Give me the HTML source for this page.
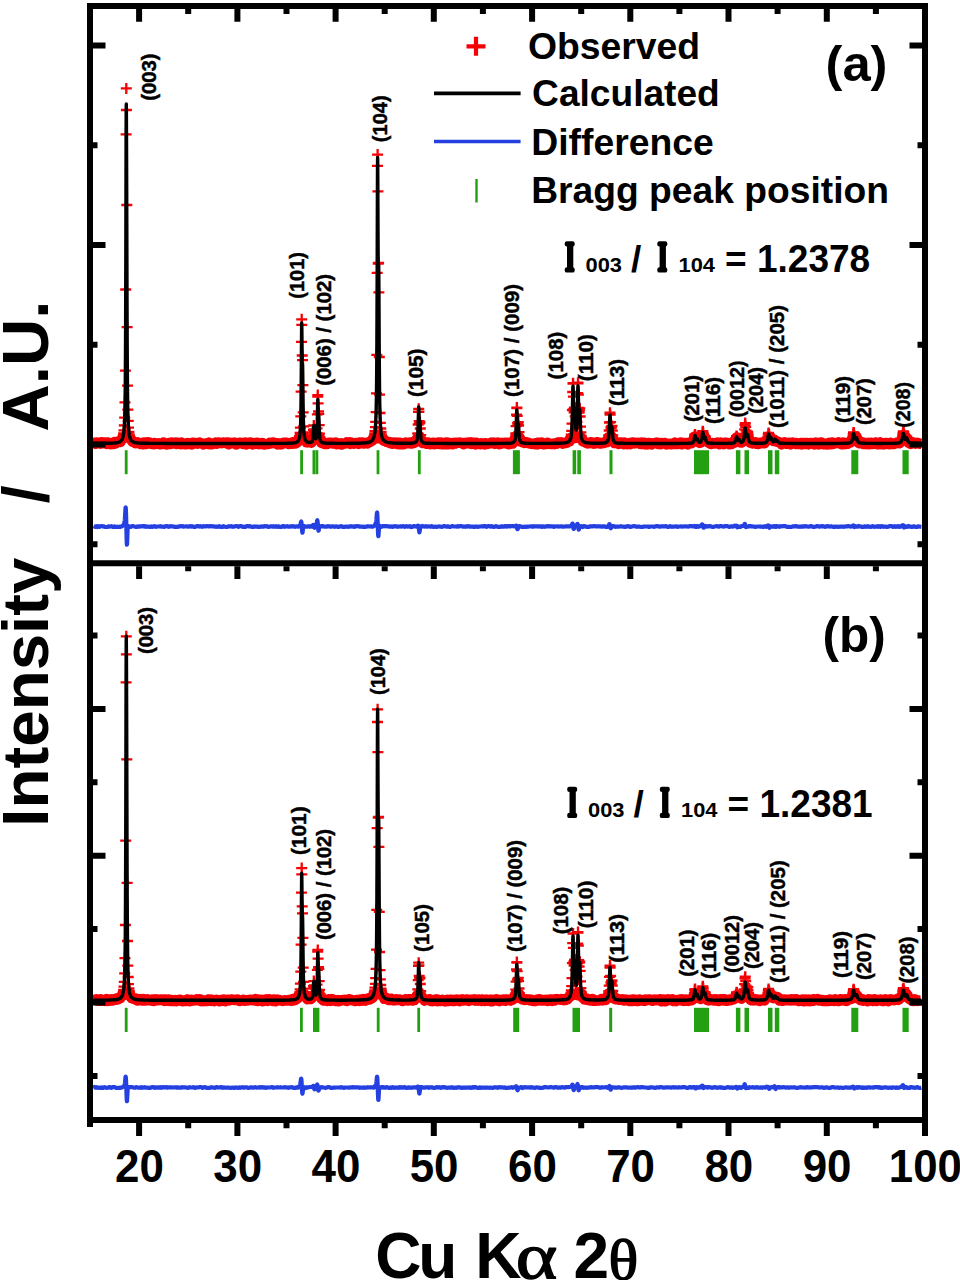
<!DOCTYPE html>
<html><head><meta charset="utf-8"><title>XRD Rietveld refinement</title>
<style>html,body{margin:0;padding:0;background:#fff;width:960px;height:1280px;overflow:hidden;font-family:"Liberation Sans",sans-serif;}svg{display:block;}</style>
</head><body>
<svg width="960" height="1280" viewBox="0 0 960 1280">
<polyline fill="none" stroke="#f40206" stroke-width="10.5" stroke-linejoin="round" points="93.5,443.1 94.5,442.7 95.5,443.7 96.5,442.6 97.5,443.5 98.5,443.1 99.5,442.5 100.5,443.4 101.5,442.5 102.5,443.2 103.5,442.5 104.5,442.5 105.5,443.2 106.5,444 107.5,442.5 108.5,442.7 109.5,443.5 110.5,444.1 111.5,443.3 112.5,442.9 113.5,444 114.5,442 115.5,443.6 116.5,442.3 117.5,441.8 118.5,441.5 119.5,441.5 120.5,441.9 121.5,439.6 122.5,438.5 123.5,437.8 124.5,437.2 125.5,437.6 126.5,436.6 127.5,436.6 128.5,436.9 129.5,437.9 130.5,438.9 131.5,440.2 132.5,441.6 133.5,441.9 134.5,441.9 135.5,443.2 136.5,443.1 137.5,442.4 138.5,443.1 139.5,443.1 140.5,443.9 141.5,443.6 142.5,442.8 143.5,444.2 144.5,442.5 145.5,443.1 146.5,443.8 147.5,442.6 148.5,443.3 149.5,442.4 150.5,443.7 151.5,443.9 152.5,443.5 153.5,444.1 154.5,443 155.5,443.8 156.5,443.6 157.5,443.6 158.5,443.3 159.5,444.1 160.5,444.3 161.5,443.4 162.5,443.8 163.5,442.6 164.5,443.8 165.5,443.7 166.5,444.4 167.5,444.1 168.5,443 169.5,443.2 170.5,443.8 171.5,442.5 172.5,443.4 173.5,442.8 174.5,442.7 175.5,442.6 176.5,444 177.5,442.7 178.5,443 179.5,443.3 180.5,444.2 181.5,442.6 182.5,443.4 183.5,443.6 184.5,444.2 185.5,444.1 186.5,444.2 187.5,443 188.5,443.3 189.5,443.2 190.5,444.2 191.5,444.4 192.5,442.8 193.5,442.8 194.5,442.9 195.5,443 196.5,443.5 197.5,443.7 198.5,443 199.5,442.5 200.5,443.3 201.5,443.2 202.5,443.6 203.5,444.4 204.5,443.9 205.5,443.5 206.5,443.7 207.5,443.9 208.5,442.6 209.5,444.3 210.5,444.1 211.5,444.2 212.5,444.1 213.5,443.3 214.5,443.3 215.5,442.7 216.5,443.8 217.5,442.6 218.5,442.6 219.5,442.9 220.5,442.8 221.5,443.2 222.5,442.6 223.5,442.5 224.5,442.8 225.5,442.7 226.5,443.2 227.5,442.5 228.5,444.2 229.5,443.7 230.5,442.8 231.5,443 232.5,443.2 233.5,443.2 234.5,442.7 235.5,444.2 236.5,444.5 237.5,443.4 238.5,443.5 239.5,442.7 240.5,442.7 241.5,443.2 242.5,443 243.5,444.1 244.5,442.8 245.5,442.5 246.5,444.4 247.5,443.5 248.5,442.8 249.5,443.6 250.5,442.5 251.5,443.5 252.5,444.4 253.5,444.2 254.5,443.9 255.5,443 256.5,443.2 257.5,442.8 258.5,444 259.5,443.5 260.5,444 261.5,443.1 262.5,442.9 263.5,444.1 264.5,444.4 265.5,444.2 266.5,444.1 267.5,444.1 268.5,443.9 269.5,442.9 270.5,443.5 271.5,443.2 272.5,442.5 273.5,442.5 274.5,443 275.5,443 276.5,443.8 277.5,444.3 278.5,443.3 279.5,444.3 280.5,444.4 281.5,444.3 282.5,443.1 283.5,442.8 284.5,442.8 285.5,442.7 286.5,442.7 287.5,443.5 288.5,444.1 289.5,443.9 290.5,443.1 291.5,443.4 292.5,443.7 293.5,442.1 294.5,443.1 295.5,443.4 296.5,442.8 297.5,442.1 298.5,440.3 299.5,436.9 300.5,438.1 301.5,437.2 302.5,438.1 303.5,438.4 304.5,437.3 305.5,440 306.5,442.3 307.5,442.4 308.5,441.6 309.5,441.6 310.5,441.6 311.5,442.7 312.5,441.2 313.5,436.8 314.5,438.2 315.5,438.6 316.5,437.8 317.5,437.2 318.5,437.6 319.5,436.8 320.5,439.4 321.5,442.9 322.5,442.8 323.5,442.9 324.5,443.8 325.5,442.9 326.5,443.9 327.5,443.9 328.5,442.7 329.5,442.8 330.5,442.9 331.5,442.8 332.5,443.5 333.5,442.9 334.5,443.2 335.5,442.6 336.5,444.2 337.5,443.1 338.5,443.3 339.5,443.5 340.5,444.2 341.5,443.2 342.5,444.2 343.5,443.4 344.5,443.4 345.5,443.4 346.5,442.4 347.5,443.2 348.5,442.7 349.5,442.3 350.5,443.9 351.5,442.7 352.5,443.3 353.5,443.7 354.5,443.4 355.5,442.9 356.5,443.3 357.5,443.3 358.5,443.8 359.5,442.4 360.5,443.3 361.5,442.6 362.5,442.6 363.5,443.5 364.5,442.9 365.5,442.9 366.5,443.2 367.5,443.4 368.5,442.2 369.5,442.3 370.5,441.6 371.5,441 372.5,440.4 373.5,438.2 374.5,437.6 375.5,437.5 376.5,438.4 377.5,437.9 378.5,438.3 379.5,438.4 380.5,437 381.5,437.6 382.5,439.2 383.5,440.7 384.5,440.3 385.5,440.9 386.5,441.9 387.5,441.5 388.5,442 389.5,441.9 390.5,443.2 391.5,443.5 392.5,443.8 393.5,442.4 394.5,443.5 395.5,443.5 396.5,442.5 397.5,444 398.5,444.2 399.5,442.7 400.5,444.2 401.5,443.1 402.5,443.3 403.5,444.3 404.5,444 405.5,442.6 406.5,443.2 407.5,443.3 408.5,442.9 409.5,442.6 410.5,442.9 411.5,443.6 412.5,442.1 413.5,443.1 414.5,442.7 415.5,441.4 416.5,441 417.5,437.7 418.5,437.5 419.5,436.6 420.5,438.5 421.5,441.2 422.5,443.1 423.5,441.9 424.5,442.5 425.5,442.2 426.5,443.8 427.5,442.8 428.5,442.6 429.5,443.2 430.5,444.2 431.5,444 432.5,442.9 433.5,442.7 434.5,444.2 435.5,443.6 436.5,443.8 437.5,442.6 438.5,442.5 439.5,443.8 440.5,443.3 441.5,442.6 442.5,444.3 443.5,443.7 444.5,444.1 445.5,442.6 446.5,444.2 447.5,442.6 448.5,444.2 449.5,443.4 450.5,443.1 451.5,443.6 452.5,444.3 453.5,443 454.5,442.7 455.5,443.5 456.5,442.9 457.5,442.7 458.5,442.8 459.5,442.6 460.5,442.9 461.5,443.1 462.5,443.1 463.5,444 464.5,443.1 465.5,443.5 466.5,442.8 467.5,443.2 468.5,442.5 469.5,443 470.5,442.5 471.5,444 472.5,443.6 473.5,442.9 474.5,443.4 475.5,444.4 476.5,442.7 477.5,444.1 478.5,443.3 479.5,443.5 480.5,444.2 481.5,443.3 482.5,443.5 483.5,443.9 484.5,444.4 485.5,443.2 486.5,444.1 487.5,443.9 488.5,443.7 489.5,443.3 490.5,443.2 491.5,442.6 492.5,442.7 493.5,442.6 494.5,443.9 495.5,443 496.5,442.8 497.5,442.6 498.5,444.1 499.5,444.2 500.5,443.8 501.5,443 502.5,442.9 503.5,443 504.5,443.3 505.5,442.7 506.5,443.2 507.5,442.8 508.5,444.2 509.5,444.1 510.5,443.2 511.5,442.4 512.5,443.6 513.5,441.8 514.5,440.7 515.5,436.5 516.5,437.3 517.5,437.4 518.5,437.5 519.5,437.5 520.5,441.4 521.5,441.4 522.5,442.3 523.5,442.2 524.5,442.9 525.5,442.3 526.5,442.3 527.5,442.9 528.5,442.8 529.5,443.5 530.5,443.4 531.5,443.9 532.5,443.7 533.5,443.8 534.5,444.2 535.5,443.2 536.5,443.1 537.5,444.4 538.5,442.7 539.5,443.9 540.5,443.7 541.5,442.5 542.5,444.1 543.5,444.2 544.5,443.7 545.5,443.9 546.5,444 547.5,442.7 548.5,443.4 549.5,443.4 550.5,444 551.5,444 552.5,444 553.5,443.5 554.5,444.1 555.5,443.7 556.5,443.7 557.5,442.7 558.5,442.3 559.5,442.5 560.5,442.9 561.5,442.3 562.5,443.7 563.5,443.1 564.5,443.1 565.5,443 566.5,442.9 567.5,442.2 568.5,440.7 569.5,441.4 570.5,439.3 571.5,437.5 572.5,437.6 573.5,437.8 574.5,436.6 575.5,438 576.5,437 577.5,436.6 578.5,437 579.5,438 580.5,436.9 581.5,438.1 582.5,441.3 583.5,441.5 584.5,441.9 585.5,442.4 586.5,443 587.5,443.4 588.5,443.2 589.5,443.3 590.5,442.2 591.5,442.4 592.5,442.7 593.5,443.7 594.5,442.8 595.5,443.3 596.5,442.2 597.5,442.3 598.5,442.8 599.5,443.5 600.5,443.6 601.5,443.5 602.5,442.7 603.5,443 604.5,442.8 605.5,442.5 606.5,441.4 607.5,441.9 608.5,437.2 609.5,438.5 610.5,438.4 611.5,436.5 612.5,437.4 613.5,440.8 614.5,442.8 615.5,442.4 616.5,442.4 617.5,442.4 618.5,444 619.5,442.6 620.5,443.4 621.5,442.6 622.5,443.4 623.5,444.2 624.5,442.6 625.5,444 626.5,443.4 627.5,444.2 628.5,443.8 629.5,442.9 630.5,444.2 631.5,443.4 632.5,442.5 633.5,442.4 634.5,443.4 635.5,443.3 636.5,443 637.5,442.7 638.5,443.1 639.5,443.1 640.5,444.1 641.5,442.5 642.5,444 643.5,444.1 644.5,442.7 645.5,444.3 646.5,443.9 647.5,444.3 648.5,443 649.5,443.2 650.5,443.3 651.5,444.5 652.5,443.6 653.5,443.2 654.5,443.3 655.5,443 656.5,442.6 657.5,442.7 658.5,444.1 659.5,443.1 660.5,444.3 661.5,443 662.5,443 663.5,443.5 664.5,442.9 665.5,443.2 666.5,444.4 667.5,444.2 668.5,444.1 669.5,443.7 670.5,444.3 671.5,444.3 672.5,443.6 673.5,443.9 674.5,442.6 675.5,443.9 676.5,443.4 677.5,444 678.5,443.7 679.5,443 680.5,442.5 681.5,444.3 682.5,442.7 683.5,443.4 684.5,443.1 685.5,443 686.5,443.8 687.5,444.3 688.5,442.8 689.5,443.5 690.5,442.7 691.5,443.1 692.5,442.4 693.5,440.7 694.5,436.8 695.5,436.9 696.5,439.9 697.5,438.7 698.5,440.9 699.5,442.9 700.5,442.7 701.5,439.7 702.5,436.8 703.5,436.9 704.5,436.7 705.5,437.8 706.5,440.8 707.5,442.1 708.5,442.5 709.5,443.2 710.5,444 711.5,443.8 712.5,443.1 713.5,443.2 714.5,443.4 715.5,443.1 716.5,443.1 717.5,442.5 718.5,442.9 719.5,444.3 720.5,442.6 721.5,443.4 722.5,443.6 723.5,444.1 724.5,442.8 725.5,442.9 726.5,442.8 727.5,443.1 728.5,443.2 729.5,444.2 730.5,443.9 731.5,443.9 732.5,442.1 733.5,441.9 734.5,442.7 735.5,441.3 736.5,437.4 737.5,439.3 738.5,438.4 739.5,439.7 740.5,442.5 741.5,442.5 742.5,442 743.5,440 744.5,437 745.5,436.7 746.5,436.8 747.5,437.5 748.5,437.9 749.5,442 750.5,442.7 751.5,443 752.5,443.4 753.5,442.9 754.5,443.2 755.5,442.3 756.5,443.8 757.5,442.7 758.5,444.1 759.5,443.5 760.5,442.8 761.5,442.4 762.5,442.6 763.5,443.3 764.5,443.3 765.5,441.8 766.5,440.9 767.5,439.2 768.5,437.7 769.5,437.3 770.5,437.6 771.5,438.4 772.5,440.1 773.5,441.1 774.5,439.8 775.5,440.8 776.5,441.7 777.5,441.7 778.5,442.1 779.5,442.4 780.5,442.6 781.5,444.2 782.5,443.7 783.5,443 784.5,442.4 785.5,443.4 786.5,443.8 787.5,443.3 788.5,442.9 789.5,443.8 790.5,444.3 791.5,442.9 792.5,442.5 793.5,443.1 794.5,443.3 795.5,443.8 796.5,442.9 797.5,444.1 798.5,443.9 799.5,443.5 800.5,442.9 801.5,444.4 802.5,443.1 803.5,444.1 804.5,442.9 805.5,442.9 806.5,444 807.5,443.1 808.5,444.4 809.5,443.5 810.5,442.9 811.5,442.9 812.5,443.3 813.5,443.8 814.5,444.4 815.5,442.8 816.5,443.3 817.5,442.9 818.5,444.4 819.5,442.8 820.5,442.6 821.5,442.6 822.5,443.3 823.5,444.3 824.5,444.2 825.5,443.9 826.5,444.5 827.5,444.3 828.5,443.1 829.5,442.8 830.5,444.3 831.5,444 832.5,442.5 833.5,443.8 834.5,443.2 835.5,443.2 836.5,443.1 837.5,442.8 838.5,442.4 839.5,443 840.5,443.1 841.5,444.3 842.5,442.6 843.5,444.3 844.5,442.8 845.5,443 846.5,443.9 847.5,443.8 848.5,442.9 849.5,441.9 850.5,442.4 851.5,441.1 852.5,439.1 853.5,436.9 854.5,437.2 855.5,439.4 856.5,436.6 857.5,439.9 858.5,442.7 859.5,443.2 860.5,442.1 861.5,442.2 862.5,442.4 863.5,444.1 864.5,442.8 865.5,443.8 866.5,444.2 867.5,443.1 868.5,442.9 869.5,444.3 870.5,443.7 871.5,443 872.5,443.9 873.5,443.1 874.5,443 875.5,442.4 876.5,444 877.5,444.3 878.5,443.7 879.5,444.3 880.5,442.5 881.5,442.9 882.5,443.4 883.5,444.4 884.5,444.3 885.5,443.2 886.5,442.9 887.5,443.3 888.5,443.4 889.5,444.3 890.5,442.8 891.5,444 892.5,443.8 893.5,444 894.5,443.8 895.5,443.5 896.5,442.8 897.5,442.7 898.5,442.6 899.5,443.2 900.5,441.1 901.5,439.9 902.5,438 903.5,437 904.5,436.6 905.5,437.3 906.5,437.6 907.5,439 908.5,442.6 909.5,443.3 910.5,443.8 911.5,442.6 912.5,442.3 913.5,442.4 914.5,443.3 915.5,443.7 916.5,443.3 917.5,442.8 918.5,443.2 919.5,443.6 920.5,443.8 921.5,443.9"/>
<path fill="none" stroke="#f40206" stroke-width="2.3" d="M117 438.2h11m-5.5-5.5v11M117.4 437.1h11m-5.5-5.5v11M117.7 435.7h11m-5.5-5.5v11M118.1 433.3h11m-5.5-5.5v11M118.5 430.4h11m-5.5-5.5v11M118.8 425.4h11m-5.5-5.5v11M119.2 417.6h11m-5.5-5.5v11M119.5 402.4h11m-5.5-5.5v11M119.9 370.7h11m-5.5-5.5v11M120.2 289.5h11m-5.5-5.5v11M120.6 134.3h11m-5.5-5.5v11M120.9 110h11m-5.5-5.5v11M121.3 205h11m-5.5-5.5v11M121.6 327.2h11m-5.5-5.5v11M122 385.7h11m-5.5-5.5v11M122.3 409.6h11m-5.5-5.5v11M122.7 420.8h11m-5.5-5.5v11M123 427.7h11m-5.5-5.5v11M123.4 431.8h11m-5.5-5.5v11M123.8 434.3h11m-5.5-5.5v11M124.1 436.2h11m-5.5-5.5v11M124.5 437.5h11m-5.5-5.5v11M293.9 438h11m-5.5-5.5v11M294.2 436.1h11m-5.5-5.5v11M294.6 433h11m-5.5-5.5v11M294.9 427.6h11m-5.5-5.5v11M295.3 416.3h11m-5.5-5.5v11M295.6 391.6h11m-5.5-5.5v11M296 341.9h11m-5.5-5.5v11M296.3 324.9h11m-5.5-5.5v11M296.7 355.5h11m-5.5-5.5v11M297 360.1h11m-5.5-5.5v11M297.4 385.1h11m-5.5-5.5v11M297.7 412.4h11m-5.5-5.5v11M298.1 426.4h11m-5.5-5.5v11M298.5 432.5h11m-5.5-5.5v11M298.8 435.9h11m-5.5-5.5v11M299.2 437.8h11m-5.5-5.5v11M307.7 436.2h11m-5.5-5.5v11M308 429.9h11m-5.5-5.5v11M308.4 425.7h11m-5.5-5.5v11M308.7 429.4h11m-5.5-5.5v11M309.1 430.8h11m-5.5-5.5v11M309.4 432.5h11m-5.5-5.5v11M309.8 436.3h11m-5.5-5.5v11M310.1 438.1h11m-5.5-5.5v11M310.5 438.3h11m-5.5-5.5v11M310.8 437.3h11m-5.5-5.5v11M311.2 434.6h11m-5.5-5.5v11M311.5 428.3h11m-5.5-5.5v11M311.9 414.3h11m-5.5-5.5v11M312.2 396.7h11m-5.5-5.5v11M312.6 403.3h11m-5.5-5.5v11M313 411.3h11m-5.5-5.5v11M313.3 413.8h11m-5.5-5.5v11M313.7 425.1h11m-5.5-5.5v11M314 433.7h11m-5.5-5.5v11M314.4 437.5h11m-5.5-5.5v11M368.1 438h11m-5.5-5.5v11M368.5 437h11m-5.5-5.5v11M368.8 435.6h11m-5.5-5.5v11M369.2 433.7h11m-5.5-5.5v11M369.5 431.1h11m-5.5-5.5v11M369.9 427.2h11m-5.5-5.5v11M370.2 421.8h11m-5.5-5.5v11M370.6 412.1h11m-5.5-5.5v11M371 393.3h11m-5.5-5.5v11M371.3 354.9h11m-5.5-5.5v11M371.7 272.9h11m-5.5-5.5v11M372 165.8h11m-5.5-5.5v11M372.4 191.4h11m-5.5-5.5v11M372.7 263.5h11m-5.5-5.5v11M373.1 263h11m-5.5-5.5v11M373.4 292.4h11m-5.5-5.5v11M373.8 357h11m-5.5-5.5v11M374.1 394.6h11m-5.5-5.5v11M374.5 413h11m-5.5-5.5v11M374.8 422.9h11m-5.5-5.5v11M375.2 428.5h11m-5.5-5.5v11M375.6 431.8h11m-5.5-5.5v11M375.9 434.3h11m-5.5-5.5v11M376.3 436.1h11m-5.5-5.5v11M376.6 437.2h11m-5.5-5.5v11M377 438.3h11m-5.5-5.5v11M412 437.6h11m-5.5-5.5v11M412.3 433.5h11m-5.5-5.5v11M412.7 424.5h11m-5.5-5.5v11M413 411.8h11m-5.5-5.5v11M413.4 411.6h11m-5.5-5.5v11M413.7 421.2h11m-5.5-5.5v11M414.1 423.3h11m-5.5-5.5v11M414.5 422.3h11m-5.5-5.5v11M414.8 428.5h11m-5.5-5.5v11M415.2 435.2h11m-5.5-5.5v11M509.9 437.3h11m-5.5-5.5v11M510.3 433.5h11m-5.5-5.5v11M510.6 426.1h11m-5.5-5.5v11M511 414.7h11m-5.5-5.5v11M511.4 408h11m-5.5-5.5v11M511.7 415.8h11m-5.5-5.5v11M512.1 423.2h11m-5.5-5.5v11M512.4 424.6h11m-5.5-5.5v11M512.8 422.2h11m-5.5-5.5v11M513.1 425.5h11m-5.5-5.5v11M513.5 432.2h11m-5.5-5.5v11M513.8 436.9h11m-5.5-5.5v11M565.1 438.5h11m-5.5-5.5v11M565.5 436.9h11m-5.5-5.5v11M565.8 434.6h11m-5.5-5.5v11M566.2 430.8h11m-5.5-5.5v11M566.5 423.7h11m-5.5-5.5v11M566.9 410h11m-5.5-5.5v11M567.2 392h11m-5.5-5.5v11M567.6 383.2h11m-5.5-5.5v11M567.9 396.6h11m-5.5-5.5v11M568.3 408.8h11m-5.5-5.5v11M568.6 412.4h11m-5.5-5.5v11M569 407.6h11m-5.5-5.5v11M569.3 407.8h11m-5.5-5.5v11M569.7 416.3h11m-5.5-5.5v11M570.1 424.1h11m-5.5-5.5v11M570.4 428.2h11m-5.5-5.5v11M570.8 429.4h11m-5.5-5.5v11M571.1 427.5h11m-5.5-5.5v11M571.5 421.9h11m-5.5-5.5v11M571.8 410.5h11m-5.5-5.5v11M572.2 393.1h11m-5.5-5.5v11M572.5 383.4h11m-5.5-5.5v11M572.9 394.6h11m-5.5-5.5v11M573.2 407.8h11m-5.5-5.5v11M573.6 412.5h11m-5.5-5.5v11M573.9 410.5h11m-5.5-5.5v11M574.3 408.4h11m-5.5-5.5v11M574.7 416.5h11m-5.5-5.5v11M575 426.6h11m-5.5-5.5v11M575.4 432.4h11m-5.5-5.5v11M575.7 436h11m-5.5-5.5v11M576.1 437.9h11m-5.5-5.5v11M602.9 438.1h11m-5.5-5.5v11M603.3 435.4h11m-5.5-5.5v11M603.7 430.5h11m-5.5-5.5v11M604 422.5h11m-5.5-5.5v11M604.4 413.8h11m-5.5-5.5v11M604.7 414.6h11m-5.5-5.5v11M605.1 422.1h11m-5.5-5.5v11M605.4 427.4h11m-5.5-5.5v11M605.8 428.2h11m-5.5-5.5v11M606.1 426.3h11m-5.5-5.5v11M606.5 426h11m-5.5-5.5v11M606.8 430.7h11m-5.5-5.5v11M607.2 435.3h11m-5.5-5.5v11M607.5 438.1h11m-5.5-5.5v11M688.9 437.7h11m-5.5-5.5v11M689.2 435.4h11m-5.5-5.5v11M689.6 434.7h11m-5.5-5.5v11M689.9 436.2h11m-5.5-5.5v11M690.3 438.1h11m-5.5-5.5v11M691.4 438.5h11m-5.5-5.5v11M691.7 438.1h11m-5.5-5.5v11M696.3 438.4h11m-5.5-5.5v11M696.7 435.7h11m-5.5-5.5v11M697 432.5h11m-5.5-5.5v11M697.4 431.4h11m-5.5-5.5v11M697.7 433.2h11m-5.5-5.5v11M698.1 436h11m-5.5-5.5v11M698.4 437.4h11m-5.5-5.5v11M698.8 437.6h11m-5.5-5.5v11M699.1 436.9h11m-5.5-5.5v11M699.5 436.5h11m-5.5-5.5v11M699.8 437.4h11m-5.5-5.5v11M730.6 437.8h11m-5.5-5.5v11M731 436.2h11m-5.5-5.5v11M731.3 436.5h11m-5.5-5.5v11M731.7 437.8h11m-5.5-5.5v11M738.4 437h11m-5.5-5.5v11M738.7 433.9h11m-5.5-5.5v11M739.1 429.4h11m-5.5-5.5v11M739.5 424.9h11m-5.5-5.5v11M739.8 423.1h11m-5.5-5.5v11M740.2 426.8h11m-5.5-5.5v11M740.5 430.7h11m-5.5-5.5v11M740.9 433.3h11m-5.5-5.5v11M741.2 434.2h11m-5.5-5.5v11M741.6 433.1h11m-5.5-5.5v11M741.9 431.7h11m-5.5-5.5v11M742.3 432.5h11m-5.5-5.5v11M742.6 434.9h11m-5.5-5.5v11M743 437.4h11m-5.5-5.5v11M762.4 436.6h11m-5.5-5.5v11M762.8 433.9h11m-5.5-5.5v11M763.1 433h11m-5.5-5.5v11M763.5 434.2h11m-5.5-5.5v11M763.9 436.5h11m-5.5-5.5v11M764.2 437.9h11m-5.5-5.5v11M764.9 438.2h11m-5.5-5.5v11M765.3 437.6h11m-5.5-5.5v11M765.6 437.3h11m-5.5-5.5v11M766 438.1h11m-5.5-5.5v11M847 438.5h11m-5.5-5.5v11M847.3 436.6h11m-5.5-5.5v11M847.7 434.2h11m-5.5-5.5v11M848 432.7h11m-5.5-5.5v11M848.4 432.9h11m-5.5-5.5v11M848.7 434.9h11m-5.5-5.5v11M849.1 436.8h11m-5.5-5.5v11M849.4 438.2h11m-5.5-5.5v11M850.1 438.4h11m-5.5-5.5v11M850.5 437.9h11m-5.5-5.5v11M850.9 437.2h11m-5.5-5.5v11M851.2 437.4h11m-5.5-5.5v11M896.8 437.3h11m-5.5-5.5v11M897.2 434.9h11m-5.5-5.5v11M897.5 432.7h11m-5.5-5.5v11M897.9 431.5h11m-5.5-5.5v11M898.2 432.2h11m-5.5-5.5v11M898.6 434.4h11m-5.5-5.5v11M898.9 436.2h11m-5.5-5.5v11M899.3 437.6h11m-5.5-5.5v11M899.7 438.3h11m-5.5-5.5v11M900 438.2h11m-5.5-5.5v11M900.4 437.7h11m-5.5-5.5v11M900.7 436.9h11m-5.5-5.5v11M901.1 436.6h11m-5.5-5.5v11M901.4 437.3h11m-5.5-5.5v11M120.8 88.4h11m-5.5-5.5v11M296.2 319.3h11m-5.5-5.5v11M308.3 425.4h11m-5.5-5.5v11M312.3 395.1h11m-5.5-5.5v11M372.1 154.6h11m-5.5-5.5v11M413.2 408.8h11m-5.5-5.5v11M511.3 407.6h11m-5.5-5.5v11M567.5 383.5h11m-5.5-5.5v11M572.5 382.7h11m-5.5-5.5v11M604.5 412.7h11m-5.5-5.5v11M689.5 434.5h11m-5.5-5.5v11M697.3 431.2h11m-5.5-5.5v11M731.1 436.1h11m-5.5-5.5v11M739.7 423.2h11m-5.5-5.5v11M763.1 432.9h11m-5.5-5.5v11M848.1 432.5h11m-5.5-5.5v11M897.9 431.5h11m-5.5-5.5v11"/>
<polyline fill="none" stroke="#000" stroke-width="3.4" stroke-linejoin="round" points="93.5,443.4 94.5,443.4 95.5,443.4 96.5,443.4 97.5,443.4 98.5,443.4 99.5,443.4 100.5,443.4 101.5,443.4 102.5,443.4 103.5,443.4 104.5,443.3 105.5,443.3 106.5,443.3 107.5,443.3 108.5,443.3 109.5,443.2 110.5,443.2 111.5,443.2 112.5,443.1 113.5,443.1 114.5,443 115.5,442.9 116.5,442.7 117.5,442.6 118.5,442.3 119.5,441.9 120.5,441.4 121.5,440.4 122.5,438.6 123.5,434.5 123.6,433.9 123.7,433.1 123.8,432.3 123.9,431.4 124,430.4 124.1,429.2 124.2,427.9 124.3,426.3 124.4,424.6 124.5,422.5 124.6,420.2 124.7,417.4 124.8,414 124.9,410 125,405.1 125.1,398.9 125.2,391.2 125.3,381.2 125.4,368.3 125.5,351.5 125.6,329.5 125.7,301.1 125.8,265.5 125.9,222.8 126,176.6 126.1,135.1 126.2,109.3 126.3,104 126.3,104.8 126.4,116.7 126.5,136.5 126.6,160.7 126.7,190.5 126.8,225.7 126.9,262.5 127,296.2 127.1,324.5 127.2,347.2 127.3,364.9 127.4,378.6 127.5,389.2 127.6,397.5 127.7,404 127.8,409.2 127.9,413.4 128,416.9 128.1,419.8 128.2,422.2 128.3,424.3 128.4,426.1 128.5,427.7 128.6,429.1 128.7,430.2 128.8,431.3 128.9,432.2 129,433.1 129.1,433.8 129.2,434.5 129.3,435.1 129.4,435.6 129.5,436.1 129.6,436.5 129.7,436.9 129.8,437.3 129.9,437.7 130,438 130.1,438.3 130.2,438.5 130.3,438.8 130.4,439 130.5,439.2 130.6,439.4 130.7,439.6 130.8,439.8 130.9,439.9 131,440.1 131.1,440.2 131.2,440.4 131.3,440.5 131.4,440.6 131.5,440.7 131.6,440.8 131.7,440.9 131.8,441 131.9,441.1 132,441.2 132.1,441.3 132.2,441.3 132.3,441.4 133.3,442 134.3,442.3 135.3,442.6 136.3,442.8 137.3,442.9 138.3,443 139.3,443.1 140.3,443.1 141.3,443.2 142.3,443.2 143.3,443.2 144.3,443.3 145.3,443.3 146.3,443.3 147.3,443.3 148.3,443.3 149.3,443.4 150.3,443.4 151.3,443.4 152.3,443.4 153.3,443.4 154.3,443.4 155.3,443.4 156.3,443.4 157.3,443.4 158.3,443.4 159.3,443.4 160.3,443.4 161.3,443.4 162.3,443.4 163.3,443.4 164.3,443.4 165.3,443.5 166.3,443.5 167.3,443.5 168.3,443.5 169.3,443.5 170.3,443.5 171.3,443.5 172.3,443.5 173.3,443.5 174.3,443.5 175.3,443.5 176.3,443.5 177.3,443.5 178.3,443.5 179.3,443.5 180.3,443.5 181.3,443.5 182.3,443.5 183.3,443.5 184.3,443.5 185.3,443.5 186.3,443.5 187.3,443.5 188.3,443.5 189.3,443.5 190.3,443.5 191.3,443.5 192.3,443.5 193.3,443.5 194.3,443.5 195.3,443.5 196.3,443.5 197.3,443.5 198.3,443.5 199.3,443.5 200.3,443.5 201.3,443.5 202.3,443.5 203.3,443.5 204.3,443.5 205.3,443.5 206.3,443.5 207.3,443.5 208.3,443.5 209.3,443.5 210.3,443.5 211.3,443.5 212.3,443.5 213.3,443.5 214.3,443.5 215.3,443.5 216.3,443.5 217.3,443.5 218.3,443.5 219.3,443.5 220.3,443.5 221.3,443.5 222.3,443.5 223.3,443.5 224.3,443.5 225.3,443.5 226.3,443.5 227.3,443.5 228.3,443.5 229.3,443.5 230.3,443.5 231.3,443.5 232.3,443.5 233.3,443.5 234.3,443.5 235.3,443.5 236.3,443.5 237.3,443.5 238.3,443.5 239.3,443.5 240.3,443.5 241.3,443.5 242.3,443.5 243.3,443.5 244.3,443.5 245.3,443.5 246.3,443.5 247.3,443.5 248.3,443.5 249.3,443.5 250.3,443.5 251.3,443.5 252.3,443.5 253.3,443.5 254.3,443.5 255.3,443.5 256.3,443.5 257.3,443.5 258.3,443.5 259.3,443.5 260.3,443.5 261.3,443.5 262.3,443.5 263.3,443.5 264.3,443.5 265.3,443.5 266.3,443.5 267.3,443.5 268.3,443.5 269.3,443.5 270.3,443.5 271.3,443.5 272.3,443.4 273.3,443.4 274.3,443.4 275.3,443.4 276.3,443.4 277.3,443.4 278.3,443.4 279.3,443.4 280.3,443.4 281.3,443.4 282.3,443.4 283.3,443.4 284.3,443.4 285.3,443.4 286.3,443.3 287.3,443.3 288.3,443.3 289.3,443.3 290.3,443.2 291.3,443.2 292.3,443.1 293.3,443 294.3,442.9 295.3,442.7 296.3,442.3 297.3,441.8 298.3,440.8 299.3,438.4 299.4,438 299.5,437.5 299.6,437 299.7,436.4 299.8,435.7 299.9,435 300,434.1 300.1,433 300.2,431.8 300.3,430.4 300.4,428.6 300.5,426.5 300.6,423.8 300.7,420.5 300.8,416.2 300.9,410.8 301,403.9 301.1,395.1 301.2,384.3 301.3,371.2 301.4,356.4 301.5,341.4 301.6,329.2 301.7,323.2 301.7,322.9 301.8,324.9 301.9,332.6 302,342.6 302.1,351.5 302.2,357.9 302.3,361.4 302.4,362.5 302.5,363.1 302.6,365.3 302.7,370.4 302.8,378.2 302.9,387.4 303,396.3 303.1,404.3 303.2,410.9 303.3,416.3 303.4,420.6 303.5,424.1 303.6,426.8 303.7,429 303.8,430.8 303.9,432.2 304,433.4 304.1,434.4 304.2,435.3 304.3,436 304.4,436.6 304.5,437.2 304.6,437.7 304.7,438.1 304.8,438.5 304.9,438.8 305,439.2 305.1,439.4 305.2,439.7 305.3,439.9 305.4,440.1 305.5,440.3 305.6,440.5 305.7,440.6 305.8,440.8 305.9,440.9 306,441 306.1,441.1 306.2,441.2 306.3,441.3 306.4,441.4 306.5,441.5 306.6,441.6 306.7,441.6 306.8,441.7 306.9,441.7 307,441.8 307.1,441.9 307.2,441.9 307.3,442 307.4,442 307.5,442 307.6,442.1 307.7,442.1 308.7,442.3 309.7,442.4 310.7,442.3 311.7,441.8 311.8,441.8 311.9,441.7 312,441.5 312.1,441.4 312.2,441.2 312.3,441.1 312.4,440.9 312.5,440.6 312.6,440.3 312.7,439.9 312.8,439.4 312.9,438.8 313,438 313.1,437 313.2,435.7 313.3,434.2 313.4,432.3 313.5,430.2 313.6,428.1 313.7,426.4 313.8,425.5 313.8,425.5 313.9,425.7 314,426.8 314.1,428.2 314.2,429.5 314.3,430.4 314.4,430.8 314.5,431 314.6,430.9 314.7,431 314.8,431.5 314.9,432.4 315,433.5 315.1,434.7 315.2,435.7 315.3,436.6 315.4,437.3 315.5,437.8 315.6,438.2 315.7,438.4 315.8,438.5 315.9,438.6 316,438.5 316.1,438.4 316.2,438.1 316.3,437.8 316.4,437.4 316.5,436.8 316.6,436.1 316.7,435.2 316.8,434 316.9,432.5 317,430.6 317.1,428.1 317.2,425 317.3,421.1 317.4,416.4 317.5,411.1 317.6,405.8 317.7,401.6 317.8,399.5 317.8,399.4 317.9,400.2 318,403 318.1,406.7 318.2,410.1 318.3,412.6 318.4,414 318.5,414.5 318.6,414.5 318.7,414.8 318.8,416 318.9,418.4 319,421.4 319.1,424.7 319.2,427.7 319.3,430.3 319.4,432.5 319.5,434.2 319.6,435.6 319.7,436.7 319.8,437.6 319.9,438.3 320,438.9 320.1,439.4 320.2,439.8 320.3,440.1 320.4,440.4 320.5,440.7 320.6,440.9 320.7,441.1 320.8,441.3 320.9,441.4 321,441.5 321.1,441.7 321.2,441.8 321.3,441.9 321.4,442 321.5,442.1 321.6,442.1 321.7,442.2 321.8,442.3 321.9,442.3 322,442.4 322.1,442.4 322.2,442.5 322.3,442.5 322.4,442.6 322.5,442.6 322.6,442.6 322.7,442.7 322.8,442.7 322.9,442.7 323,442.7 323.1,442.8 323.2,442.8 323.3,442.8 323.4,442.8 323.5,442.9 323.6,442.9 323.7,442.9 323.8,442.9 324.8,443 325.8,443.1 326.8,443.2 327.8,443.2 328.8,443.3 329.8,443.3 330.8,443.3 331.8,443.3 332.8,443.3 333.8,443.3 334.8,443.4 335.8,443.4 336.8,443.4 337.8,443.4 338.8,443.4 339.8,443.4 340.8,443.4 341.8,443.4 342.8,443.4 343.8,443.4 344.8,443.4 345.8,443.4 346.8,443.4 347.8,443.3 348.8,443.3 349.8,443.3 350.8,443.3 351.8,443.3 352.8,443.3 353.8,443.3 354.8,443.3 355.8,443.3 356.8,443.2 357.8,443.2 358.8,443.2 359.8,443.2 360.8,443.1 361.8,443.1 362.8,443 363.8,443 364.8,442.9 365.8,442.8 366.8,442.7 367.8,442.5 368.8,442.3 369.8,442 370.8,441.5 371.8,440.8 372.8,439.6 373.8,437.5 374.8,433 374.9,432.3 375,431.5 375.1,430.7 375.2,429.7 375.3,428.6 375.4,427.4 375.5,426 375.6,424.4 375.7,422.6 375.8,420.6 375.9,418.2 376,415.4 376.1,412.1 376.2,408.2 376.3,403.5 376.4,397.7 376.5,390.6 376.6,381.7 376.7,370.6 376.8,356.6 376.9,339.2 377,317.6 377.1,291.5 377.2,261 377.3,227.6 377.4,195.1 377.5,169.6 377.6,157.8 377.6,157.5 377.7,162.7 377.8,180.9 377.9,205.4 378,229.5 378.1,249 378.2,262.3 378.3,269 378.4,270 378.5,267.4 378.6,264.6 378.7,265.7 378.8,273.6 378.9,288.2 379,306.8 379.1,326.3 379.2,344.5 379.3,360.2 379.4,373.4 379.5,384.2 379.6,392.9 379.7,400 379.8,405.7 379.9,410.3 380,414.1 380.1,417.3 380.2,420 380.3,422.2 380.4,424.1 380.5,425.8 380.6,427.2 380.7,428.5 380.8,429.7 380.9,430.7 381,431.6 381.1,432.4 381.2,433.1 381.3,433.7 381.4,434.3 381.5,434.9 381.6,435.4 381.7,435.8 381.8,436.2 381.9,436.6 382,437 382.1,437.3 382.2,437.6 382.3,437.9 382.4,438.1 382.5,438.4 382.6,438.6 382.7,438.8 382.8,439 382.9,439.2 383,439.4 383.1,439.5 383.2,439.7 383.3,439.8 383.4,440 383.5,440.1 383.6,440.2 384.6,441.1 385.6,441.7 386.6,442.1 387.6,442.4 388.6,442.6 389.6,442.7 390.6,442.8 391.6,442.9 392.6,443 393.6,443.1 394.6,443.1 395.6,443.1 396.6,443.2 397.6,443.2 398.6,443.2 399.6,443.2 400.6,443.3 401.6,443.3 402.6,443.3 403.6,443.3 404.6,443.3 405.6,443.3 406.6,443.3 407.6,443.3 408.6,443.3 409.6,443.2 410.6,443.2 411.6,443.2 412.6,443.1 413.6,442.9 414.6,442.7 415.6,442.2 416.6,441 416.7,440.8 416.8,440.5 416.9,440.3 417,439.9 417.1,439.5 417.2,439.1 417.3,438.6 417.4,437.9 417.5,437.1 417.6,436.1 417.7,434.9 417.8,433.4 417.9,431.6 418,429.3 418.1,426.5 418.2,423.2 418.3,419.3 418.4,415.2 418.5,411.3 418.6,408.3 418.7,407 418.7,406.9 418.8,407.6 418.9,409.8 419,412.9 419.1,416 419.2,418.7 419.3,420.7 419.4,421.9 419.5,422.4 419.6,422.3 419.7,421.8 419.8,421.2 419.9,421.1 420,421.8 420.1,423.3 420.2,425.4 420.3,427.7 420.4,430 420.5,432 420.6,433.8 420.7,435.2 420.8,436.4 420.9,437.4 421,438.2 421.1,438.8 421.2,439.4 421.3,439.8 421.4,440.2 421.5,440.5 421.6,440.8 421.7,441 421.8,441.2 421.9,441.4 422,441.5 422.1,441.7 422.2,441.8 422.3,441.9 422.4,442 422.5,442.1 422.6,442.2 422.7,442.3 422.8,442.3 422.9,442.4 423,442.4 423.1,442.5 423.2,442.5 423.3,442.6 423.4,442.6 423.5,442.7 423.6,442.7 423.7,442.7 423.8,442.8 423.9,442.8 424,442.8 424.1,442.9 424.2,442.9 424.3,442.9 424.4,442.9 424.5,442.9 424.6,443 424.7,443 425.7,443.1 426.7,443.2 427.7,443.3 428.7,443.3 429.7,443.3 430.7,443.4 431.7,443.4 432.7,443.4 433.7,443.4 434.7,443.4 435.7,443.4 436.7,443.4 437.7,443.4 438.7,443.4 439.7,443.4 440.7,443.4 441.7,443.4 442.7,443.4 443.7,443.4 444.7,443.5 445.7,443.5 446.7,443.5 447.7,443.5 448.7,443.5 449.7,443.5 450.7,443.5 451.7,443.5 452.7,443.5 453.7,443.5 454.7,443.5 455.7,443.5 456.7,443.5 457.7,443.5 458.7,443.5 459.7,443.5 460.7,443.5 461.7,443.5 462.7,443.5 463.7,443.5 464.7,443.5 465.7,443.5 466.7,443.5 467.7,443.5 468.7,443.5 469.7,443.5 470.7,443.5 471.7,443.5 472.7,443.5 473.7,443.5 474.7,443.5 475.7,443.5 476.7,443.5 477.7,443.5 478.7,443.5 479.7,443.5 480.7,443.5 481.7,443.5 482.7,443.5 483.7,443.5 484.7,443.5 485.7,443.5 486.7,443.5 487.7,443.5 488.7,443.5 489.7,443.5 490.7,443.5 491.7,443.5 492.7,443.5 493.7,443.5 494.7,443.5 495.7,443.5 496.7,443.5 497.7,443.4 498.7,443.4 499.7,443.4 500.7,443.4 501.7,443.4 502.7,443.4 503.7,443.4 504.7,443.4 505.7,443.4 506.7,443.3 507.7,443.3 508.7,443.3 509.7,443.2 510.7,443.1 511.7,442.9 512.7,442.6 513.7,442.1 514.7,440.7 514.8,440.5 514.9,440.2 515,439.9 515.1,439.5 515.2,439.1 515.3,438.6 515.4,438 515.5,437.2 515.6,436.4 515.7,435.3 515.8,434 515.9,432.5 516,430.6 516.1,428.4 516.2,425.8 516.3,422.8 516.4,419.5 516.5,416.2 516.6,413.2 516.7,411 516.8,410 516.8,410 516.9,410.5 517,412.2 517.1,414.7 517.2,417.5 517.3,420.1 517.4,422.3 517.5,424 517.6,425.2 517.7,425.8 517.8,426 517.9,425.7 518,425.1 518.1,424.4 518.2,423.8 518.3,423.5 518.4,423.9 518.5,425 518.6,426.5 518.7,428.3 518.8,430.2 518.9,432 519,433.5 519.1,434.9 519.2,436 519.3,437 519.4,437.8 519.5,438.5 519.6,439.1 519.7,439.5 519.8,439.9 519.9,440.3 520,440.6 520.1,440.8 520.2,441 520.3,441.2 520.4,441.4 520.5,441.5 520.6,441.7 520.7,441.8 520.8,441.9 520.9,442 521,442.1 521.1,442.2 521.2,442.2 521.3,442.3 521.4,442.4 521.5,442.4 521.6,442.5 521.7,442.5 521.8,442.6 521.9,442.6 522,442.6 522.1,442.7 522.2,442.7 522.3,442.8 522.4,442.8 522.5,442.8 522.6,442.8 522.7,442.9 522.8,442.9 523.8,443.1 524.8,443.2 525.8,443.2 526.8,443.3 527.8,443.3 528.8,443.3 529.8,443.4 530.8,443.4 531.8,443.4 532.8,443.4 533.8,443.4 534.8,443.4 535.8,443.4 536.8,443.4 537.8,443.4 538.8,443.4 539.8,443.4 540.8,443.4 541.8,443.4 542.8,443.4 543.8,443.4 544.8,443.4 545.8,443.4 546.8,443.4 547.8,443.4 548.8,443.4 549.8,443.4 550.8,443.4 551.8,443.4 552.8,443.4 553.8,443.3 554.8,443.3 555.8,443.3 556.8,443.3 557.8,443.3 558.8,443.2 559.8,443.2 560.8,443.2 561.8,443.1 562.8,443.1 563.8,443 564.8,442.9 565.8,442.7 566.8,442.5 567.8,442.2 568.8,441.6 569.8,440.5 570.8,438 570.9,437.6 571,437.1 571.1,436.6 571.2,436 571.3,435.2 571.4,434.4 571.5,433.4 571.6,432.2 571.7,430.9 571.8,429.2 571.9,427.3 572,424.9 572.1,422.2 572.2,418.9 572.3,415.1 572.4,410.7 572.5,405.9 572.6,400.7 572.7,395.6 572.8,391.1 572.9,387.8 573,386.4 573,386.3 573.1,387 573.2,389.6 573.3,393.3 573.4,397.5 573.5,401.7 573.6,405.5 573.7,408.6 573.8,411 573.9,412.6 574,413.5 574.1,413.7 574.2,413.2 574.3,412.2 574.4,410.9 574.5,409.6 574.6,408.5 574.7,408.1 574.8,408.6 574.9,410.1 575,412.2 575.1,414.8 575.2,417.5 575.3,420 575.4,422.3 575.5,424.3 575.6,425.9 575.7,427.2 575.8,428.3 575.9,429 576,429.6 576.1,429.9 576.2,430 576.3,429.9 576.4,429.6 576.5,429.1 576.6,428.3 576.7,427.3 576.8,426 576.9,424.3 577,422.2 577.1,419.7 577.2,416.6 577.3,413 577.4,408.9 577.5,404.2 577.6,399.2 577.7,394.3 577.8,390 577.9,386.9 578,385.6 578,385.6 578.1,386.4 578.2,389 578.3,392.8 578.4,397.2 578.5,401.5 578.6,405.4 578.7,408.6 578.8,411.2 578.9,413 579,414 579.1,414.4 579.2,414.1 579.3,413.3 579.4,412.2 579.5,411 579.6,410 579.7,409.6 579.8,410.1 579.9,411.6 580,413.8 580.1,416.5 580.2,419.4 580.3,422.2 580.4,424.7 580.5,427 580.6,429 580.7,430.7 580.8,432.2 580.9,433.5 581,434.5 581.1,435.4 581.2,436.2 581.3,436.8 581.4,437.4 581.5,437.9 581.6,438.3 581.7,438.7 581.8,439 581.9,439.3 582,439.6 582.1,439.8 582.2,440 582.3,440.2 582.4,440.4 582.5,440.5 582.6,440.7 582.7,440.8 582.8,440.9 582.9,441.1 583,441.2 583.1,441.3 583.2,441.4 583.3,441.4 583.4,441.5 583.5,441.6 583.6,441.7 583.7,441.7 583.8,441.8 583.9,441.9 584,441.9 585,442.3 586,442.6 587,442.8 588,442.9 589,443 590,443.1 591,443.1 592,443.2 593,443.2 594,443.2 595,443.2 596,443.2 597,443.2 598,443.2 599,443.2 600,443.2 601,443.2 602,443.1 603,443.1 604,443 605,442.8 606,442.5 607,441.8 607.1,441.7 607.2,441.6 607.3,441.5 607.4,441.4 607.5,441.2 607.6,441.1 607.7,440.9 607.8,440.7 607.9,440.5 608,440.2 608.1,439.9 608.2,439.6 608.3,439.2 608.4,438.8 608.5,438.2 608.6,437.6 608.7,436.9 608.8,436 608.9,434.9 609,433.7 609.1,432.3 609.2,430.6 609.3,428.7 609.4,426.5 609.5,424.1 609.6,421.6 609.7,419.2 609.8,417.1 609.9,415.6 610,415 610,414.9 610.1,415.3 610.2,416.5 610.3,418.3 610.4,420.3 610.5,422.4 610.6,424.4 610.7,426.1 610.8,427.4 610.9,428.4 611,429.1 611.1,429.4 611.2,429.5 611.3,429.2 611.4,428.8 611.5,428.2 611.6,427.5 611.7,427 611.8,426.8 611.9,426.9 612,427.5 612.1,428.5 612.2,429.8 612.3,431.2 612.4,432.5 612.5,433.8 612.6,435 612.7,436 612.8,436.9 612.9,437.7 613,438.3 613.1,438.9 613.2,439.4 613.3,439.8 613.4,440.1 613.5,440.4 613.6,440.7 613.7,440.9 613.8,441.1 613.9,441.3 614,441.4 614.1,441.6 614.2,441.7 614.3,441.8 614.4,441.9 614.5,442 614.6,442.1 614.7,442.2 614.8,442.2 614.9,442.3 615,442.3 615.1,442.4 615.2,442.5 615.3,442.5 615.4,442.5 615.5,442.6 615.6,442.6 615.7,442.7 615.8,442.7 615.9,442.7 616,442.8 617,443 618,443.1 619,443.2 620,443.2 621,443.3 622,443.3 623,443.3 624,443.4 625,443.4 626,443.4 627,443.4 628,443.4 629,443.4 630,443.4 631,443.4 632,443.4 633,443.4 634,443.4 635,443.4 636,443.4 637,443.5 638,443.5 639,443.5 640,443.5 641,443.5 642,443.5 643,443.5 644,443.5 645,443.5 646,443.5 647,443.5 648,443.5 649,443.5 650,443.5 651,443.5 652,443.5 653,443.5 654,443.5 655,443.5 656,443.5 657,443.5 658,443.5 659,443.5 660,443.5 661,443.5 662,443.5 663,443.5 664,443.5 665,443.5 666,443.5 667,443.5 668,443.5 669,443.5 670,443.5 671,443.5 672,443.5 673,443.5 674,443.5 675,443.5 676,443.5 677,443.5 678,443.5 679,443.4 680,443.4 681,443.4 682,443.4 683,443.4 684,443.4 685,443.4 686,443.4 687,443.4 688,443.3 689,443.3 690,443.2 691,443.1 692,442.9 692.1,442.8 692.2,442.8 692.3,442.7 692.4,442.7 692.5,442.6 692.6,442.6 692.7,442.5 692.8,442.5 692.9,442.4 693,442.3 693.1,442.2 693.2,442.1 693.3,441.9 693.4,441.8 693.5,441.6 693.6,441.4 693.7,441.1 693.8,440.9 693.9,440.5 694,440.2 694.1,439.7 694.2,439.3 694.3,438.7 694.4,438.1 694.5,437.5 694.6,436.9 694.7,436.3 694.8,435.8 694.9,435.5 695,435.4 695,435.4 695.1,435.4 695.2,435.7 695.3,436.1 695.4,436.6 695.5,437.1 695.6,437.6 695.7,438.1 695.8,438.5 695.9,438.9 696,439.1 696.1,439.3 696.2,439.5 696.3,439.5 696.4,439.5 696.5,439.5 696.6,439.3 696.7,439.2 696.8,439 696.9,438.8 697,438.7 697.1,438.6 697.2,438.6 697.3,438.7 697.4,438.9 697.5,439.2 697.6,439.5 697.7,439.8 697.8,440.1 697.9,440.5 698,440.7 698.1,441 698.2,441.2 698.3,441.4 698.4,441.5 698.5,441.7 698.6,441.8 698.7,441.9 698.8,442 698.9,442 699,442.1 699.1,442.1 699.2,442.2 699.3,442.2 699.4,442.2 699.5,442.2 699.6,442.2 699.7,442.2 699.8,442.2 699.9,442.2 700,442.2 700.1,442.1 700.2,442.1 700.3,442 700.4,442 700.5,441.9 700.6,441.8 700.7,441.7 700.8,441.6 700.9,441.5 701,441.3 701.1,441.2 701.2,441 701.3,440.7 701.4,440.4 701.5,440.1 701.6,439.7 701.7,439.3 701.8,438.8 701.9,438.2 702,437.6 702.1,436.9 702.2,436.1 702.3,435.2 702.4,434.4 702.5,433.6 702.6,433 702.7,432.5 702.8,432.3 702.8,432.3 702.9,432.4 703,432.8 703.1,433.4 703.2,434.1 703.3,434.8 703.4,435.5 703.5,436.2 703.6,436.7 703.7,437.2 703.8,437.6 703.9,437.9 704,438.1 704.1,438.2 704.2,438.2 704.3,438.2 704.4,438 704.5,437.8 704.6,437.6 704.7,437.4 704.8,437.2 704.9,437 705,437 705.1,437.1 705.2,437.4 705.3,437.7 705.4,438.2 705.5,438.6 705.6,439.1 705.7,439.5 705.8,439.9 705.9,440.3 706,440.6 706.1,440.9 706.2,441.2 706.3,441.4 706.4,441.6 706.5,441.8 706.6,441.9 706.7,442.1 706.8,442.2 706.9,442.3 707,442.4 707.1,442.4 707.2,442.5 707.3,442.6 707.4,442.6 707.5,442.7 707.6,442.7 707.7,442.8 707.8,442.8 707.9,442.8 708,442.9 708.1,442.9 708.2,442.9 708.3,442.9 708.4,443 708.5,443 708.6,443 708.7,443 708.8,443 709.8,443.2 710.8,443.3 711.8,443.3 712.8,443.3 713.8,443.4 714.8,443.4 715.8,443.4 716.8,443.4 717.8,443.4 718.8,443.4 719.8,443.4 720.8,443.4 721.8,443.4 722.8,443.4 723.8,443.4 724.8,443.4 725.8,443.4 726.8,443.4 727.8,443.4 728.8,443.3 729.8,443.3 730.8,443.3 731.8,443.2 732.8,443.1 733.8,442.8 733.9,442.8 734,442.7 734.1,442.7 734.2,442.6 734.3,442.6 734.4,442.5 734.5,442.4 734.6,442.3 734.7,442.3 734.8,442.2 734.9,442 735,441.9 735.1,441.7 735.2,441.6 735.3,441.3 735.4,441.1 735.5,440.8 735.6,440.5 735.7,440.2 735.8,439.8 735.9,439.4 736,438.9 736.1,438.4 736.2,437.9 736.3,437.5 736.4,437.2 736.5,436.9 736.6,436.8 736.6,436.8 736.7,436.8 736.8,437 736.9,437.3 737,437.7 737.1,438.1 737.2,438.5 737.3,438.9 737.4,439.2 737.5,439.5 737.6,439.8 737.7,440 737.8,440.1 737.9,440.2 738,440.2 738.1,440.2 738.2,440.2 738.3,440.1 738.4,440 738.5,439.8 738.6,439.7 738.7,439.5 738.8,439.4 738.9,439.4 739,439.4 739.1,439.5 739.2,439.7 739.3,439.9 739.4,440.1 739.5,440.4 739.6,440.6 739.7,440.8 739.8,441 739.9,441.2 740,441.4 740.1,441.5 740.2,441.7 740.3,441.8 740.4,441.9 740.5,441.9 740.6,442 740.7,442.1 740.8,442.1 740.9,442.1 741,442.2 741.1,442.2 741.2,442.2 741.3,442.2 741.4,442.2 741.5,442.2 741.6,442.1 741.7,442.1 741.8,442.1 741.9,442.1 742,442 742.1,442 742.2,441.9 742.3,441.9 742.4,441.8 742.5,441.7 742.6,441.6 742.7,441.5 742.8,441.4 742.9,441.3 743,441.2 743.1,441 743.2,440.8 743.3,440.6 743.4,440.4 743.5,440.1 743.6,439.8 743.7,439.4 743.8,439 743.9,438.5 744,437.9 744.1,437.3 744.2,436.5 744.3,435.7 744.4,434.8 744.5,433.8 744.6,432.7 744.7,431.6 744.8,430.5 744.9,429.5 745,428.7 745.1,428.1 745.2,427.9 745.2,427.9 745.3,428 745.4,428.4 745.5,429.2 745.6,430 745.7,431 745.8,432 745.9,432.9 746,433.7 746.1,434.4 746.2,435 746.3,435.5 746.4,435.9 746.5,436.1 746.6,436.2 746.7,436.3 746.8,436.2 746.9,436 747,435.8 747.1,435.5 747.2,435.2 747.3,434.8 747.4,434.6 747.5,434.5 747.6,434.5 747.7,434.6 747.8,435 747.9,435.5 748,436 748.1,436.6 748.2,437.2 748.3,437.8 748.4,438.4 748.5,438.9 748.6,439.3 748.7,439.7 748.8,440.1 748.9,440.4 749,440.7 749.1,440.9 749.2,441.2 749.3,441.4 749.4,441.5 749.5,441.7 749.6,441.8 749.7,441.9 749.8,442 749.9,442.1 750,442.2 750.1,442.3 750.2,442.3 750.3,442.4 750.4,442.4 750.5,442.5 750.6,442.5 750.7,442.6 750.8,442.6 750.9,442.7 751,442.7 751.1,442.7 751.2,442.8 752.2,443 753.2,443.1 754.2,443.2 755.2,443.2 756.2,443.3 757.2,443.3 758.2,443.3 759.2,443.3 760.2,443.3 761.2,443.2 762.2,443.2 763.2,443.1 764.2,443 765.2,442.8 766.2,442.2 766.3,442.1 766.4,442 766.5,441.9 766.6,441.8 766.7,441.7 766.8,441.5 766.9,441.3 767,441.1 767.1,440.9 767.2,440.6 767.3,440.3 767.4,439.9 767.5,439.5 767.6,439.1 767.7,438.5 767.8,438 767.9,437.4 768,436.7 768.1,436.1 768.2,435.4 768.3,434.8 768.4,434.3 768.5,434 768.6,433.9 768.6,433.9 768.7,433.9 768.8,434.2 768.9,434.6 769,435.1 769.1,435.7 769.2,436.2 769.3,436.8 769.4,437.3 769.5,437.7 769.6,438.1 769.7,438.4 769.8,438.7 769.9,438.8 770,438.9 770.1,439 770.2,439 770.3,438.9 770.4,438.8 770.5,438.6 770.6,438.4 770.7,438.2 770.8,438 770.9,437.9 771,437.8 771.1,437.8 771.2,437.9 771.3,438.1 771.4,438.3 771.5,438.6 771.6,439 771.7,439.3 771.8,439.6 771.9,440 772,440.2 772.1,440.5 772.2,440.7 772.3,440.9 772.4,441.1 772.5,441.3 772.6,441.4 772.7,441.5 772.8,441.6 772.9,441.6 773,441.7 773.1,441.7 773.2,441.7 773.3,441.7 773.4,441.6 773.5,441.6 773.6,441.5 773.7,441.4 773.8,441.3 773.9,441.2 774,441 774.1,440.8 774.2,440.6 774.3,440.4 774.4,440.2 774.5,439.9 774.6,439.7 774.7,439.4 774.8,439.3 774.9,439.1 775,439.1 775,439.1 775.1,439.1 775.2,439.3 775.3,439.4 775.4,439.7 775.5,439.9 775.6,440.2 775.7,440.4 775.8,440.6 775.9,440.8 776,441 776.1,441.1 776.2,441.3 776.3,441.3 776.4,441.4 776.5,441.4 776.6,441.4 776.7,441.4 776.8,441.4 776.9,441.3 777,441.3 777.1,441.2 777.2,441.1 777.3,441 777.4,441 777.5,441 777.6,441 777.7,441.1 777.8,441.2 777.9,441.4 778,441.5 778.1,441.7 778.2,441.8 778.3,442 778.4,442.1 778.5,442.2 778.6,442.3 778.7,442.4 778.8,442.5 778.9,442.6 779,442.7 779.1,442.7 779.2,442.8 779.3,442.8 779.4,442.9 779.5,442.9 779.6,443 779.7,443 779.8,443 779.9,443 780,443.1 780.1,443.1 780.2,443.1 780.3,443.1 780.4,443.1 780.5,443.1 780.6,443.2 780.7,443.2 780.8,443.2 780.9,443.2 781,443.2 782,443.3 783,443.3 784,443.4 785,443.4 786,443.4 787,443.4 788,443.4 789,443.4 790,443.4 791,443.4 792,443.5 793,443.5 794,443.5 795,443.5 796,443.5 797,443.5 798,443.5 799,443.5 800,443.5 801,443.5 802,443.5 803,443.5 804,443.5 805,443.5 806,443.5 807,443.5 808,443.5 809,443.5 810,443.5 811,443.5 812,443.5 813,443.5 814,443.5 815,443.5 816,443.5 817,443.5 818,443.5 819,443.5 820,443.5 821,443.5 822,443.5 823,443.5 824,443.5 825,443.5 826,443.5 827,443.5 828,443.5 829,443.5 830,443.5 831,443.5 832,443.5 833,443.5 834,443.5 835,443.5 836,443.5 837,443.4 838,443.4 839,443.4 840,443.4 841,443.4 842,443.4 843,443.4 844,443.4 845,443.3 846,443.3 847,443.2 848,443.1 849,443 850,442.7 851,442.2 851.1,442.1 851.2,442 851.3,441.9 851.4,441.7 851.5,441.6 851.6,441.4 851.7,441.3 851.8,441.1 851.9,440.8 852,440.6 852.1,440.3 852.2,440 852.3,439.6 852.4,439.2 852.5,438.8 852.6,438.3 852.7,437.8 852.8,437.2 852.9,436.6 853,436 853.1,435.4 853.2,434.8 853.3,434.3 853.4,433.9 853.5,433.6 853.6,433.5 853.6,433.5 853.7,433.5 853.8,433.8 853.9,434.1 854,434.6 854.1,435.1 854.2,435.6 854.3,436.1 854.4,436.7 854.5,437.1 854.6,437.6 854.7,437.9 854.8,438.3 854.9,438.5 855,438.7 855.1,438.9 855.2,439 855.3,439.1 855.4,439.1 855.5,439 855.6,439 855.7,438.8 855.8,438.7 855.9,438.5 856,438.3 856.1,438.1 856.2,438 856.3,437.8 856.4,437.8 856.5,437.8 856.6,437.8 856.7,438 856.8,438.2 856.9,438.5 857,438.8 857.1,439.1 857.2,439.5 857.3,439.8 857.4,440.1 857.5,440.4 857.6,440.7 857.7,440.9 857.8,441.1 857.9,441.3 858,441.5 858.1,441.7 858.2,441.8 858.3,441.9 858.4,442.1 858.5,442.2 858.6,442.3 858.7,442.3 858.8,442.4 858.9,442.5 859,442.5 859.1,442.6 859.2,442.6 859.3,442.7 859.4,442.7 859.5,442.8 859.6,442.8 860.6,443 861.6,443.2 862.6,443.3 863.6,443.3 864.6,443.3 865.6,443.4 866.6,443.4 867.6,443.4 868.6,443.4 869.6,443.4 870.6,443.4 871.6,443.4 872.6,443.4 873.6,443.4 874.6,443.4 875.6,443.4 876.6,443.5 877.6,443.5 878.6,443.5 879.6,443.5 880.6,443.5 881.6,443.5 882.6,443.4 883.6,443.4 884.6,443.4 885.6,443.4 886.6,443.4 887.6,443.4 888.6,443.4 889.6,443.4 890.6,443.4 891.6,443.4 892.6,443.4 893.6,443.4 894.6,443.3 895.6,443.3 896.6,443.2 897.6,443.1 898.6,443 899.6,442.7 900.6,442.2 900.7,442.1 900.8,442 900.9,441.9 901,441.8 901.1,441.6 901.2,441.5 901.3,441.3 901.4,441.2 901.5,441 901.6,440.8 901.7,440.5 901.8,440.2 901.9,439.9 902,439.6 902.1,439.2 902.2,438.8 902.3,438.4 902.4,437.9 902.5,437.4 902.6,436.9 902.7,436.3 902.8,435.7 902.9,435.2 903,434.6 903.1,434.2 903.2,433.8 903.3,433.6 903.4,433.5 903.4,433.5 903.5,433.5 903.6,433.7 903.7,434 903.8,434.4 903.9,434.9 904,435.4 904.1,435.9 904.2,436.4 904.3,436.9 904.4,437.3 904.5,437.7 904.6,438 904.7,438.3 904.8,438.6 904.9,438.8 905,438.9 905.1,439.1 905.2,439.1 905.3,439.2 905.4,439.2 905.5,439.1 905.6,439 905.7,438.9 905.8,438.8 905.9,438.6 906,438.4 906.1,438.2 906.2,438.1 906.3,437.9 906.4,437.8 906.5,437.8 906.6,437.8 906.7,437.9 906.8,438 906.9,438.3 907,438.5 907.1,438.8 907.2,439.1 907.3,439.4 907.4,439.7 907.5,440 907.6,440.3 907.7,440.5 907.8,440.8 907.9,441 908,441.2 908.1,441.4 908.2,441.5 908.3,441.7 908.4,441.8 908.5,441.9 908.6,442.1 908.7,442.1 908.8,442.2 908.9,442.3 909,442.4 909.1,442.5 909.2,442.5 909.3,442.6 909.4,442.6 910.4,442.9 911.4,443.1 912.4,443.2 913.4,443.3 914.4,443.3 915.4,443.4 916.4,443.4 917.4,443.4 918.4,443.4 919.4,443.4 920.4,443.4 921.4,443.4"/>
<polyline fill="none" stroke="#2440e0" stroke-width="4.2" stroke-linejoin="round" points="93.5,526.2 94.5,526.6 95.5,526.9 96.5,526.2 97.5,527 98.5,526.1 99.5,526.8 100.5,526.3 101.5,526 102.5,526.4 103.5,526.3 104.5,526.7 105.5,527 106.5,527 107.5,526.9 108.5,526.4 109.5,526.6 110.5,526.5 111.5,526.1 112.5,526.9 113.5,526.8 114.5,526.3 115.5,527 116.5,527 117.5,526.7 118.5,526.9 119.5,526.7 120.5,526.8 121.5,526.4 122.5,526.1 123.5,525.1 123.6,524.8 123.7,524.5 123.8,524.2 123.9,523.8 124,523.5 124.1,523.1 124.2,522.8 124.3,522.4 124.4,521.9 124.5,521.4 124.6,520.9 124.7,520.3 124.8,519.5 124.9,518.4 125,517.1 125.1,515.5 125.2,513.7 125.3,511.7 125.4,509.9 125.5,508.5 125.6,507.6 125.7,507.5 125.8,508.3 125.9,510.1 126,512.7 126.1,516.1 126.2,520.1 126.3,523.2 126.3,524.5 126.4,529.2 126.5,533.8 126.6,537.9 126.7,541.3 126.8,543.6 126.9,544.7 127,544.4 127.1,543 127.2,540.6 127.3,537.8 127.4,534.8 127.5,532 127.6,529.9 127.7,528.2 127.8,527.1 127.9,526.4 128,526 128.1,525.9 128.2,525.9 128.3,526 128.4,526.1 128.5,526.3 128.6,526.4 128.7,526.5 128.8,526.5 128.9,526.6 129,526.6 129.1,526.7 129.2,526.7 129.3,526.8 129.4,526.8 129.5,526.8 129.6,526.8 129.7,526.9 129.8,526.9 129.9,526.9 130,526.9 130.1,526.9 130.2,526.9 130.3,526.9 130.4,526.9 130.5,526.9 130.6,526.9 130.7,526.8 130.8,526.8 130.9,526.7 131,526.6 131.1,526.6 131.2,526.5 131.3,526.5 131.4,526.4 131.5,526.3 131.6,526.3 131.7,526.3 131.8,526.3 131.9,526.2 132,526.2 132.1,526.2 132.2,526.2 132.3,526.1 133.3,526.2 134.3,526.5 135.3,526.7 136.3,527 137.3,526.5 138.3,526.4 139.3,526.6 140.3,526.4 141.3,526.5 142.3,526.1 143.3,526.2 144.3,526.7 145.3,526.2 146.3,526.8 147.3,526.6 148.3,526.6 149.3,526.8 150.3,526.9 151.3,526.4 152.3,526.9 153.3,526.6 154.3,526.1 155.3,526.7 156.3,526.8 157.3,526.5 158.3,526.5 159.3,526.4 160.3,526.2 161.3,526.7 162.3,526.7 163.3,526.7 164.3,526.9 165.3,526.3 166.3,526.2 167.3,526.2 168.3,526.9 169.3,526.3 170.3,526.2 171.3,526.5 172.3,526.3 173.3,526.5 174.3,526.8 175.3,526.9 176.3,526.8 177.3,527 178.3,526.7 179.3,526.3 180.3,526.3 181.3,526.2 182.3,526.2 183.3,526.7 184.3,526.5 185.3,526.5 186.3,526.3 187.3,526.4 188.3,526.7 189.3,526.4 190.3,526.1 191.3,526.6 192.3,526.2 193.3,526.8 194.3,526.8 195.3,526.8 196.3,526.3 197.3,526.1 198.3,526.2 199.3,526.6 200.3,526.2 201.3,526.6 202.3,526.8 203.3,526.2 204.3,526.3 205.3,526.3 206.3,526.3 207.3,526 208.3,526.4 209.3,526.2 210.3,526.3 211.3,526.1 212.3,526.5 213.3,526.3 214.3,526.4 215.3,526.7 216.3,526.8 217.3,526.5 218.3,526.8 219.3,526.2 220.3,526.7 221.3,527 222.3,527 223.3,526.2 224.3,526.5 225.3,526.8 226.3,527 227.3,527 228.3,526.4 229.3,526.3 230.3,526.3 231.3,526.2 232.3,526.8 233.3,526.5 234.3,526.6 235.3,526.3 236.3,526.1 237.3,526.1 238.3,526.8 239.3,526.3 240.3,526.1 241.3,526 242.3,526.7 243.3,526.8 244.3,526.9 245.3,527 246.3,526.3 247.3,526.1 248.3,526.3 249.3,526.2 250.3,526.3 251.3,526.7 252.3,526.9 253.3,526.9 254.3,526.4 255.3,526.7 256.3,526.7 257.3,526.6 258.3,526.9 259.3,526.8 260.3,526.7 261.3,526.4 262.3,526.6 263.3,526.7 264.3,526.1 265.3,526.4 266.3,526.2 267.3,526.3 268.3,526.9 269.3,526.7 270.3,526.6 271.3,526.3 272.3,526.6 273.3,526.4 274.3,526.4 275.3,526.7 276.3,526.2 277.3,526.8 278.3,526.3 279.3,526.7 280.3,527 281.3,526.9 282.3,526.3 283.3,526 284.3,526.8 285.3,526.6 286.3,526.5 287.3,526.2 288.3,526.7 289.3,526.6 290.3,526.6 291.3,526.2 292.3,526.6 293.3,526.2 294.3,526.6 295.3,526.8 296.3,526.4 297.3,526.4 298.3,526.7 299.3,525.8 299.4,525.7 299.5,525.6 299.6,525.5 299.7,525.5 299.8,525.5 299.9,525.4 300,525.4 300.1,525.3 300.2,525.2 300.3,525.1 300.4,524.8 300.5,524.6 300.6,524.1 300.7,523.5 300.8,522.9 300.9,522.4 301,522 301.1,521.7 301.2,521.6 301.3,521.7 301.4,522.1 301.5,522.8 301.6,523.8 301.7,524.9 301.7,525.3 301.8,526.3 301.9,527.7 302,529.1 302.1,530.5 302.2,531.6 302.3,532.3 302.4,532.7 302.5,532.6 302.6,532.1 302.7,531.3 302.8,530.3 302.9,529.3 303,528.4 303.1,527.6 303.2,527 303.3,526.6 303.4,526.3 303.5,526.1 303.6,526.1 303.7,526.1 303.8,526.1 303.9,526.1 304,526.1 304.1,526.2 304.2,526.2 304.3,526.3 304.4,526.3 304.5,526.3 304.6,526.3 304.7,526.4 304.8,526.4 304.9,526.5 305,526.5 305.1,526.5 305.2,526.6 305.3,526.6 305.4,526.6 305.5,526.7 305.6,526.7 305.7,526.6 305.8,526.6 305.9,526.6 306,526.6 306.1,526.6 306.2,526.6 306.3,526.6 306.4,526.6 306.5,526.6 306.6,526.6 306.7,526.6 306.8,526.6 306.9,526.6 307,526.6 307.1,526.6 307.2,526.6 307.3,526.6 307.4,526.6 307.5,526.6 307.6,526.6 307.7,526.5 308.7,526.2 309.7,526.8 310.7,526.2 311.7,526.6 311.8,526.6 311.9,526.5 312,526.5 312.1,526.4 312.2,526.3 312.3,526.2 312.4,526.1 312.5,526 312.6,525.9 312.7,525.7 312.8,525.5 312.9,525.3 313,525.1 313.1,524.9 313.2,524.8 313.3,524.8 313.4,524.9 313.5,525 313.6,525.2 313.7,525.5 313.8,525.8 313.8,525.9 313.9,526.2 314,526.6 314.1,527 314.2,527.4 314.3,527.6 314.4,527.8 314.5,527.8 314.6,527.8 314.7,527.6 314.8,527.4 314.9,527.1 315,526.7 315.1,526.4 315.2,526.2 315.3,525.9 315.4,525.8 315.5,525.6 315.6,525.5 315.7,525.4 315.8,525.3 315.9,525.2 316,525.1 316.1,525 316.2,524.9 316.3,524.7 316.4,524.5 316.5,524.1 316.6,523.7 316.7,523.1 316.8,522.5 316.9,521.9 317,521.2 317.1,520.7 317.2,520.4 317.3,520.3 317.4,520.4 317.5,520.9 317.6,521.7 317.7,522.7 317.8,523.8 317.8,524 317.9,525 318,526.3 318.1,527.5 318.2,528.7 318.3,529.6 318.4,530.3 318.5,530.7 318.6,530.6 318.7,530.3 318.8,529.8 318.9,529.2 319,528.5 319.1,527.9 319.2,527.3 319.3,526.9 319.4,526.6 319.5,526.5 319.6,526.4 319.7,526.3 319.8,526.3 319.9,526.3 320,526.3 320.1,526.3 320.2,526.4 320.3,526.4 320.4,526.4 320.5,526.4 320.6,526.4 320.7,526.4 320.8,526.4 320.9,526.3 321,526.3 321.1,526.3 321.2,526.3 321.3,526.3 321.4,526.2 321.5,526.2 321.6,526.2 321.7,526.2 321.8,526.2 321.9,526.2 322,526.2 322.1,526.2 322.2,526.2 322.3,526.2 322.4,526.2 322.5,526.2 322.6,526.2 322.7,526.2 322.8,526.3 322.9,526.3 323,526.3 323.1,526.3 323.2,526.3 323.3,526.3 323.4,526.3 323.5,526.3 323.6,526.4 323.7,526.4 323.8,526.4 324.8,526.7 325.8,526.7 326.8,526.7 327.8,526.2 328.8,526.3 329.8,526.4 330.8,526.8 331.8,526.5 332.8,526.3 333.8,526.6 334.8,526.8 335.8,526.4 336.8,526.3 337.8,526.8 338.8,526.8 339.8,526.6 340.8,526.2 341.8,526.3 342.8,526.9 343.8,526.8 344.8,526.8 345.8,526.6 346.8,526.6 347.8,526.8 348.8,526.7 349.8,526.6 350.8,526.1 351.8,526.5 352.8,526.7 353.8,526.3 354.8,526.8 355.8,526.4 356.8,526 357.8,526.2 358.8,526.3 359.8,526.7 360.8,526.7 361.8,526.5 362.8,526.9 363.8,526.8 364.8,526.7 365.8,526.9 366.8,526.5 367.8,526.2 368.8,526.4 369.8,526.5 370.8,526.4 371.8,526.6 372.8,526.7 373.8,526.2 374.8,525.4 374.9,525.2 375,525 375.1,524.8 375.2,524.5 375.3,524.3 375.4,524 375.5,523.8 375.6,523.5 375.7,523.3 375.8,523 375.9,522.6 376,522.2 376.1,521.7 376.2,521.1 376.3,520.3 376.4,519.4 376.5,518.2 376.6,516.9 376.7,515.6 376.8,514.3 376.9,513.3 377,512.7 377.1,512.6 377.2,513.2 377.3,514.4 377.4,516.1 377.5,518.4 377.6,520.9 377.6,521.5 377.7,523.7 377.8,526.6 377.9,529.4 378,531.9 378.1,534 378.2,535.5 378.3,536.2 378.4,536.1 378.5,535.4 378.6,534.1 378.7,532.6 378.8,530.9 378.9,529.4 379,528.2 379.1,527.2 379.2,526.5 379.3,526.1 379.4,525.9 379.5,525.7 379.6,525.8 379.7,525.8 379.8,525.9 379.9,526 380,526.1 380.1,526.2 380.2,526.3 380.3,526.3 380.4,526.4 380.5,526.5 380.6,526.5 380.7,526.6 380.8,526.6 380.9,526.6 381,526.7 381.1,526.7 381.2,526.7 381.3,526.7 381.4,526.8 381.5,526.8 381.6,526.7 381.7,526.7 381.8,526.6 381.9,526.6 382,526.5 382.1,526.5 382.2,526.4 382.3,526.4 382.4,526.3 382.5,526.3 382.6,526.2 382.7,526.2 382.8,526.2 382.9,526.2 383,526.2 383.1,526.2 383.2,526.1 383.3,526.1 383.4,526.1 383.5,526.1 383.6,526.1 384.6,526.2 385.6,526.3 386.6,526.1 387.6,526.3 388.6,526.4 389.6,526.6 390.6,526.7 391.6,526.4 392.6,526.9 393.6,526.5 394.6,526.2 395.6,526.3 396.6,526.4 397.6,526.8 398.6,526.6 399.6,526.5 400.6,526.4 401.6,526.6 402.6,526.3 403.6,526.1 404.6,526.8 405.6,526.3 406.6,526.2 407.6,526.6 408.6,526.5 409.6,526.1 410.6,527 411.6,526.5 412.6,526.8 413.6,526.2 414.6,526.1 415.6,526.5 416.6,526.7 416.7,526.6 416.8,526.6 416.9,526.5 417,526.4 417.1,526.3 417.2,526.3 417.3,526.2 417.4,526.1 417.5,525.9 417.6,525.9 417.7,525.8 417.8,525.7 417.9,525.6 418,525.5 418.1,525.5 418.2,525.6 418.3,525.7 418.4,525.9 418.5,526.3 418.6,526.7 418.7,527.4 418.7,527.5 418.8,528.1 418.9,529 419,530 419.1,530.8 419.2,531.6 419.3,532.1 419.4,532.3 419.5,532.1 419.6,531.7 419.7,531 419.8,530.2 419.9,529.3 420,528.5 420.1,527.9 420.2,527.4 420.3,527 420.4,526.8 420.5,526.6 420.6,526.5 420.7,526.5 420.8,526.4 420.9,526.4 421,526.4 421.1,526.4 421.2,526.4 421.3,526.4 421.4,526.3 421.5,526.3 421.6,526.3 421.7,526.3 421.8,526.3 421.9,526.3 422,526.2 422.1,526.2 422.2,526.2 422.3,526.2 422.4,526.2 422.5,526.1 422.6,526.2 422.7,526.2 422.8,526.2 422.9,526.3 423,526.3 423.1,526.3 423.2,526.4 423.3,526.4 423.4,526.4 423.5,526.5 423.6,526.5 423.7,526.5 423.8,526.5 423.9,526.5 424,526.5 424.1,526.5 424.2,526.6 424.3,526.6 424.4,526.6 424.5,526.6 424.6,526.5 424.7,526.5 425.7,526.2 426.7,526.7 427.7,526.4 428.7,526.5 429.7,526.4 430.7,526.7 431.7,526.1 432.7,526.7 433.7,526.9 434.7,526.7 435.7,526.7 436.7,526.9 437.7,526.6 438.7,526.5 439.7,526.4 440.7,526.7 441.7,526.8 442.7,526.7 443.7,526.2 444.7,526.1 445.7,526.5 446.7,526.7 447.7,526.3 448.7,526.7 449.7,526.8 450.7,526.8 451.7,526.2 452.7,526.2 453.7,526.4 454.7,526.5 455.7,526.5 456.7,526.6 457.7,526.1 458.7,526.6 459.7,526.3 460.7,526.1 461.7,526.2 462.7,526.6 463.7,526.7 464.7,526.5 465.7,526.8 466.7,526.2 467.7,526.6 468.7,526.2 469.7,526.7 470.7,526.7 471.7,526.7 472.7,526.6 473.7,526.9 474.7,526.9 475.7,526.4 476.7,526.7 477.7,526.8 478.7,526.7 479.7,526.5 480.7,526.5 481.7,526.3 482.7,526.4 483.7,526.5 484.7,526 485.7,526.3 486.7,526.8 487.7,526.1 488.7,526.1 489.7,526.3 490.7,526.7 491.7,526.2 492.7,526.5 493.7,527 494.7,526.8 495.7,526.1 496.7,526.4 497.7,526.8 498.7,526.9 499.7,526.9 500.7,526.7 501.7,526.3 502.7,526.7 503.7,526.7 504.7,526.1 505.7,526.3 506.7,526.7 507.7,526.1 508.7,526.3 509.7,526.2 510.7,526.3 511.7,526.1 512.7,526.2 513.7,526.2 514.7,526.5 514.8,526.5 514.9,526.4 515,526.3 515.1,526.3 515.2,526.2 515.3,526.1 515.4,526 515.5,525.9 515.6,525.8 515.7,525.8 515.8,525.7 515.9,525.6 516,525.5 516.1,525.5 516.2,525.5 516.3,525.5 516.4,525.6 516.5,525.7 516.6,525.9 516.7,526.2 516.8,526.6 516.8,526.7 516.9,527 517,527.5 517.1,528 517.2,528.5 517.3,528.9 517.4,529.1 517.5,529.2 517.6,529.2 517.7,529 517.8,528.7 517.9,528.3 518,527.9 518.1,527.5 518.2,527.2 518.3,527 518.4,526.8 518.5,526.7 518.6,526.6 518.7,526.5 518.8,526.4 518.9,526.3 519,526.3 519.1,526.3 519.2,526.2 519.3,526.2 519.4,526.1 519.5,526.1 519.6,526.1 519.7,526.1 519.8,526.2 519.9,526.2 520,526.3 520.1,526.3 520.2,526.3 520.3,526.4 520.4,526.4 520.5,526.4 520.6,526.5 520.7,526.5 520.8,526.5 520.9,526.6 521,526.6 521.1,526.6 521.2,526.7 521.3,526.7 521.4,526.7 521.5,526.8 521.6,526.8 521.7,526.8 521.8,526.8 521.9,526.8 522,526.8 522.1,526.8 522.2,526.8 522.3,526.8 522.4,526.8 522.5,526.8 522.6,526.8 522.7,526.8 522.8,526.8 523.8,526.8 524.8,526.7 525.8,526.9 526.8,526.6 527.8,526.8 528.8,526.5 529.8,526.5 530.8,526.3 531.8,526.4 532.8,526.8 533.8,526.2 534.8,526.5 535.8,526.4 536.8,526.3 537.8,526.3 538.8,526.6 539.8,526.4 540.8,526.3 541.8,526.8 542.8,526.3 543.8,526.6 544.8,526.8 545.8,526.4 546.8,526.2 547.8,526.2 548.8,526.5 549.8,526.1 550.8,526.5 551.8,526.4 552.8,526.3 553.8,526.8 554.8,526.3 555.8,526.5 556.8,526.5 557.8,526.3 558.8,526.6 559.8,526.5 560.8,526.4 561.8,526.4 562.8,526.7 563.8,526.6 564.8,526.5 565.8,526.4 566.8,526.3 567.8,526.5 568.8,526.3 569.8,526.4 570.8,526.1 570.9,526.1 571,526 571.1,526 571.2,526 571.3,525.9 571.4,525.9 571.5,525.8 571.6,525.7 571.7,525.5 571.8,525.2 571.9,525 572,524.6 572.1,524.3 572.2,524 572.3,523.8 572.4,523.6 572.5,523.6 572.6,523.6 572.7,523.8 572.8,524.2 572.9,524.7 573,525.2 573,525.4 573.1,525.9 573.2,526.6 573.3,527.2 573.4,527.8 573.5,528.3 573.6,528.8 573.7,529 573.8,529 573.9,528.8 574,528.4 574.1,528 574.2,527.6 574.3,527.2 574.4,526.8 574.5,526.6 574.6,526.4 574.7,526.2 574.8,526.1 574.9,526 575,526 575.1,525.9 575.2,525.9 575.3,525.9 575.4,525.8 575.5,525.8 575.6,525.8 575.7,525.8 575.8,525.8 575.9,525.8 576,525.8 576.1,525.8 576.2,525.8 576.3,525.8 576.4,525.8 576.5,525.7 576.6,525.6 576.7,525.5 576.8,525.2 576.9,525 577,524.7 577.1,524.4 577.2,524.1 577.3,523.9 577.4,523.8 577.5,523.8 577.6,523.9 577.7,524.2 577.8,524.6 577.9,525.1 578,525.7 578,525.9 578.1,526.4 578.2,527.2 578.3,527.9 578.4,528.5 578.5,529.1 578.6,529.4 578.7,529.6 578.8,529.5 578.9,529.3 579,528.9 579.1,528.4 579.2,527.9 579.3,527.4 579.4,527.1 579.5,526.7 579.6,526.5 579.7,526.4 579.8,526.3 579.9,526.3 580,526.3 580.1,526.3 580.2,526.3 580.3,526.3 580.4,526.3 580.5,526.3 580.6,526.3 580.7,526.3 580.8,526.3 580.9,526.3 581,526.3 581.1,526.2 581.2,526.2 581.3,526.2 581.4,526.2 581.5,526.2 581.6,526.3 581.7,526.3 581.8,526.4 581.9,526.5 582,526.6 582.1,526.7 582.2,526.8 582.3,526.8 582.4,526.9 582.5,527 582.6,526.9 582.7,526.9 582.8,526.8 582.9,526.7 583,526.6 583.1,526.6 583.2,526.5 583.3,526.4 583.4,526.3 583.5,526.3 583.6,526.2 583.7,526.2 583.8,526.2 583.9,526.2 584,526.2 585,526.3 586,526.7 587,526.9 588,526.9 589,526.9 590,526.4 591,526.2 592,526.4 593,526.3 594,526.1 595,526.2 596,526.4 597,526.4 598,526.3 599,526.3 600,526.3 601,526.6 602,526.6 603,526.4 604,526.4 605,526.6 606,526.9 607,526.8 607.1,526.8 607.2,526.8 607.3,526.8 607.4,526.8 607.5,526.8 607.6,526.7 607.7,526.6 607.8,526.4 607.9,526.3 608,526.2 608.1,526.1 608.2,526 608.3,525.9 608.4,525.7 608.5,525.6 608.6,525.5 608.7,525.3 608.8,525.2 608.9,525 609,524.8 609.1,524.6 609.2,524.4 609.3,524.2 609.4,524.1 609.5,524.1 609.6,524.2 609.7,524.4 609.8,524.7 609.9,525.1 610,525.5 610,525.6 610.1,526 610.2,526.5 610.3,527 610.4,527.5 610.5,527.9 610.6,528.2 610.7,528.4 610.8,528.4 610.9,528.2 611,528 611.1,527.8 611.2,527.5 611.3,527.2 611.4,527 611.5,526.9 611.6,526.7 611.7,526.6 611.8,526.5 611.9,526.4 612,526.3 612.1,526.3 612.2,526.2 612.3,526.2 612.4,526.2 612.5,526.1 612.6,526.1 612.7,526.1 612.8,526.1 612.9,526.1 613,526.2 613.1,526.2 613.2,526.2 613.3,526.2 613.4,526.2 613.5,526.2 613.6,526.2 613.7,526.2 613.8,526.3 613.9,526.3 614,526.3 614.1,526.3 614.2,526.4 614.3,526.4 614.4,526.4 614.5,526.4 614.6,526.5 614.7,526.5 614.8,526.5 614.9,526.6 615,526.6 615.1,526.6 615.2,526.7 615.3,526.7 615.4,526.7 615.5,526.8 615.6,526.8 615.7,526.8 615.8,526.8 615.9,526.7 616,526.7 617,526.7 618,526.6 619,526.6 620,526.5 621,526.2 622,526.5 623,526.7 624,526.7 625,527 626,526.5 627,526.3 628,526.2 629,526.3 630,526.8 631,526.8 632,526.5 633,526.2 634,526 635,526.2 636,526.6 637,526.8 638,526.6 639,526.6 640,526.8 641,527 642,527 643,526.7 644,526.6 645,526.5 646,526.5 647,526.5 648,526.5 649,527 650,526.6 651,526.5 652,526.5 653,526.5 654,526.9 655,526.6 656,526.2 657,526.2 658,526.2 659,526.6 660,526.7 661,526.3 662,526.4 663,526.3 664,526.4 665,526.4 666,526.1 667,526.6 668,527 669,526.7 670,526.2 671,526.6 672,526.8 673,526.5 674,526.6 675,526.5 676,526.3 677,526.7 678,526.8 679,526.5 680,526.5 681,526.4 682,526.6 683,526.5 684,526.4 685,526.5 686,526.3 687,526.5 688,526.6 689,526.4 690,526.1 691,526.1 692,526.2 692.1,526.3 692.2,526.3 692.3,526.3 692.4,526.3 692.5,526.3 692.6,526.3 692.7,526.3 692.8,526.4 692.9,526.4 693,526.4 693.1,526.4 693.2,526.4 693.3,526.4 693.4,526.4 693.5,526.4 693.6,526.4 693.7,526.4 693.8,526.3 693.9,526.3 694,526.2 694.1,526.1 694.2,526.1 694.3,526 694.4,526 694.5,526 694.6,525.9 694.7,525.9 694.8,526 694.9,526 695,526.2 695,526.2 695.1,526.3 695.2,526.4 695.3,526.6 695.4,526.7 695.5,526.8 695.6,526.9 695.7,527 695.8,527 695.9,527 696,526.9 696.1,526.8 696.2,526.7 696.3,526.5 696.4,526.5 696.5,526.4 696.6,526.3 696.7,526.3 696.8,526.2 696.9,526.2 697,526.2 697.1,526.2 697.2,526.2 697.3,526.1 697.4,526.1 697.5,526.1 697.6,526.2 697.7,526.2 697.8,526.3 697.9,526.3 698,526.4 698.1,526.5 698.2,526.5 698.3,526.6 698.4,526.6 698.5,526.7 698.6,526.6 698.7,526.6 698.8,526.6 698.9,526.5 699,526.5 699.1,526.5 699.2,526.4 699.3,526.4 699.4,526.4 699.5,526.3 699.6,526.3 699.7,526.2 699.8,526.1 699.9,526.1 700,526 700.1,526 700.2,525.9 700.3,525.8 700.4,525.8 700.5,525.7 700.6,525.7 700.7,525.7 700.8,525.6 700.9,525.6 701,525.6 701.1,525.6 701.2,525.5 701.3,525.5 701.4,525.4 701.5,525.3 701.6,525.2 701.7,525.1 701.8,524.9 701.9,524.7 702,524.6 702.1,524.4 702.2,524.4 702.3,524.4 702.4,524.5 702.5,524.6 702.6,524.9 702.7,525.2 702.8,525.6 702.8,525.6 702.9,526 703,526.3 703.1,526.7 703.2,527.1 703.3,527.3 703.4,527.5 703.5,527.7 703.6,527.7 703.7,527.6 703.8,527.4 703.9,527.3 704,527.1 704.1,526.9 704.2,526.8 704.3,526.7 704.4,526.6 704.5,526.5 704.6,526.5 704.7,526.4 704.8,526.4 704.9,526.3 705,526.3 705.1,526.2 705.2,526.2 705.3,526.1 705.4,526.1 705.5,526 705.6,526.1 705.7,526.2 705.8,526.2 705.9,526.3 706,526.3 706.1,526.4 706.2,526.5 706.3,526.5 706.4,526.6 706.5,526.6 706.6,526.6 706.7,526.6 706.8,526.5 706.9,526.5 707,526.5 707.1,526.4 707.2,526.4 707.3,526.4 707.4,526.3 707.5,526.3 707.6,526.3 707.7,526.3 707.8,526.3 707.9,526.3 708,526.3 708.1,526.4 708.2,526.4 708.3,526.4 708.4,526.4 708.5,526.4 708.6,526.4 708.7,526.3 708.8,526.3 709.8,526.1 710.8,526.3 711.8,526.8 712.8,527 713.8,526.7 714.8,526.5 715.8,526.3 716.8,526.1 717.8,526.4 718.8,526.7 719.8,526.1 720.8,526.1 721.8,526.2 722.8,526.5 723.8,526.6 724.8,526.1 725.8,526.2 726.8,526.2 727.8,526.2 728.8,526.8 729.8,526.8 730.8,526.4 731.8,526.4 732.8,526.6 733.8,526.1 733.9,526.1 734,526 734.1,526 734.2,526 734.3,525.9 734.4,525.9 734.5,525.8 734.6,525.9 734.7,526 734.8,526 734.9,526.1 735,526.1 735.1,526.2 735.2,526.2 735.3,526.2 735.4,526.2 735.5,526.2 735.6,526.1 735.7,526 735.8,525.8 735.9,525.7 736,525.6 736.1,525.6 736.2,525.6 736.3,525.6 736.4,525.7 736.5,525.8 736.6,526 736.6,526.1 736.7,526.3 736.8,526.5 736.9,526.7 737,527 737.1,527.1 737.2,527.2 737.3,527.3 737.4,527.3 737.5,527.2 737.6,527.1 737.7,527 737.8,526.8 737.9,526.7 738,526.6 738.1,526.6 738.2,526.5 738.3,526.5 738.4,526.5 738.5,526.5 738.6,526.5 738.7,526.6 738.8,526.6 738.9,526.6 739,526.7 739.1,526.7 739.2,526.7 739.3,526.8 739.4,526.8 739.5,526.8 739.6,526.8 739.7,526.8 739.8,526.8 739.9,526.8 740,526.8 740.1,526.8 740.2,526.8 740.3,526.8 740.4,526.8 740.5,526.8 740.6,526.7 740.7,526.7 740.8,526.6 740.9,526.5 741,526.5 741.1,526.4 741.2,526.4 741.3,526.3 741.4,526.2 741.5,526.2 741.6,526.2 741.7,526.1 741.8,526.1 741.9,526.1 742,526.1 742.1,526 742.2,526 742.3,526 742.4,525.9 742.5,525.9 742.6,525.9 742.7,525.9 742.8,525.9 742.9,525.9 743,525.9 743.1,525.9 743.2,525.9 743.3,525.8 743.4,525.8 743.5,525.8 743.6,525.7 743.7,525.7 743.8,525.6 743.9,525.5 744,525.3 744.1,525.1 744.2,524.9 744.3,524.6 744.4,524.4 744.5,524.2 744.6,523.9 744.7,523.8 744.8,523.8 744.9,524 745,524.2 745.1,524.5 745.2,524.9 745.2,525 745.3,525.3 745.4,525.7 745.5,526 745.6,526.4 745.7,526.8 745.8,527 745.9,527.1 746,527.1 746.1,527.1 746.2,527 746.3,526.8 746.4,526.6 746.5,526.4 746.6,526.4 746.7,526.3 746.8,526.3 746.9,526.3 747,526.4 747.1,526.4 747.2,526.5 747.3,526.6 747.4,526.6 747.5,526.7 747.6,526.7 747.7,526.7 747.8,526.6 747.9,526.6 748,526.6 748.1,526.5 748.2,526.5 748.3,526.5 748.4,526.4 748.5,526.4 748.6,526.4 748.7,526.3 748.8,526.3 748.9,526.3 749,526.2 749.1,526.2 749.2,526.2 749.3,526.1 749.4,526.1 749.5,526.1 749.6,526.1 749.7,526.1 749.8,526.1 749.9,526.1 750,526.1 750.1,526.1 750.2,526.1 750.3,526.1 750.4,526.1 750.5,526.1 750.6,526.1 750.7,526.2 750.8,526.2 750.9,526.2 751,526.3 751.1,526.3 751.2,526.4 752.2,526.5 753.2,526.4 754.2,526.7 755.2,526.8 756.2,526.8 757.2,526.5 758.2,526.5 759.2,526.5 760.2,526.6 761.2,526.5 762.2,526.8 763.2,527 764.2,526.3 765.2,526.4 766.2,526.7 766.3,526.7 766.4,526.7 766.5,526.8 766.6,526.7 766.7,526.6 766.8,526.5 766.9,526.4 767,526.4 767.1,526.3 767.2,526.2 767.3,526.1 767.4,525.9 767.5,525.8 767.6,525.7 767.7,525.6 767.8,525.5 767.9,525.4 768,525.3 768.1,525.3 768.2,525.3 768.3,525.4 768.4,525.5 768.5,525.6 768.6,525.9 768.6,526 768.7,526.2 768.8,526.5 768.9,526.8 769,527.1 769.1,527.4 769.2,527.6 769.3,527.7 769.4,527.8 769.5,527.8 769.6,527.6 769.7,527.4 769.8,527.2 769.9,527 770,526.8 770.1,526.7 770.2,526.6 770.3,526.5 770.4,526.4 770.5,526.4 770.6,526.4 770.7,526.4 770.8,526.4 770.9,526.5 771,526.5 771.1,526.5 771.2,526.6 771.3,526.6 771.4,526.6 771.5,526.6 771.6,526.6 771.7,526.6 771.8,526.6 771.9,526.5 772,526.5 772.1,526.5 772.2,526.5 772.3,526.4 772.4,526.4 772.5,526.4 772.6,526.4 772.7,526.4 772.8,526.5 772.9,526.5 773,526.6 773.1,526.6 773.2,526.6 773.3,526.7 773.4,526.7 773.5,526.7 773.6,526.7 773.7,526.6 773.8,526.5 773.9,526.5 774,526.4 774.1,526.3 774.2,526.2 774.3,526.1 774.4,526 774.5,526 774.6,526 774.7,526 774.8,526 774.9,526.1 775,526.2 775,526.2 775.1,526.3 775.2,526.4 775.3,526.6 775.4,526.7 775.5,526.8 775.6,526.9 775.7,527 775.8,527 775.9,526.9 776,526.8 776.1,526.7 776.2,526.5 776.3,526.4 776.4,526.3 776.5,526.2 776.6,526.2 776.7,526.2 776.8,526.2 776.9,526.2 777,526.3 777.1,526.3 777.2,526.4 777.3,526.4 777.4,526.5 777.5,526.5 777.6,526.5 777.7,526.5 777.8,526.5 777.9,526.5 778,526.5 778.1,526.5 778.2,526.4 778.3,526.4 778.4,526.4 778.5,526.4 778.6,526.5 778.7,526.5 778.8,526.5 778.9,526.6 779,526.6 779.1,526.6 779.2,526.7 779.3,526.7 779.4,526.7 779.5,526.8 779.6,526.7 779.7,526.6 779.8,526.6 779.9,526.5 780,526.5 780.1,526.4 780.2,526.4 780.3,526.3 780.4,526.2 780.5,526.2 780.6,526.2 780.7,526.3 780.8,526.3 780.9,526.3 781,526.4 782,526.3 783,526.1 784,526.2 785,526.1 786,526.4 787,526.9 788,526.9 789,526.8 790,526.9 791,527 792,526.7 793,526.3 794,526.3 795,526.3 796,526 797,526.5 798,526.7 799,526.5 800,526.8 801,526.5 802,526.4 803,526.6 804,526.4 805,526.2 806,526.2 807,526.5 808,526.6 809,526.7 810,526.4 811,526 812,526.4 813,526.9 814,526.9 815,526.7 816,526.4 817,526.1 818,526.1 819,526.6 820,526.6 821,526.2 822,526.3 823,526.2 824,526.5 825,526.9 826,526.6 827,526.1 828,526.2 829,526.5 830,526.6 831,526.3 832,526.6 833,526.8 834,526.7 835,526.8 836,526.7 837,526.7 838,526.8 839,526.8 840,526.6 841,526.7 842,526.6 843,526.5 844,526.9 845,526.5 846,526.4 847,526.4 848,526.1 849,526.1 850,526.5 851,526.6 851.1,526.6 851.2,526.5 851.3,526.5 851.4,526.4 851.5,526.4 851.6,526.4 851.7,526.4 851.8,526.4 851.9,526.5 852,526.5 852.1,526.5 852.2,526.5 852.3,526.5 852.4,526.4 852.5,526.4 852.6,526.2 852.7,526 852.8,525.8 852.9,525.7 853,525.5 853.1,525.4 853.2,525.4 853.3,525.4 853.4,525.4 853.5,525.5 853.6,525.7 853.6,525.8 853.7,525.9 853.8,526.2 853.9,526.5 854,526.7 854.1,526.9 854.2,527 854.3,527.1 854.4,527.1 854.5,527 854.6,526.9 854.7,526.8 854.8,526.7 854.9,526.5 855,526.4 855.1,526.4 855.2,526.3 855.3,526.3 855.4,526.3 855.5,526.3 855.6,526.3 855.7,526.4 855.8,526.4 855.9,526.4 856,526.4 856.1,526.5 856.2,526.5 856.3,526.5 856.4,526.5 856.5,526.5 856.6,526.6 856.7,526.6 856.8,526.6 856.9,526.6 857,526.6 857.1,526.6 857.2,526.6 857.3,526.7 857.4,526.7 857.5,526.7 857.6,526.6 857.7,526.6 857.8,526.5 857.9,526.5 858,526.4 858.1,526.4 858.2,526.3 858.3,526.3 858.4,526.2 858.5,526.1 858.6,526.2 858.7,526.2 858.8,526.3 858.9,526.3 859,526.3 859.1,526.4 859.2,526.4 859.3,526.4 859.4,526.5 859.5,526.5 859.6,526.5 860.6,526.4 861.6,526.9 862.6,526.8 863.6,526.9 864.6,526.3 865.6,526.5 866.6,526.8 867.6,526.2 868.6,526.7 869.6,526.6 870.6,526.9 871.6,526.7 872.6,526.2 873.6,526.7 874.6,526.8 875.6,526.5 876.6,526.6 877.6,526.1 878.6,526.8 879.6,526.1 880.6,526.9 881.6,526.1 882.6,526.4 883.6,526.8 884.6,526.5 885.6,526.7 886.6,526.8 887.6,526.8 888.6,526.6 889.6,526 890.6,526 891.6,526.1 892.6,526.9 893.6,526.7 894.6,526.2 895.6,526.9 896.6,526.3 897.6,526.7 898.6,526.1 899.6,526.9 900.6,526.1 900.7,526.1 900.8,526.1 900.9,526.1 901,526.2 901.1,526.2 901.2,526.2 901.3,526.2 901.4,526.2 901.5,526.3 901.6,526.2 901.7,526.2 901.8,526.2 901.9,526.1 902,526.1 902.1,526 902.2,525.9 902.3,525.7 902.4,525.6 902.5,525.4 902.6,525.2 902.7,525.1 902.8,525 902.9,525 903,525.1 903.1,525.2 903.2,525.5 903.3,525.8 903.4,526.1 903.4,526.2 903.5,526.5 903.6,526.7 903.7,527 903.8,527.2 903.9,527.4 904,527.5 904.1,527.5 904.2,527.4 904.3,527.2 904.4,527 904.5,526.7 904.6,526.6 904.7,526.5 904.8,526.4 904.9,526.3 905,526.3 905.1,526.3 905.2,526.3 905.3,526.3 905.4,526.4 905.5,526.4 905.6,526.4 905.7,526.5 905.8,526.5 905.9,526.6 906,526.6 906.1,526.7 906.2,526.7 906.3,526.8 906.4,526.8 906.5,526.8 906.6,526.8 906.7,526.8 906.8,526.8 906.9,526.7 907,526.7 907.1,526.7 907.2,526.7 907.3,526.6 907.4,526.6 907.5,526.6 907.6,526.5 907.7,526.5 907.8,526.4 907.9,526.4 908,526.3 908.1,526.3 908.2,526.2 908.3,526.2 908.4,526.1 908.5,526 908.6,526.1 908.7,526.2 908.8,526.3 908.9,526.4 909,526.4 909.1,526.5 909.2,526.6 909.3,526.7 909.4,526.7 910.4,526.5 911.4,526.9 912.4,526.9 913.4,526.3 914.4,526.3 915.4,526.8 916.4,526.9 917.4,527 918.4,526.4 919.4,526.5 920.4,526.7 921.4,526.8"/>
<rect x="124.8" y="450.2" width="2.8" height="24" fill="#23a012"/>
<rect x="300.2" y="450.2" width="2.8" height="24" fill="#23a012"/>
<rect x="312.5" y="450.2" width="2.8" height="24" fill="#23a012"/>
<rect x="315.5" y="450.2" width="2.8" height="24" fill="#23a012"/>
<rect x="376.6" y="450.2" width="2.8" height="24" fill="#23a012"/>
<rect x="417.9" y="450.2" width="2.8" height="24" fill="#23a012"/>
<rect x="512.9" y="450.2" width="7" height="24" fill="#23a012"/>
<rect x="572.6" y="450.2" width="3.6" height="24" fill="#23a012"/>
<rect x="577.3" y="450.2" width="3.6" height="24" fill="#23a012"/>
<rect x="609.5" y="450.2" width="3" height="24" fill="#23a012"/>
<rect x="694" y="450.2" width="15" height="24" fill="#23a012"/>
<rect x="735.9" y="450.2" width="4.5" height="24" fill="#23a012"/>
<rect x="744.5" y="450.2" width="4.5" height="24" fill="#23a012"/>
<rect x="768" y="450.2" width="4.5" height="24" fill="#23a012"/>
<rect x="774.8" y="450.2" width="4.5" height="24" fill="#23a012"/>
<rect x="851.3" y="450.2" width="7" height="24" fill="#23a012"/>
<rect x="902.5" y="450.2" width="6.2" height="24" fill="#23a012"/>
<polyline fill="none" stroke="#f40206" stroke-width="10.5" stroke-linejoin="round" points="93.5,1000.8 94.5,1000.4 95.5,999.6 96.5,999.3 97.5,1000.7 98.5,1000 99.5,1000.6 100.5,999.3 101.5,1000.8 102.5,999.8 103.5,1000.8 104.5,1000.9 105.5,1000.1 106.5,999.1 107.5,1000.9 108.5,1000 109.5,1000.8 110.5,999.5 111.5,999.3 112.5,1000.6 113.5,999.6 114.5,999.1 115.5,999.4 116.5,999.7 117.5,998.3 118.5,999.1 119.5,998.5 120.5,998 121.5,996.2 122.5,995.4 123.5,994.9 124.5,995 125.5,993.9 126.5,994.7 127.5,994.1 128.5,994.8 129.5,993.4 130.5,996.5 131.5,998.2 132.5,998.2 133.5,998.8 134.5,999.2 135.5,999.4 136.5,998.6 137.5,1000.6 138.5,999.2 139.5,999.2 140.5,999.1 141.5,999.5 142.5,1000.6 143.5,999.1 144.5,999.3 145.5,1000.5 146.5,999.5 147.5,999.2 148.5,1000.3 149.5,1000.3 150.5,1000.2 151.5,1000.6 152.5,999.4 153.5,1000.9 154.5,1000.6 155.5,999.3 156.5,999.5 157.5,1000.2 158.5,1000.2 159.5,999.8 160.5,999.5 161.5,1000 162.5,999.5 163.5,1000.4 164.5,1001 165.5,999.5 166.5,1000.4 167.5,1000.7 168.5,999.6 169.5,1000.9 170.5,1001.1 171.5,1000 172.5,1000.1 173.5,1000.9 174.5,1000.3 175.5,1000.1 176.5,1001.2 177.5,1000.8 178.5,999.9 179.5,999.8 180.5,999.9 181.5,1000.1 182.5,1001.2 183.5,1000.9 184.5,1001.1 185.5,1000.9 186.5,1001 187.5,999.4 188.5,1000.3 189.5,1001.2 190.5,1001.1 191.5,999.8 192.5,1000.1 193.5,1000.5 194.5,1000 195.5,1000.3 196.5,999.4 197.5,1000.2 198.5,1000.3 199.5,999.3 200.5,999.6 201.5,1001.2 202.5,1000.8 203.5,1001.2 204.5,1000.6 205.5,1000.9 206.5,1001.1 207.5,1001.1 208.5,999.4 209.5,1000.6 210.5,999.8 211.5,1000.7 212.5,999.8 213.5,1000.4 214.5,1001.1 215.5,1000.5 216.5,999.8 217.5,1000.3 218.5,1000.2 219.5,1001.2 220.5,999.9 221.5,999.9 222.5,1000.6 223.5,999.5 224.5,1000.5 225.5,1001.2 226.5,1000.3 227.5,999.8 228.5,1000.2 229.5,1000.4 230.5,999.6 231.5,999.5 232.5,999.6 233.5,999.9 234.5,1000.1 235.5,999.9 236.5,999.8 237.5,999.5 238.5,1000.4 239.5,1001 240.5,1000.5 241.5,1000.4 242.5,1000.6 243.5,999.7 244.5,1000.7 245.5,1000.2 246.5,1000.4 247.5,1000.5 248.5,1000.2 249.5,999.9 250.5,999.8 251.5,999.7 252.5,1000.3 253.5,1000 254.5,1000.4 255.5,999.3 256.5,1000 257.5,1001 258.5,999.8 259.5,1000.4 260.5,1000.3 261.5,999.8 262.5,1001.2 263.5,999.9 264.5,1000.8 265.5,999.6 266.5,999.4 267.5,1001 268.5,1000.1 269.5,999.4 270.5,1000 271.5,1000.1 272.5,1000.7 273.5,999.5 274.5,999.7 275.5,1001.2 276.5,1000.7 277.5,999.5 278.5,999.9 279.5,999.9 280.5,1000.5 281.5,1000.4 282.5,1000.9 283.5,1000.8 284.5,1000.2 285.5,1000.6 286.5,1000.6 287.5,1000.6 288.5,1000 289.5,1000.6 290.5,1000.4 291.5,1000.7 292.5,999.1 293.5,1000.5 294.5,998.6 295.5,999.8 296.5,999.1 297.5,998.3 298.5,997.9 299.5,994.4 300.5,994.1 301.5,994.9 302.5,995 303.5,994.5 304.5,994.1 305.5,996.7 306.5,998 307.5,999.1 308.5,998.6 309.5,998.9 310.5,999.1 311.5,998.4 312.5,996.8 313.5,994.9 314.5,995 315.5,994.3 316.5,994.2 317.5,993.7 318.5,993.9 319.5,993.6 320.5,997.2 321.5,998.8 322.5,998.4 323.5,1000.4 324.5,999.4 325.5,1000.6 326.5,1000.6 327.5,1000.9 328.5,999.4 329.5,999.9 330.5,1000.9 331.5,999.1 332.5,999.2 333.5,1000.3 334.5,1000.1 335.5,1001 336.5,1000.7 337.5,1000.2 338.5,1001.2 339.5,1000.2 340.5,1000.2 341.5,1000.5 342.5,999.9 343.5,999.9 344.5,1000.3 345.5,999.9 346.5,1001 347.5,1000.5 348.5,1000.2 349.5,999.3 350.5,999.9 351.5,999.9 352.5,1000.2 353.5,1000.2 354.5,1000.8 355.5,1001 356.5,1000 357.5,999.9 358.5,1000.2 359.5,1001 360.5,999.6 361.5,1000 362.5,1000.5 363.5,999.1 364.5,999.3 365.5,1000.6 366.5,1000.1 367.5,999.4 368.5,998.3 369.5,999.6 370.5,998.8 371.5,998.4 372.5,997.8 373.5,995.8 374.5,994.1 375.5,993.6 376.5,993.9 377.5,994.3 378.5,994.3 379.5,993.7 380.5,993.7 381.5,994.6 382.5,995.3 383.5,996.5 384.5,998.8 385.5,998.7 386.5,997.9 387.5,999 388.5,999.9 389.5,999.1 390.5,1000 391.5,998.7 392.5,999.4 393.5,1000.5 394.5,1000.1 395.5,1000.3 396.5,999.4 397.5,1000 398.5,1000.1 399.5,999.6 400.5,1000.3 401.5,1000.1 402.5,1001.1 403.5,1000.2 404.5,999.9 405.5,999.3 406.5,999.4 407.5,1000.6 408.5,999.3 409.5,999.2 410.5,999.3 411.5,1000 412.5,1000.5 413.5,1000 414.5,1000.1 415.5,998.2 416.5,997 417.5,994.8 418.5,993.9 419.5,994.7 420.5,994 421.5,996.6 422.5,998.4 423.5,998.7 424.5,1000.5 425.5,1000.1 426.5,999.7 427.5,999.9 428.5,999.9 429.5,999.2 430.5,1000.9 431.5,1000.3 432.5,1001.1 433.5,1000.1 434.5,1000.4 435.5,999.7 436.5,999.3 437.5,1001.1 438.5,1000.9 439.5,999.9 440.5,1001 441.5,1000.9 442.5,999.9 443.5,1000.5 444.5,1001.2 445.5,1000.2 446.5,1001.2 447.5,999.7 448.5,1000 449.5,1000.7 450.5,999.7 451.5,999.9 452.5,1001 453.5,1000.2 454.5,1000.9 455.5,999.8 456.5,999.6 457.5,1000 458.5,999.7 459.5,1001.2 460.5,999.9 461.5,1000.4 462.5,999.5 463.5,1000.4 464.5,1000.1 465.5,1000.1 466.5,999.4 467.5,999.5 468.5,1000.9 469.5,1000 470.5,999.8 471.5,999.7 472.5,999.9 473.5,999.8 474.5,999.4 475.5,1000.6 476.5,1000 477.5,999.6 478.5,1000.7 479.5,999.5 480.5,999.8 481.5,1001 482.5,999.5 483.5,1000.2 484.5,1001 485.5,1000.9 486.5,999.6 487.5,1000 488.5,1000.7 489.5,1000 490.5,1001.2 491.5,999.7 492.5,1001.2 493.5,1000.3 494.5,999.7 495.5,1000.2 496.5,999.5 497.5,1000.7 498.5,999.8 499.5,1001 500.5,1000.4 501.5,999.9 502.5,999.7 503.5,1000.4 504.5,999.6 505.5,1000.9 506.5,999.4 507.5,1000.1 508.5,1000.1 509.5,999.5 510.5,1000.4 511.5,999.5 512.5,999.7 513.5,999 514.5,997.2 515.5,994.1 516.5,993.5 517.5,993.7 518.5,995 519.5,994.2 520.5,998.4 521.5,998.3 522.5,999.6 523.5,999.5 524.5,999.9 525.5,999.6 526.5,999.2 527.5,999.7 528.5,999.6 529.5,999.4 530.5,1000.6 531.5,999.7 532.5,1000 533.5,1001 534.5,1000.7 535.5,1001 536.5,1000.9 537.5,999.5 538.5,999.7 539.5,999.3 540.5,1000.6 541.5,1000.5 542.5,999.9 543.5,1000 544.5,1000.5 545.5,1000.6 546.5,999.7 547.5,1000.9 548.5,999.9 549.5,1000.4 550.5,999.5 551.5,999.4 552.5,1001 553.5,1000.6 554.5,1000.5 555.5,999.2 556.5,999.1 557.5,999.4 558.5,999.4 559.5,999.6 560.5,999.7 561.5,999 562.5,999.4 563.5,1000 564.5,999 565.5,1000.1 566.5,999.3 567.5,999.3 568.5,997.8 569.5,997.2 570.5,995.5 571.5,994 572.5,993.3 573.5,995 574.5,994.9 575.5,993.9 576.5,993.4 577.5,995 578.5,994.5 579.5,993.4 580.5,993.8 581.5,993.5 582.5,997.4 583.5,997.5 584.5,999.6 585.5,999.6 586.5,998.5 587.5,999.9 588.5,999.4 589.5,1000.2 590.5,1000.5 591.5,999.4 592.5,999.1 593.5,1000.8 594.5,999.8 595.5,1000.8 596.5,1000.4 597.5,1000.5 598.5,1000.6 599.5,1000.2 600.5,999.8 601.5,999 602.5,1000.2 603.5,999.6 604.5,999.6 605.5,1000.1 606.5,998 607.5,998.1 608.5,993.4 609.5,994.7 610.5,994.9 611.5,993.8 612.5,994.4 613.5,997.5 614.5,998.7 615.5,999.3 616.5,999 617.5,998.9 618.5,999.6 619.5,999.8 620.5,999.4 621.5,999.7 622.5,999.4 623.5,1000.5 624.5,1000.5 625.5,999.6 626.5,999.7 627.5,1000.2 628.5,1000.1 629.5,1001.1 630.5,999.9 631.5,999.8 632.5,1001 633.5,999.5 634.5,1000.4 635.5,999.9 636.5,1000.9 637.5,1000.3 638.5,1000.8 639.5,999.6 640.5,1000.6 641.5,1000.4 642.5,1000.2 643.5,1000.8 644.5,1000.9 645.5,999.5 646.5,999.8 647.5,1000 648.5,999.7 649.5,999.4 650.5,999.8 651.5,999.7 652.5,1000.7 653.5,1000.2 654.5,999.5 655.5,999.9 656.5,1000.2 657.5,1000 658.5,999.6 659.5,999.4 660.5,999.3 661.5,1001.3 662.5,1000.8 663.5,999.4 664.5,1000.7 665.5,1001.2 666.5,1000.4 667.5,999.5 668.5,1000.2 669.5,1000.1 670.5,999.6 671.5,1000.3 672.5,999.3 673.5,1001.1 674.5,1000.5 675.5,1000.5 676.5,1001.1 677.5,1000.5 678.5,999.7 679.5,999.7 680.5,999.5 681.5,999.3 682.5,1000.8 683.5,1000.9 684.5,999.8 685.5,999.5 686.5,1000.4 687.5,1000.8 688.5,1000.9 689.5,999.3 690.5,1000.4 691.5,1000.3 692.5,999.6 693.5,997.3 694.5,993.7 695.5,995 696.5,994.4 697.5,994.1 698.5,998 699.5,998.4 700.5,998.9 701.5,995.5 702.5,993.4 703.5,994.4 704.5,994.6 705.5,994.9 706.5,998.5 707.5,1000.1 708.5,1000.5 709.5,999.8 710.5,1000 711.5,999.3 712.5,999.7 713.5,1000.3 714.5,999.3 715.5,1000.5 716.5,999.5 717.5,1000.1 718.5,1001.1 719.5,999.4 720.5,999.3 721.5,1000.1 722.5,999.6 723.5,1000.6 724.5,999.2 725.5,1000.8 726.5,1000.8 727.5,1000.7 728.5,999.9 729.5,999.6 730.5,1000.3 731.5,1000 732.5,999.6 733.5,999.2 734.5,998.9 735.5,997.4 736.5,995 737.5,996.3 738.5,995.2 739.5,996 740.5,998.2 741.5,998.6 742.5,997.4 743.5,994.6 744.5,993.5 745.5,993.9 746.5,994.2 747.5,995.2 748.5,995.1 749.5,998.3 750.5,999.8 751.5,1000.3 752.5,999.8 753.5,1000.4 754.5,999 755.5,1000.3 756.5,1000.2 757.5,999.6 758.5,1000.2 759.5,1000.9 760.5,1000 761.5,1000.3 762.5,999.5 763.5,999.5 764.5,1000.4 765.5,998.4 766.5,997.9 767.5,996 768.5,994.2 769.5,993.5 770.5,995 771.5,994.4 772.5,997.9 773.5,998.1 774.5,996.7 775.5,996.8 776.5,998 777.5,997 778.5,998.3 779.5,1000.5 780.5,1000 781.5,999.3 782.5,1000.8 783.5,999.6 784.5,999.4 785.5,1000.2 786.5,999.7 787.5,1000.2 788.5,1000.3 789.5,999.7 790.5,1000.4 791.5,999.5 792.5,1000.3 793.5,1000.4 794.5,999.4 795.5,1000.1 796.5,999.4 797.5,1000.1 798.5,1001 799.5,1000.4 800.5,1000.7 801.5,1000.8 802.5,999.5 803.5,1001.3 804.5,1000.7 805.5,999.5 806.5,1000.9 807.5,1000.1 808.5,999.6 809.5,1001.2 810.5,1000.4 811.5,1000.8 812.5,999.5 813.5,1000.8 814.5,999.4 815.5,999.7 816.5,1000 817.5,999.3 818.5,1000.5 819.5,999.7 820.5,999.9 821.5,1000.7 822.5,1000.1 823.5,1001 824.5,1000.5 825.5,1001 826.5,1000.4 827.5,1001.1 828.5,1001 829.5,999.6 830.5,1000.8 831.5,999.9 832.5,1000.8 833.5,1000.6 834.5,1000.9 835.5,999.5 836.5,1000 837.5,1000.7 838.5,1001.1 839.5,1000.7 840.5,999.3 841.5,1000.4 842.5,999.4 843.5,1000.3 844.5,1000.7 845.5,999.3 846.5,1000.9 847.5,1000.3 848.5,999.4 849.5,999 850.5,999.1 851.5,998.9 852.5,995.3 853.5,993.5 854.5,993.3 855.5,994.6 856.5,994.9 857.5,996.3 858.5,998.9 859.5,999.1 860.5,1000.2 861.5,999.7 862.5,999.3 863.5,1000.8 864.5,1000.2 865.5,1000.5 866.5,1000.8 867.5,1001.1 868.5,999.2 869.5,999.9 870.5,999.5 871.5,1000.2 872.5,1001 873.5,1000.8 874.5,999.3 875.5,999.6 876.5,1000.9 877.5,1000.6 878.5,1000 879.5,1000.2 880.5,999.6 881.5,1000.9 882.5,1000 883.5,1001 884.5,1000.5 885.5,999.4 886.5,999.9 887.5,999.7 888.5,1001 889.5,1000.4 890.5,999.3 891.5,999.5 892.5,999.9 893.5,1000.1 894.5,1000.2 895.5,999.8 896.5,999.7 897.5,998.9 898.5,999.8 899.5,999.1 900.5,997.8 901.5,997.2 902.5,995.3 903.5,993.4 904.5,993.6 905.5,995.4 906.5,993.8 907.5,995.7 908.5,998.4 909.5,998.8 910.5,999.8 911.5,999.9 912.5,1000.9 913.5,1001 914.5,999.2 915.5,1000.3 916.5,1000.7 917.5,1000.9 918.5,1000.7 919.5,1000.5 920.5,1000.5 921.5,1000"/>
<path fill="none" stroke="#f40206" stroke-width="2.3" d="M117 994.9h11m-5.5-5.5v11M117.4 993.7h11m-5.5-5.5v11M117.7 992.1h11m-5.5-5.5v11M118.1 989.9h11m-5.5-5.5v11M118.5 986.7h11m-5.5-5.5v11M118.8 981.9h11m-5.5-5.5v11M119.2 973.4h11m-5.5-5.5v11M119.5 958.1h11m-5.5-5.5v11M119.9 925h11m-5.5-5.5v11M120.2 840.6h11m-5.5-5.5v11M120.6 682.4h11m-5.5-5.5v11M120.9 654.3h11m-5.5-5.5v11M121.3 759.3h11m-5.5-5.5v11M121.6 882.9h11m-5.5-5.5v11M122 941h11m-5.5-5.5v11M122.3 965.6h11m-5.5-5.5v11M122.7 977h11m-5.5-5.5v11M123 984.1h11m-5.5-5.5v11M123.4 988.3h11m-5.5-5.5v11M123.8 991h11m-5.5-5.5v11M124.1 992.9h11m-5.5-5.5v11M124.5 994.3h11m-5.5-5.5v11M124.8 995.3h11m-5.5-5.5v11M293.9 994.5h11m-5.5-5.5v11M294.2 992.3h11m-5.5-5.5v11M294.6 989.3h11m-5.5-5.5v11M294.9 983.6h11m-5.5-5.5v11M295.3 971.7h11m-5.5-5.5v11M295.6 944.7h11m-5.5-5.5v11M296 892.6h11m-5.5-5.5v11M296.3 874.3h11m-5.5-5.5v11M296.7 906.4h11m-5.5-5.5v11M297 913.3h11m-5.5-5.5v11M297.4 937.8h11m-5.5-5.5v11M297.7 967.6h11m-5.5-5.5v11M298.1 981.8h11m-5.5-5.5v11M298.5 988.7h11m-5.5-5.5v11M298.8 992.1h11m-5.5-5.5v11M299.2 994.2h11m-5.5-5.5v11M307.7 992.8h11m-5.5-5.5v11M308 986.2h11m-5.5-5.5v11M308.4 981.1h11m-5.5-5.5v11M308.7 985.3h11m-5.5-5.5v11M309.1 987h11m-5.5-5.5v11M309.4 988.5h11m-5.5-5.5v11M309.8 992.6h11m-5.5-5.5v11M310.1 994.5h11m-5.5-5.5v11M310.5 994.8h11m-5.5-5.5v11M310.8 993.7h11m-5.5-5.5v11M311.2 990.9h11m-5.5-5.5v11M311.5 984.6h11m-5.5-5.5v11M311.9 969.9h11m-5.5-5.5v11M312.2 951.5h11m-5.5-5.5v11M312.6 958.7h11m-5.5-5.5v11M313 967.2h11m-5.5-5.5v11M313.3 968.9h11m-5.5-5.5v11M313.7 981.2h11m-5.5-5.5v11M314 990h11m-5.5-5.5v11M314.4 994.2h11m-5.5-5.5v11M368.1 994.7h11m-5.5-5.5v11M368.5 993.6h11m-5.5-5.5v11M368.8 992.2h11m-5.5-5.5v11M369.2 990.5h11m-5.5-5.5v11M369.5 987.7h11m-5.5-5.5v11M369.9 983.8h11m-5.5-5.5v11M370.2 978.1h11m-5.5-5.5v11M370.6 968.8h11m-5.5-5.5v11M371 949.6h11m-5.5-5.5v11M371.3 909.8h11m-5.5-5.5v11M371.7 828.2h11m-5.5-5.5v11M372 722h11m-5.5-5.5v11M372.4 752.1h11m-5.5-5.5v11M372.7 817.7h11m-5.5-5.5v11M373.1 816.8h11m-5.5-5.5v11M373.4 846.8h11m-5.5-5.5v11M373.8 911.8h11m-5.5-5.5v11M374.1 952h11m-5.5-5.5v11M374.5 970.2h11m-5.5-5.5v11M374.8 979.4h11m-5.5-5.5v11M375.2 985h11m-5.5-5.5v11M375.6 988.6h11m-5.5-5.5v11M375.9 990.9h11m-5.5-5.5v11M376.3 992.8h11m-5.5-5.5v11M376.6 994.1h11m-5.5-5.5v11M377 995h11m-5.5-5.5v11M412 994h11m-5.5-5.5v11M412.3 989.4h11m-5.5-5.5v11M412.7 980.1h11m-5.5-5.5v11M413 965.9h11m-5.5-5.5v11M413.4 965.3h11m-5.5-5.5v11M413.7 976h11m-5.5-5.5v11M414.1 978.5h11m-5.5-5.5v11M414.5 977.8h11m-5.5-5.5v11M414.8 984h11m-5.5-5.5v11M415.2 991.2h11m-5.5-5.5v11M415.5 994.9h11m-5.5-5.5v11M509.9 993.8h11m-5.5-5.5v11M510.3 989.6h11m-5.5-5.5v11M510.6 981.7h11m-5.5-5.5v11M511 969.5h11m-5.5-5.5v11M511.4 962.7h11m-5.5-5.5v11M511.7 971.1h11m-5.5-5.5v11M512.1 979.2h11m-5.5-5.5v11M512.4 979.8h11m-5.5-5.5v11M512.8 977.9h11m-5.5-5.5v11M513.1 981.2h11m-5.5-5.5v11M513.5 988.5h11m-5.5-5.5v11M513.8 993.1h11m-5.5-5.5v11M565.1 994.7h11m-5.5-5.5v11M565.5 993.1h11m-5.5-5.5v11M565.8 990.5h11m-5.5-5.5v11M566.2 986.1h11m-5.5-5.5v11M566.5 978.1h11m-5.5-5.5v11M566.9 963.1h11m-5.5-5.5v11M567.2 943.2h11m-5.5-5.5v11M567.6 933.5h11m-5.5-5.5v11M567.9 947.8h11m-5.5-5.5v11M568.3 961.7h11m-5.5-5.5v11M568.6 965.5h11m-5.5-5.5v11M569 960.4h11m-5.5-5.5v11M569.3 959.6h11m-5.5-5.5v11M569.7 970h11m-5.5-5.5v11M570.1 979.1h11m-5.5-5.5v11M570.4 983.4h11m-5.5-5.5v11M570.8 984.2h11m-5.5-5.5v11M571.1 982.5h11m-5.5-5.5v11M571.5 976.5h11m-5.5-5.5v11M571.8 963.5h11m-5.5-5.5v11M572.2 943.7h11m-5.5-5.5v11M572.5 932.1h11m-5.5-5.5v11M572.9 945.6h11m-5.5-5.5v11M573.2 960.2h11m-5.5-5.5v11M573.6 966.5h11m-5.5-5.5v11M573.9 962.7h11m-5.5-5.5v11M574.3 961.7h11m-5.5-5.5v11M574.7 970.9h11m-5.5-5.5v11M575 981.4h11m-5.5-5.5v11M575.4 988.2h11m-5.5-5.5v11M575.7 991.8h11m-5.5-5.5v11M576.1 994h11m-5.5-5.5v11M602.9 994.3h11m-5.5-5.5v11M603.3 991.1h11m-5.5-5.5v11M603.7 985.7h11m-5.5-5.5v11M604 976.8h11m-5.5-5.5v11M604.4 967.3h11m-5.5-5.5v11M604.7 967.5h11m-5.5-5.5v11M605.1 976h11m-5.5-5.5v11M605.4 982.4h11m-5.5-5.5v11M605.8 983.3h11m-5.5-5.5v11M606.1 980.5h11m-5.5-5.5v11M606.5 980.9h11m-5.5-5.5v11M606.8 985.7h11m-5.5-5.5v11M607.2 991h11m-5.5-5.5v11M607.5 994.3h11m-5.5-5.5v11M688.9 993.1h11m-5.5-5.5v11M689.2 990.1h11m-5.5-5.5v11M689.6 989.2h11m-5.5-5.5v11M689.9 991.2h11m-5.5-5.5v11M690.3 993.4h11m-5.5-5.5v11M690.6 994.8h11m-5.5-5.5v11M691 994.7h11m-5.5-5.5v11M691.4 994.1h11m-5.5-5.5v11M691.7 993.6h11m-5.5-5.5v11M692.1 994.7h11m-5.5-5.5v11M696.3 994.3h11m-5.5-5.5v11M696.7 991.5h11m-5.5-5.5v11M697 987.8h11m-5.5-5.5v11M697.4 986.4h11m-5.5-5.5v11M697.7 988.5h11m-5.5-5.5v11M698.1 991.6h11m-5.5-5.5v11M698.4 993.4h11m-5.5-5.5v11M698.8 993.7h11m-5.5-5.5v11M699.1 992.9h11m-5.5-5.5v11M699.5 992.2h11m-5.5-5.5v11M699.8 993.3h11m-5.5-5.5v11M700.2 995.3h11m-5.5-5.5v11M730.6 994.2h11m-5.5-5.5v11M731 992.5h11m-5.5-5.5v11M731.3 992.6h11m-5.5-5.5v11M731.7 994.2h11m-5.5-5.5v11M738 995h11m-5.5-5.5v11M738.4 992.9h11m-5.5-5.5v11M738.7 989.3h11m-5.5-5.5v11M739.1 984.2h11m-5.5-5.5v11M739.5 978.3h11m-5.5-5.5v11M739.8 976.7h11m-5.5-5.5v11M740.2 981h11m-5.5-5.5v11M740.5 985.6h11m-5.5-5.5v11M740.9 988.5h11m-5.5-5.5v11M741.2 989.5h11m-5.5-5.5v11M741.6 988.4h11m-5.5-5.5v11M741.9 986.8h11m-5.5-5.5v11M742.3 987.2h11m-5.5-5.5v11M742.6 990.4h11m-5.5-5.5v11M743 993.2h11m-5.5-5.5v11M762.1 995.2h11m-5.5-5.5v11M762.4 992.9h11m-5.5-5.5v11M762.8 990.3h11m-5.5-5.5v11M763.1 989h11m-5.5-5.5v11M763.5 990.7h11m-5.5-5.5v11M763.9 992.8h11m-5.5-5.5v11M764.2 994.5h11m-5.5-5.5v11M764.6 995h11m-5.5-5.5v11M764.9 994.8h11m-5.5-5.5v11M765.3 994.1h11m-5.5-5.5v11M765.6 993.6h11m-5.5-5.5v11M766 994.5h11m-5.5-5.5v11M847 995.3h11m-5.5-5.5v11M847.3 993.4h11m-5.5-5.5v11M847.7 991h11m-5.5-5.5v11M848 989.2h11m-5.5-5.5v11M848.4 990h11m-5.5-5.5v11M848.7 991.7h11m-5.5-5.5v11M849.1 993.8h11m-5.5-5.5v11M849.4 994.9h11m-5.5-5.5v11M850.1 995.3h11m-5.5-5.5v11M850.5 994.7h11m-5.5-5.5v11M850.9 994h11m-5.5-5.5v11M851.2 994.3h11m-5.5-5.5v11M896.8 994.1h11m-5.5-5.5v11M897.2 991.7h11m-5.5-5.5v11M897.5 989.4h11m-5.5-5.5v11M897.9 988.2h11m-5.5-5.5v11M898.2 989h11m-5.5-5.5v11M898.6 991.3h11m-5.5-5.5v11M898.9 993.1h11m-5.5-5.5v11M899.3 994.3h11m-5.5-5.5v11M899.7 995h11m-5.5-5.5v11M900 995.1h11m-5.5-5.5v11M900.4 994.5h11m-5.5-5.5v11M900.7 993.8h11m-5.5-5.5v11M901.1 993.5h11m-5.5-5.5v11M901.4 994.1h11m-5.5-5.5v11M120.8 636.3h11m-5.5-5.5v11M296.2 868.1h11m-5.5-5.5v11M308.3 981.1h11m-5.5-5.5v11M312.3 949.9h11m-5.5-5.5v11M372.1 709.3h11m-5.5-5.5v11M413.2 962.7h11m-5.5-5.5v11M511.3 962.1h11m-5.5-5.5v11M567.5 933.4h11m-5.5-5.5v11M572.5 932.6h11m-5.5-5.5v11M604.5 965.6h11m-5.5-5.5v11M689.5 989.1h11m-5.5-5.5v11M697.3 986.3h11m-5.5-5.5v11M731.1 992.3h11m-5.5-5.5v11M739.7 976.7h11m-5.5-5.5v11M763.1 989.2h11m-5.5-5.5v11M848.1 989.3h11m-5.5-5.5v11M897.9 988.3h11m-5.5-5.5v11"/>
<polyline fill="none" stroke="#000" stroke-width="3.4" stroke-linejoin="round" points="93.5,1000.2 94.5,1000.2 95.5,1000.2 96.5,1000.2 97.5,1000.2 98.5,1000.2 99.5,1000.2 100.5,1000.2 101.5,1000.2 102.5,1000.2 103.5,1000.1 104.5,1000.1 105.5,1000.1 106.5,1000.1 107.5,1000.1 108.5,1000.1 109.5,1000 110.5,1000 111.5,999.9 112.5,999.9 113.5,999.8 114.5,999.7 115.5,999.6 116.5,999.5 117.5,999.3 118.5,999 119.5,998.6 120.5,998 121.5,997 122.5,995 123.5,990.7 123.6,990 123.7,989.2 123.8,988.3 123.9,987.3 124,986.2 124.1,985 124.2,983.5 124.3,981.9 124.4,980 124.5,977.8 124.6,975.3 124.7,972.3 124.8,968.7 124.9,964.4 125,959.1 125.1,952.5 125.2,944.2 125.3,933.6 125.4,919.7 125.5,901.6 125.6,878.1 125.7,847.7 125.8,809.4 125.9,763.7 126,714.1 126.1,669.6 126.2,641.9 126.3,636.3 126.3,637.1 126.4,649.9 126.5,671.2 126.6,697.1 126.7,729 126.8,766.8 126.9,806.2 127,842.4 127.1,872.7 127.2,897 127.3,916 127.4,930.7 127.5,942.1 127.6,951 127.7,957.9 127.8,963.5 127.9,968 128,971.8 128.1,974.9 128.2,977.5 128.3,979.8 128.4,981.7 128.5,983.4 128.6,984.8 128.7,986.1 128.8,987.2 128.9,988.2 129,989.1 129.1,989.9 129.2,990.6 129.3,991.3 129.4,991.8 129.5,992.4 129.6,992.8 129.7,993.3 129.8,993.7 129.9,994 130,994.4 130.1,994.7 130.2,995 130.3,995.2 130.4,995.5 130.5,995.7 130.6,995.9 130.7,996.1 130.8,996.3 130.9,996.5 131,996.6 131.1,996.8 131.2,996.9 131.3,997.1 131.4,997.2 131.5,997.3 131.6,997.4 131.7,997.5 131.8,997.6 131.9,997.7 132,997.8 132.1,997.9 132.2,998 132.3,998.1 133.3,998.7 134.3,999 135.3,999.3 136.3,999.5 137.3,999.6 138.3,999.7 139.3,999.8 140.3,999.9 141.3,999.9 142.3,1000 143.3,1000 144.3,1000.1 145.3,1000.1 146.3,1000.1 147.3,1000.1 148.3,1000.1 149.3,1000.1 150.3,1000.2 151.3,1000.2 152.3,1000.2 153.3,1000.2 154.3,1000.2 155.3,1000.2 156.3,1000.2 157.3,1000.2 158.3,1000.2 159.3,1000.2 160.3,1000.2 161.3,1000.2 162.3,1000.2 163.3,1000.2 164.3,1000.2 165.3,1000.2 166.3,1000.3 167.3,1000.3 168.3,1000.3 169.3,1000.3 170.3,1000.3 171.3,1000.3 172.3,1000.3 173.3,1000.3 174.3,1000.3 175.3,1000.3 176.3,1000.3 177.3,1000.3 178.3,1000.3 179.3,1000.3 180.3,1000.3 181.3,1000.3 182.3,1000.3 183.3,1000.3 184.3,1000.3 185.3,1000.3 186.3,1000.3 187.3,1000.3 188.3,1000.3 189.3,1000.3 190.3,1000.3 191.3,1000.3 192.3,1000.3 193.3,1000.3 194.3,1000.3 195.3,1000.3 196.3,1000.3 197.3,1000.3 198.3,1000.3 199.3,1000.3 200.3,1000.3 201.3,1000.3 202.3,1000.3 203.3,1000.3 204.3,1000.3 205.3,1000.3 206.3,1000.3 207.3,1000.3 208.3,1000.3 209.3,1000.3 210.3,1000.3 211.3,1000.3 212.3,1000.3 213.3,1000.3 214.3,1000.3 215.3,1000.3 216.3,1000.3 217.3,1000.3 218.3,1000.3 219.3,1000.3 220.3,1000.3 221.3,1000.3 222.3,1000.3 223.3,1000.3 224.3,1000.3 225.3,1000.3 226.3,1000.3 227.3,1000.3 228.3,1000.3 229.3,1000.3 230.3,1000.3 231.3,1000.3 232.3,1000.3 233.3,1000.3 234.3,1000.3 235.3,1000.3 236.3,1000.3 237.3,1000.3 238.3,1000.3 239.3,1000.3 240.3,1000.3 241.3,1000.3 242.3,1000.3 243.3,1000.3 244.3,1000.3 245.3,1000.3 246.3,1000.3 247.3,1000.3 248.3,1000.3 249.3,1000.3 250.3,1000.3 251.3,1000.3 252.3,1000.3 253.3,1000.3 254.3,1000.3 255.3,1000.3 256.3,1000.3 257.3,1000.3 258.3,1000.3 259.3,1000.3 260.3,1000.3 261.3,1000.3 262.3,1000.3 263.3,1000.3 264.3,1000.3 265.3,1000.3 266.3,1000.3 267.3,1000.3 268.3,1000.3 269.3,1000.3 270.3,1000.3 271.3,1000.3 272.3,1000.2 273.3,1000.2 274.3,1000.2 275.3,1000.2 276.3,1000.2 277.3,1000.2 278.3,1000.2 279.3,1000.2 280.3,1000.2 281.3,1000.2 282.3,1000.2 283.3,1000.2 284.3,1000.2 285.3,1000.1 286.3,1000.1 287.3,1000.1 288.3,1000.1 289.3,1000 290.3,1000 291.3,999.9 292.3,999.9 293.3,999.8 294.3,999.6 295.3,999.4 296.3,999.1 297.3,998.5 298.3,997.4 299.3,994.9 299.4,994.5 299.5,994 299.6,993.4 299.7,992.8 299.8,992.1 299.9,991.3 300,990.4 300.1,989.3 300.2,988 300.3,986.5 300.4,984.6 300.5,982.3 300.6,979.5 300.7,976 300.8,971.5 300.9,965.8 301,958.5 301.1,949.3 301.2,937.9 301.3,924.1 301.4,908.5 301.5,892.7 301.6,879.8 301.7,873.5 301.7,873.2 301.8,875.3 301.9,883.4 302,893.9 302.1,903.4 302.2,910.1 302.3,913.7 302.4,915 302.5,915.6 302.6,917.8 302.7,923.2 302.8,931.5 302.9,941.2 303,950.6 303.1,959 303.2,966 303.3,971.6 303.4,976.2 303.5,979.8 303.6,982.7 303.7,985 303.8,986.9 303.9,988.4 304,989.7 304.1,990.7 304.2,991.6 304.3,992.4 304.4,993.1 304.5,993.7 304.6,994.2 304.7,994.6 304.8,995 304.9,995.4 305,995.7 305.1,996 305.2,996.3 305.3,996.5 305.4,996.7 305.5,996.9 305.6,997.1 305.7,997.3 305.8,997.4 305.9,997.5 306,997.7 306.1,997.8 306.2,997.9 306.3,998 306.4,998.1 306.5,998.2 306.6,998.2 306.7,998.3 306.8,998.4 306.9,998.4 307,998.5 307.1,998.6 307.2,998.6 307.3,998.7 307.4,998.7 307.5,998.8 307.6,998.8 307.7,998.8 308.7,999.1 309.7,999.1 310.7,999 311.7,998.5 311.8,998.4 311.9,998.3 312,998.2 312.1,998.1 312.2,997.9 312.3,997.7 312.4,997.5 312.5,997.2 312.6,996.9 312.7,996.5 312.8,995.9 312.9,995.3 313,994.4 313.1,993.4 313.2,992 313.3,990.4 313.4,988.4 313.5,986.2 313.6,984 313.7,982.1 313.8,981.2 313.8,981.2 313.9,981.5 314,982.6 314.1,984.1 314.2,985.4 314.3,986.4 314.4,986.9 314.5,987 314.6,987 314.7,987.1 314.8,987.6 314.9,988.5 315,989.7 315.1,990.9 315.2,992.1 315.3,993 315.4,993.7 315.5,994.2 315.6,994.6 315.7,994.9 315.8,995 315.9,995 316,994.9 316.1,994.8 316.2,994.5 316.3,994.2 316.4,993.7 316.5,993.1 316.6,992.4 316.7,991.4 316.8,990.1 316.9,988.5 317,986.4 317.1,983.7 317.2,980.3 317.3,976.1 317.4,971 317.5,965.4 317.6,959.6 317.7,955 317.8,952.8 317.8,952.7 317.9,953.5 318,956.6 318.1,960.6 318.2,964.2 318.3,966.9 318.4,968.4 318.5,968.9 318.6,969 318.7,969.3 318.8,970.6 318.9,973.2 319,976.5 319.1,980 319.2,983.3 319.3,986.1 319.4,988.4 319.5,990.3 319.6,991.8 319.7,993 319.8,993.9 319.9,994.7 320,995.3 320.1,995.9 320.2,996.3 320.3,996.7 320.4,997 320.5,997.3 320.6,997.5 320.7,997.7 320.8,997.9 320.9,998.1 321,998.2 321.1,998.3 321.2,998.5 321.3,998.6 321.4,998.7 321.5,998.7 321.6,998.8 321.7,998.9 321.8,999 321.9,999 322,999.1 322.1,999.1 322.2,999.2 322.3,999.2 322.4,999.3 322.5,999.3 322.6,999.4 322.7,999.4 322.8,999.4 322.9,999.5 323,999.5 323.1,999.5 323.2,999.5 323.3,999.6 323.4,999.6 323.5,999.6 323.6,999.6 323.7,999.7 323.8,999.7 324.8,999.8 325.8,999.9 326.8,1000 327.8,1000 328.8,1000.1 329.8,1000.1 330.8,1000.1 331.8,1000.1 332.8,1000.1 333.8,1000.1 334.8,1000.1 335.8,1000.2 336.8,1000.2 337.8,1000.2 338.8,1000.2 339.8,1000.2 340.8,1000.2 341.8,1000.2 342.8,1000.2 343.8,1000.2 344.8,1000.2 345.8,1000.2 346.8,1000.1 347.8,1000.1 348.8,1000.1 349.8,1000.1 350.8,1000.1 351.8,1000.1 352.8,1000.1 353.8,1000.1 354.8,1000.1 355.8,1000.1 356.8,1000 357.8,1000 358.8,1000 359.8,1000 360.8,999.9 361.8,999.9 362.8,999.8 363.8,999.8 364.8,999.7 365.8,999.6 366.8,999.5 367.8,999.3 368.8,999 369.8,998.7 370.8,998.3 371.8,997.5 372.8,996.4 373.8,994.2 374.8,989.7 374.9,988.9 375,988.1 375.1,987.2 375.2,986.2 375.3,985.1 375.4,983.9 375.5,982.5 375.6,980.9 375.7,979 375.8,976.9 375.9,974.5 376,971.7 376.1,968.4 376.2,964.4 376.3,959.6 376.4,953.7 376.5,946.5 376.6,937.4 376.7,926.1 376.8,911.9 376.9,894.1 377,872.2 377.1,845.6 377.2,814.6 377.3,780.7 377.4,747.5 377.5,721.6 377.6,709.6 377.6,709.3 377.7,714.6 377.8,733.1 377.9,758 378,782.5 378.1,802.4 378.2,815.9 378.3,822.7 378.4,823.8 378.5,821.2 378.6,818.3 378.7,819.4 378.8,827.4 378.9,842.3 379,861.3 379.1,881.1 379.2,899.5 379.3,915.5 379.4,928.9 379.5,939.9 379.6,948.8 379.7,956 379.8,961.8 379.9,966.6 380,970.4 380.1,973.6 380.2,976.3 380.3,978.6 380.4,980.6 380.5,982.3 380.6,983.8 380.7,985.1 380.8,986.2 380.9,987.2 381,988.1 381.1,989 381.2,989.7 381.3,990.4 381.4,991 381.5,991.5 381.6,992 381.7,992.5 381.8,992.9 381.9,993.3 382,993.7 382.1,994 382.2,994.3 382.3,994.6 382.4,994.8 382.5,995.1 382.6,995.3 382.7,995.5 382.8,995.7 382.9,995.9 383,996.1 383.1,996.3 383.2,996.4 383.3,996.6 383.4,996.7 383.5,996.8 383.6,997 384.6,997.9 385.6,998.5 386.6,998.9 387.6,999.2 388.6,999.4 389.6,999.5 390.6,999.6 391.6,999.7 392.6,999.8 393.6,999.9 394.6,999.9 395.6,999.9 396.6,1000 397.6,1000 398.6,1000 399.6,1000 400.6,1000.1 401.6,1000.1 402.6,1000.1 403.6,1000.1 404.6,1000.1 405.6,1000.1 406.6,1000.1 407.6,1000.1 408.6,1000.1 409.6,1000 410.6,1000 411.6,999.9 412.6,999.9 413.6,999.7 414.6,999.5 415.6,999 416.6,997.7 416.7,997.5 416.8,997.3 416.9,997 417,996.6 417.1,996.2 417.2,995.8 417.3,995.2 417.4,994.6 417.5,993.7 417.6,992.7 417.7,991.5 417.8,990 417.9,988 418,985.7 418.1,982.8 418.2,979.4 418.3,975.5 418.4,971.3 418.5,967.2 418.6,964.2 418.7,962.8 418.7,962.7 418.8,963.4 418.9,965.7 419,968.8 419.1,972.1 419.2,974.8 419.3,976.9 419.4,978.1 419.5,978.6 419.6,978.5 419.7,978 419.8,977.4 419.9,977.3 420,978 420.1,979.5 420.2,981.7 420.3,984.1 420.4,986.4 420.5,988.5 420.6,990.3 420.7,991.8 420.8,993 420.9,994 421,994.9 421.1,995.5 421.2,996.1 421.3,996.5 421.4,996.9 421.5,997.2 421.6,997.5 421.7,997.7 421.8,997.9 421.9,998.1 422,998.3 422.1,998.4 422.2,998.6 422.3,998.7 422.4,998.8 422.5,998.9 422.6,998.9 422.7,999 422.8,999.1 422.9,999.2 423,999.2 423.1,999.3 423.2,999.3 423.3,999.4 423.4,999.4 423.5,999.5 423.6,999.5 423.7,999.5 423.8,999.6 423.9,999.6 424,999.6 424.1,999.6 424.2,999.7 424.3,999.7 424.4,999.7 424.5,999.7 424.6,999.8 424.7,999.8 425.7,999.9 426.7,1000 427.7,1000.1 428.7,1000.1 429.7,1000.1 430.7,1000.2 431.7,1000.2 432.7,1000.2 433.7,1000.2 434.7,1000.2 435.7,1000.2 436.7,1000.2 437.7,1000.2 438.7,1000.2 439.7,1000.2 440.7,1000.2 441.7,1000.2 442.7,1000.2 443.7,1000.2 444.7,1000.3 445.7,1000.3 446.7,1000.3 447.7,1000.3 448.7,1000.3 449.7,1000.3 450.7,1000.3 451.7,1000.3 452.7,1000.3 453.7,1000.3 454.7,1000.3 455.7,1000.3 456.7,1000.3 457.7,1000.3 458.7,1000.3 459.7,1000.3 460.7,1000.3 461.7,1000.3 462.7,1000.3 463.7,1000.3 464.7,1000.3 465.7,1000.3 466.7,1000.3 467.7,1000.3 468.7,1000.3 469.7,1000.3 470.7,1000.3 471.7,1000.3 472.7,1000.3 473.7,1000.3 474.7,1000.3 475.7,1000.3 476.7,1000.3 477.7,1000.3 478.7,1000.3 479.7,1000.3 480.7,1000.3 481.7,1000.3 482.7,1000.3 483.7,1000.3 484.7,1000.3 485.7,1000.3 486.7,1000.3 487.7,1000.3 488.7,1000.3 489.7,1000.3 490.7,1000.3 491.7,1000.3 492.7,1000.3 493.7,1000.3 494.7,1000.3 495.7,1000.3 496.7,1000.2 497.7,1000.2 498.7,1000.2 499.7,1000.2 500.7,1000.2 501.7,1000.2 502.7,1000.2 503.7,1000.2 504.7,1000.2 505.7,1000.1 506.7,1000.1 507.7,1000.1 508.7,1000 509.7,1000 510.7,999.9 511.7,999.7 512.7,999.4 513.7,998.8 514.7,997.3 514.8,997 514.9,996.7 515,996.4 515.1,996 515.2,995.5 515.3,995 515.4,994.3 515.5,993.6 515.6,992.6 515.7,991.5 515.8,990.1 515.9,988.4 516,986.4 516.1,984 516.2,981.2 516.3,978 516.4,974.5 516.5,971 516.6,967.7 516.7,965.3 516.8,964.3 516.8,964.3 516.9,964.8 517,966.7 517.1,969.4 517.2,972.3 517.3,975.1 517.4,977.5 517.5,979.3 517.6,980.6 517.7,981.3 517.8,981.5 517.9,981.2 518,980.6 518.1,979.8 518.2,979.1 518.3,978.9 518.4,979.3 518.5,980.4 518.6,982.1 518.7,984 518.8,986 518.9,987.9 519,989.6 519.1,991 519.2,992.3 519.3,993.3 519.4,994.2 519.5,994.9 519.6,995.5 519.7,996 519.8,996.5 519.9,996.8 520,997.1 520.1,997.4 520.2,997.6 520.3,997.8 520.4,998 520.5,998.2 520.6,998.3 520.7,998.5 520.8,998.6 520.9,998.7 521,998.8 521.1,998.9 521.2,998.9 521.3,999 521.4,999.1 521.5,999.1 521.6,999.2 521.7,999.2 521.8,999.3 521.9,999.3 522,999.4 522.1,999.4 522.2,999.5 522.3,999.5 522.4,999.5 522.5,999.6 522.6,999.6 522.7,999.6 522.8,999.6 523.8,999.8 524.8,999.9 525.8,1000 526.8,1000.1 527.8,1000.1 528.8,1000.1 529.8,1000.1 530.8,1000.2 531.8,1000.2 532.8,1000.2 533.8,1000.2 534.8,1000.2 535.8,1000.2 536.8,1000.2 537.8,1000.2 538.8,1000.2 539.8,1000.2 540.8,1000.2 541.8,1000.2 542.8,1000.2 543.8,1000.2 544.8,1000.2 545.8,1000.2 546.8,1000.2 547.8,1000.2 548.8,1000.2 549.8,1000.2 550.8,1000.2 551.8,1000.1 552.8,1000.1 553.8,1000.1 554.8,1000.1 555.8,1000.1 556.8,1000.1 557.8,1000 558.8,1000 559.8,1000 560.8,999.9 561.8,999.9 562.8,999.8 563.8,999.7 564.8,999.6 565.8,999.4 566.8,999.2 567.8,998.8 568.8,998.1 569.8,996.9 570.8,994.1 570.9,993.7 571,993.1 571.1,992.5 571.2,991.8 571.3,991 571.4,990.1 571.5,988.9 571.6,987.6 571.7,986.1 571.8,984.2 571.9,982 572,979.4 572.1,976.3 572.2,972.6 572.3,968.4 572.4,963.5 572.5,958 572.6,952.2 572.7,946.4 572.8,941.3 572.9,937.6 573,936 573,936 573.1,936.8 573.2,939.6 573.3,943.8 573.4,948.6 573.5,953.3 573.6,957.6 573.7,961.1 573.8,963.7 573.9,965.5 574,966.5 574.1,966.7 574.2,966.2 574.3,965.1 574.4,963.7 574.5,962.1 574.6,960.9 574.7,960.5 574.8,961.1 574.9,962.7 575,965.1 575.1,968 575.2,971 575.3,973.9 575.4,976.5 575.5,978.7 575.6,980.5 575.7,982 575.8,983.1 575.9,984 576,984.6 576.1,985 576.2,985.1 576.3,985 576.4,984.6 576.5,984.1 576.6,983.2 576.7,982 576.8,980.6 576.9,978.7 577,976.3 577.1,973.5 577.2,970.1 577.3,966 577.4,961.3 577.5,956.1 577.6,950.5 577.7,945 577.8,940.1 577.9,936.6 578,935.2 578,935.2 578.1,936.1 578.2,939 578.3,943.3 578.4,948.2 578.5,953.1 578.6,957.4 578.7,961.1 578.8,963.9 578.9,965.9 579,967.1 579.1,967.5 579.2,967.2 579.3,966.4 579.4,965.1 579.5,963.7 579.6,962.6 579.7,962.2 579.8,962.7 579.9,964.4 580,966.9 580.1,969.9 580.2,973.2 580.3,976.3 580.4,979.2 580.5,981.8 580.6,984 580.7,986 580.8,987.6 580.9,989 581,990.2 581.1,991.2 581.2,992.1 581.3,992.8 581.4,993.4 581.5,994 581.6,994.4 581.7,994.9 581.8,995.2 581.9,995.6 582,995.9 582.1,996.1 582.2,996.4 582.3,996.6 582.4,996.8 582.5,997 582.6,997.1 582.7,997.3 582.8,997.4 582.9,997.6 583,997.7 583.1,997.8 583.2,997.9 583.3,998 583.4,998.1 583.5,998.2 583.6,998.3 583.7,998.3 583.8,998.4 583.9,998.5 584,998.5 585,999 586,999.3 587,999.5 588,999.6 589,999.7 590,999.8 591,999.9 592,999.9 593,999.9 594,1000 595,1000 596,1000 597,1000 598,1000 599,1000 600,1000 601,999.9 602,999.9 603,999.8 604,999.7 605,999.5 606,999.1 607,998.4 607.1,998.3 607.2,998.1 607.3,998 607.4,997.9 607.5,997.7 607.6,997.5 607.7,997.3 607.8,997.1 607.9,996.8 608,996.5 608.1,996.2 608.2,995.8 608.3,995.3 608.4,994.8 608.5,994.2 608.6,993.5 608.7,992.6 608.8,991.6 608.9,990.4 609,989 609.1,987.3 609.2,985.4 609.3,983.1 609.4,980.6 609.5,977.9 609.6,975 609.7,972.2 609.8,969.7 609.9,968 610,967.2 610,967.2 610.1,967.6 610.2,969 610.3,971.1 610.4,973.5 610.5,975.9 610.6,978.2 610.7,980.1 610.8,981.7 610.9,982.8 611,983.6 611.1,984 611.2,984.1 611.3,983.8 611.4,983.3 611.5,982.6 611.6,981.8 611.7,981.2 611.8,980.9 611.9,981.1 612,981.8 612.1,983 612.2,984.4 612.3,986 612.4,987.6 612.5,989.1 612.6,990.4 612.7,991.6 612.8,992.6 612.9,993.5 613,994.3 613.1,994.9 613.2,995.5 613.3,996 613.4,996.4 613.5,996.7 613.6,997 613.7,997.3 613.8,997.5 613.9,997.7 614,997.9 614.1,998.1 614.2,998.2 614.3,998.3 614.4,998.4 614.5,998.6 614.6,998.7 614.7,998.7 614.8,998.8 614.9,998.9 615,999 615.1,999 615.2,999.1 615.3,999.1 615.4,999.2 615.5,999.2 615.6,999.3 615.7,999.3 615.8,999.4 615.9,999.4 616,999.4 617,999.7 618,999.8 619,999.9 620,1000 621,1000.1 622,1000.1 623,1000.1 624,1000.1 625,1000.2 626,1000.2 627,1000.2 628,1000.2 629,1000.2 630,1000.2 631,1000.2 632,1000.2 633,1000.2 634,1000.2 635,1000.2 636,1000.2 637,1000.2 638,1000.2 639,1000.2 640,1000.3 641,1000.3 642,1000.3 643,1000.3 644,1000.3 645,1000.3 646,1000.3 647,1000.3 648,1000.3 649,1000.3 650,1000.3 651,1000.3 652,1000.3 653,1000.3 654,1000.3 655,1000.3 656,1000.3 657,1000.3 658,1000.3 659,1000.3 660,1000.3 661,1000.3 662,1000.3 663,1000.3 664,1000.3 665,1000.3 666,1000.3 667,1000.3 668,1000.3 669,1000.3 670,1000.3 671,1000.3 672,1000.3 673,1000.3 674,1000.3 675,1000.3 676,1000.3 677,1000.2 678,1000.2 679,1000.2 680,1000.2 681,1000.2 682,1000.2 683,1000.2 684,1000.2 685,1000.2 686,1000.2 687,1000.1 688,1000.1 689,1000 690,999.9 691,999.8 692,999.5 692.1,999.5 692.2,999.4 692.3,999.4 692.4,999.3 692.5,999.2 692.6,999.2 692.7,999.1 692.8,999 692.9,998.9 693,998.8 693.1,998.7 693.2,998.5 693.3,998.4 693.4,998.2 693.5,997.9 693.6,997.7 693.7,997.4 693.8,997 693.9,996.6 694,996.2 694.1,995.6 694.2,995 694.3,994.4 694.4,993.6 694.5,992.9 694.6,992.1 694.7,991.4 694.8,990.7 694.9,990.3 695,990.1 695,990.1 695.1,990.2 695.2,990.6 695.3,991.1 695.4,991.7 695.5,992.4 695.6,993 695.7,993.6 695.8,994.1 695.9,994.5 696,994.9 696.1,995.1 696.2,995.3 696.3,995.4 696.4,995.4 696.5,995.3 696.6,995.1 696.7,994.9 696.8,994.7 696.9,994.5 697,994.3 697.1,994.2 697.2,994.2 697.3,994.4 697.4,994.6 697.5,994.9 697.6,995.3 697.7,995.7 697.8,996.1 697.9,996.5 698,996.9 698.1,997.2 698.2,997.5 698.3,997.7 698.4,997.9 698.5,998.1 698.6,998.2 698.7,998.4 698.8,998.5 698.9,998.5 699,998.6 699.1,998.7 699.2,998.7 699.3,998.7 699.4,998.8 699.5,998.8 699.6,998.8 699.7,998.8 699.8,998.8 699.9,998.8 700,998.7 700.1,998.7 700.2,998.6 700.3,998.6 700.4,998.5 700.5,998.5 700.6,998.4 700.7,998.3 700.8,998.1 700.9,998 701,997.8 701.1,997.6 701.2,997.4 701.3,997.1 701.4,996.8 701.5,996.4 701.6,996 701.7,995.5 701.8,994.9 701.9,994.3 702,993.5 702.1,992.7 702.2,991.8 702.3,990.9 702.4,989.9 702.5,989.1 702.6,988.3 702.7,987.8 702.8,987.6 702.8,987.6 702.9,987.7 703,988.1 703.1,988.8 703.2,989.5 703.3,990.4 703.4,991.2 703.5,991.9 703.6,992.6 703.7,993.2 703.8,993.6 703.9,993.9 704,994.2 704.1,994.3 704.2,994.3 704.3,994.2 704.4,994.1 704.5,993.9 704.6,993.6 704.7,993.3 704.8,993.1 704.9,993 705,992.9 705.1,993.1 705.2,993.3 705.3,993.7 705.4,994.2 705.5,994.7 705.6,995.3 705.7,995.8 705.8,996.2 705.9,996.7 706,997 706.1,997.4 706.2,997.7 706.3,997.9 706.4,998.1 706.5,998.3 706.6,998.5 706.7,998.7 706.8,998.8 706.9,998.9 707,999 707.1,999.1 707.2,999.2 707.3,999.2 707.4,999.3 707.5,999.4 707.6,999.4 707.7,999.5 707.8,999.5 707.9,999.5 708,999.6 708.1,999.6 708.2,999.6 708.3,999.7 708.4,999.7 708.5,999.7 708.6,999.7 708.7,999.8 708.8,999.8 709.8,999.9 710.8,1000 711.8,1000.1 712.8,1000.1 713.8,1000.1 714.8,1000.2 715.8,1000.2 716.8,1000.2 717.8,1000.2 718.8,1000.2 719.8,1000.2 720.8,1000.2 721.8,1000.2 722.8,1000.2 723.8,1000.2 724.8,1000.2 725.8,1000.2 726.8,1000.2 727.8,1000.1 728.8,1000.1 729.8,1000.1 730.8,1000 731.8,999.9 732.8,999.8 733.8,999.5 733.9,999.5 734,999.5 734.1,999.4 734.2,999.3 734.3,999.3 734.4,999.2 734.5,999.1 734.6,999 734.7,998.9 734.8,998.8 734.9,998.7 735,998.6 735.1,998.4 735.2,998.2 735.3,998 735.4,997.7 735.5,997.4 735.6,997.1 735.7,996.7 735.8,996.3 735.9,995.8 736,995.3 736.1,994.8 736.2,994.3 736.3,993.8 736.4,993.4 736.5,993.2 736.6,993.1 736.6,993.1 736.7,993.1 736.8,993.3 736.9,993.6 737,994 737.1,994.5 737.2,994.9 737.3,995.3 737.4,995.7 737.5,996 737.6,996.3 737.7,996.5 737.8,996.6 737.9,996.7 738,996.7 738.1,996.7 738.2,996.7 738.3,996.6 738.4,996.5 738.5,996.3 738.6,996.2 738.7,996 738.8,995.9 738.9,995.8 739,995.9 739.1,996 739.2,996.1 739.3,996.4 739.4,996.6 739.5,996.9 739.6,997.1 739.7,997.4 739.8,997.6 739.9,997.8 740,998 740.1,998.1 740.2,998.3 740.3,998.4 740.4,998.5 740.5,998.6 740.6,998.6 740.7,998.7 740.8,998.7 740.9,998.8 741,998.8 741.1,998.8 741.2,998.8 741.3,998.8 741.4,998.8 741.5,998.8 741.6,998.8 741.7,998.7 741.8,998.7 741.9,998.7 742,998.6 742.1,998.6 742.2,998.5 742.3,998.4 742.4,998.4 742.5,998.3 742.6,998.2 742.7,998.1 742.8,997.9 742.9,997.8 743,997.6 743.1,997.4 743.2,997.2 743.3,997 743.4,996.7 743.5,996.3 743.6,996 743.7,995.5 743.8,995 743.9,994.5 744,993.8 744.1,993.1 744.2,992.2 744.3,991.3 744.4,990.2 744.5,989 744.6,987.8 744.7,986.5 744.8,985.2 744.9,984 745,983.1 745.1,982.4 745.2,982.2 745.2,982.2 745.3,982.3 745.4,982.8 745.5,983.6 745.6,984.7 745.7,985.8 745.8,986.9 745.9,988 746,988.9 746.1,989.8 746.2,990.5 746.3,991 746.4,991.4 746.5,991.7 746.6,991.9 746.7,991.9 746.8,991.8 746.9,991.6 747,991.3 747.1,991 747.2,990.6 747.3,990.3 747.4,990 747.5,989.8 747.6,989.8 747.7,990 747.8,990.4 747.9,991 748,991.6 748.1,992.3 748.2,993 748.3,993.7 748.4,994.3 748.5,994.9 748.6,995.5 748.7,995.9 748.8,996.4 748.9,996.7 749,997.1 749.1,997.3 749.2,997.6 749.3,997.8 749.4,998 749.5,998.2 749.6,998.3 749.7,998.5 749.8,998.6 749.9,998.7 750,998.8 750.1,998.9 750.2,998.9 750.3,999 750.4,999.1 750.5,999.1 750.6,999.2 750.7,999.3 750.8,999.3 750.9,999.3 751,999.4 751.1,999.4 751.2,999.5 752.2,999.7 753.2,999.8 754.2,999.9 755.2,1000 756.2,1000 757.2,1000 758.2,1000.1 759.2,1000.1 760.2,1000 761.2,1000 762.2,1000 763.2,999.9 764.2,999.8 765.2,999.5 766.2,999 766.3,998.9 766.4,998.8 766.5,998.7 766.6,998.5 766.7,998.4 766.8,998.2 766.9,998 767,997.8 767.1,997.5 767.2,997.2 767.3,996.9 767.4,996.5 767.5,996.1 767.6,995.6 767.7,995.1 767.8,994.5 767.9,993.8 768,993.2 768.1,992.5 768.2,991.8 768.3,991.2 768.4,990.7 768.5,990.3 768.6,990.2 768.6,990.2 768.7,990.2 768.8,990.5 768.9,990.9 769,991.5 769.1,992.1 769.2,992.7 769.3,993.2 769.4,993.8 769.5,994.2 769.6,994.6 769.7,995 769.8,995.2 769.9,995.4 770,995.5 770.1,995.6 770.2,995.5 770.3,995.5 770.4,995.3 770.5,995.2 770.6,995 770.7,994.8 770.8,994.6 770.9,994.4 771,994.3 771.1,994.3 771.2,994.4 771.3,994.6 771.4,994.8 771.5,995.2 771.6,995.5 771.7,995.9 771.8,996.3 771.9,996.6 772,996.9 772.1,997.2 772.2,997.4 772.3,997.6 772.4,997.8 772.5,998 772.6,998.1 772.7,998.2 772.8,998.3 772.9,998.4 773,998.4 773.1,998.4 773.2,998.4 773.3,998.4 773.4,998.4 773.5,998.3 773.6,998.3 773.7,998.2 773.8,998.1 773.9,998 774,997.8 774.1,997.6 774.2,997.4 774.3,997.2 774.4,996.9 774.5,996.7 774.6,996.4 774.7,996.2 774.8,996 774.9,995.9 775,995.9 775,995.9 775.1,995.9 775.2,996 775.3,996.2 775.4,996.5 775.5,996.7 775.6,997 775.7,997.2 775.8,997.4 775.9,997.6 776,997.8 776.1,997.9 776.2,998 776.3,998.1 776.4,998.2 776.5,998.2 776.6,998.2 776.7,998.2 776.8,998.2 776.9,998.1 777,998 777.1,998 777.2,997.9 777.3,997.8 777.4,997.8 777.5,997.8 777.6,997.8 777.7,997.9 777.8,998 777.9,998.1 778,998.3 778.1,998.4 778.2,998.6 778.3,998.7 778.4,998.9 778.5,999 778.6,999.1 778.7,999.2 778.8,999.3 778.9,999.4 779,999.5 779.1,999.5 779.2,999.6 779.3,999.6 779.4,999.7 779.5,999.7 779.6,999.7 779.7,999.8 779.8,999.8 779.9,999.8 780,999.9 780.1,999.9 780.2,999.9 780.3,999.9 780.4,999.9 780.5,999.9 780.6,1000 780.7,1000 780.8,1000 780.9,1000 781,1000 782,1000.1 783,1000.1 784,1000.2 785,1000.2 786,1000.2 787,1000.2 788,1000.2 789,1000.2 790,1000.2 791,1000.2 792,1000.2 793,1000.3 794,1000.3 795,1000.3 796,1000.3 797,1000.3 798,1000.3 799,1000.3 800,1000.3 801,1000.3 802,1000.3 803,1000.3 804,1000.3 805,1000.3 806,1000.3 807,1000.3 808,1000.3 809,1000.3 810,1000.3 811,1000.3 812,1000.3 813,1000.3 814,1000.3 815,1000.3 816,1000.3 817,1000.3 818,1000.3 819,1000.3 820,1000.3 821,1000.3 822,1000.3 823,1000.3 824,1000.3 825,1000.3 826,1000.3 827,1000.3 828,1000.3 829,1000.3 830,1000.3 831,1000.3 832,1000.3 833,1000.3 834,1000.3 835,1000.3 836,1000.3 837,1000.2 838,1000.2 839,1000.2 840,1000.2 841,1000.2 842,1000.2 843,1000.2 844,1000.2 845,1000.1 846,1000.1 847,1000 848,999.9 849,999.8 850,999.5 851,999 851.1,998.9 851.2,998.8 851.3,998.7 851.4,998.5 851.5,998.4 851.6,998.2 851.7,998.1 851.8,997.9 851.9,997.6 852,997.4 852.1,997.1 852.2,996.8 852.3,996.4 852.4,996 852.5,995.6 852.6,995.1 852.7,994.6 852.8,994 852.9,993.4 853,992.8 853.1,992.2 853.2,991.6 853.3,991.1 853.4,990.7 853.5,990.4 853.6,990.3 853.6,990.3 853.7,990.3 853.8,990.6 853.9,990.9 854,991.4 854.1,991.9 854.2,992.4 854.3,992.9 854.4,993.5 854.5,993.9 854.6,994.4 854.7,994.7 854.8,995.1 854.9,995.3 855,995.5 855.1,995.7 855.2,995.8 855.3,995.9 855.4,995.9 855.5,995.8 855.6,995.8 855.7,995.6 855.8,995.5 855.9,995.3 856,995.1 856.1,994.9 856.2,994.8 856.3,994.6 856.4,994.6 856.5,994.6 856.6,994.6 856.7,994.8 856.8,995 856.9,995.3 857,995.6 857.1,995.9 857.2,996.3 857.3,996.6 857.4,996.9 857.5,997.2 857.6,997.5 857.7,997.7 857.8,997.9 857.9,998.1 858,998.3 858.1,998.5 858.2,998.6 858.3,998.7 858.4,998.9 858.5,999 858.6,999.1 858.7,999.1 858.8,999.2 858.9,999.3 859,999.3 859.1,999.4 859.2,999.4 859.3,999.5 859.4,999.5 859.5,999.6 859.6,999.6 860.6,999.8 861.6,1000 862.6,1000.1 863.6,1000.1 864.6,1000.1 865.6,1000.2 866.6,1000.2 867.6,1000.2 868.6,1000.2 869.6,1000.2 870.6,1000.2 871.6,1000.2 872.6,1000.2 873.6,1000.2 874.6,1000.2 875.6,1000.2 876.6,1000.3 877.6,1000.3 878.6,1000.3 879.6,1000.3 880.6,1000.3 881.6,1000.3 882.6,1000.2 883.6,1000.2 884.6,1000.2 885.6,1000.2 886.6,1000.2 887.6,1000.2 888.6,1000.2 889.6,1000.2 890.6,1000.2 891.6,1000.2 892.6,1000.2 893.6,1000.2 894.6,1000.1 895.6,1000.1 896.6,1000 897.6,999.9 898.6,999.8 899.6,999.5 900.6,999 900.7,998.9 900.8,998.8 900.9,998.7 901,998.6 901.1,998.4 901.2,998.3 901.3,998.1 901.4,998 901.5,997.8 901.6,997.6 901.7,997.3 901.8,997 901.9,996.7 902,996.4 902.1,996 902.2,995.6 902.3,995.2 902.4,994.7 902.5,994.2 902.6,993.7 902.7,993.1 902.8,992.5 902.9,992 903,991.4 903.1,991 903.2,990.6 903.3,990.4 903.4,990.3 903.4,990.3 903.5,990.3 903.6,990.5 903.7,990.8 903.8,991.2 903.9,991.7 904,992.2 904.1,992.7 904.2,993.2 904.3,993.7 904.4,994.1 904.5,994.5 904.6,994.8 904.7,995.1 904.8,995.4 904.9,995.6 905,995.7 905.1,995.9 905.2,995.9 905.3,996 905.4,996 905.5,995.9 905.6,995.8 905.7,995.7 905.8,995.6 905.9,995.4 906,995.2 906.1,995 906.2,994.9 906.3,994.7 906.4,994.6 906.5,994.6 906.6,994.6 906.7,994.7 906.8,994.8 906.9,995.1 907,995.3 907.1,995.6 907.2,995.9 907.3,996.2 907.4,996.5 907.5,996.8 907.6,997.1 907.7,997.3 907.8,997.6 907.9,997.8 908,998 908.1,998.2 908.2,998.3 908.3,998.5 908.4,998.6 908.5,998.7 908.6,998.9 908.7,998.9 908.8,999 908.9,999.1 909,999.2 909.1,999.3 909.2,999.3 909.3,999.4 909.4,999.4 910.4,999.7 911.4,999.9 912.4,1000 913.4,1000.1 914.4,1000.1 915.4,1000.2 916.4,1000.2 917.4,1000.2 918.4,1000.2 919.4,1000.2 920.4,1000.2 921.4,1000.2"/>
<polyline fill="none" stroke="#2440e0" stroke-width="4.2" stroke-linejoin="round" points="93.5,1088 94.5,1087 95.5,1087.7 96.5,1087.1 97.5,1087.9 98.5,1087.5 99.5,1087.9 100.5,1087.6 101.5,1087.9 102.5,1087.3 103.5,1087.9 104.5,1087.2 105.5,1087.5 106.5,1087.9 107.5,1087.7 108.5,1087.5 109.5,1087 110.5,1087.7 111.5,1087.8 112.5,1087 113.5,1087.1 114.5,1087.2 115.5,1087.7 116.5,1087.9 117.5,1087.8 118.5,1088 119.5,1088 120.5,1087.5 121.5,1087.6 122.5,1087.2 123.5,1086.7 123.6,1086.6 123.7,1086.5 123.8,1086.4 123.9,1086.2 124,1086.1 124.1,1086 124.2,1085.8 124.3,1085.6 124.4,1085.5 124.5,1085.3 124.6,1084.9 124.7,1084.4 124.8,1083.9 124.9,1083.2 125,1082.4 125.1,1081.4 125.2,1080.3 125.3,1079.1 125.4,1078 125.5,1077.1 125.6,1076.6 125.7,1076.6 125.8,1077.1 125.9,1078.2 126,1079.8 126.1,1081.9 126.2,1084.5 126.3,1086.5 126.3,1087.3 126.4,1090.4 126.5,1093.5 126.6,1096.4 126.7,1098.8 126.8,1100.4 126.9,1101.2 127,1101 127.1,1099.9 127.2,1098.3 127.3,1096.2 127.4,1094.1 127.5,1092.1 127.6,1090.5 127.7,1089.2 127.8,1088.3 127.9,1087.7 128,1087.4 128.1,1087.2 128.2,1087.1 128.3,1087.1 128.4,1087.1 128.5,1087.2 128.6,1087.2 128.7,1087.2 128.8,1087.2 128.9,1087.3 129,1087.3 129.1,1087.3 129.2,1087.3 129.3,1087.3 129.4,1087.3 129.5,1087.3 129.6,1087.2 129.7,1087.2 129.8,1087.2 129.9,1087.1 130,1087.1 130.1,1087.1 130.2,1087.1 130.3,1087 130.4,1087 130.5,1087 130.6,1087 130.7,1087 130.8,1087 130.9,1087 131,1087 131.1,1087 131.2,1087.1 131.3,1087.1 131.4,1087.1 131.5,1087.1 131.6,1087.1 131.7,1087.1 131.8,1087.1 131.9,1087.2 132,1087.2 132.1,1087.2 132.2,1087.2 132.3,1087.2 133.3,1087.5 134.3,1087.7 135.3,1087.6 136.3,1087.1 137.3,1087.5 138.3,1087.6 139.3,1087.6 140.3,1087.8 141.3,1087.1 142.3,1087.8 143.3,1087.5 144.3,1087.1 145.3,1087.6 146.3,1087.5 147.3,1087.6 148.3,1087.8 149.3,1087.8 150.3,1087.9 151.3,1087.3 152.3,1087.2 153.3,1087.1 154.3,1087.8 155.3,1087.4 156.3,1087.6 157.3,1087.4 158.3,1087.4 159.3,1087.7 160.3,1087.1 161.3,1087.8 162.3,1087.4 163.3,1087.1 164.3,1087.4 165.3,1087.4 166.3,1087 167.3,1087.6 168.3,1087.4 169.3,1087.3 170.3,1087.6 171.3,1087.3 172.3,1087.5 173.3,1087.5 174.3,1087.4 175.3,1087.3 176.3,1087.6 177.3,1087.4 178.3,1087.4 179.3,1087.7 180.3,1087.5 181.3,1087.7 182.3,1087.2 183.3,1087.4 184.3,1087.3 185.3,1087.4 186.3,1087.5 187.3,1087.8 188.3,1087.9 189.3,1087.2 190.3,1087.4 191.3,1087.5 192.3,1087.5 193.3,1087.2 194.3,1087.7 195.3,1087.8 196.3,1087.3 197.3,1087.5 198.3,1087.4 199.3,1087.2 200.3,1087.1 201.3,1087.1 202.3,1087.8 203.3,1087.7 204.3,1087.2 205.3,1087.1 206.3,1087.8 207.3,1087.9 208.3,1087.8 209.3,1087.9 210.3,1087.7 211.3,1087.3 212.3,1087.4 213.3,1087.5 214.3,1087.9 215.3,1087.7 216.3,1087.1 217.3,1087.2 218.3,1087.5 219.3,1087.5 220.3,1087.2 221.3,1087.2 222.3,1087.8 223.3,1087.4 224.3,1087.6 225.3,1087.5 226.3,1087.7 227.3,1087.7 228.3,1087.7 229.3,1087.6 230.3,1088 231.3,1087.9 232.3,1087.5 233.3,1087.9 234.3,1087.9 235.3,1087.4 236.3,1087.7 237.3,1087.7 238.3,1087.8 239.3,1087.3 240.3,1087.8 241.3,1087.5 242.3,1087.2 243.3,1087.7 244.3,1087.6 245.3,1087.3 246.3,1087.3 247.3,1087.6 248.3,1087.9 249.3,1087.7 250.3,1087.6 251.3,1087.3 252.3,1087.6 253.3,1087.6 254.3,1087.4 255.3,1087.2 256.3,1087.6 257.3,1087.6 258.3,1087.5 259.3,1087.1 260.3,1087.7 261.3,1087.2 262.3,1087.2 263.3,1087.6 264.3,1087.4 265.3,1087.6 266.3,1087.9 267.3,1087.4 268.3,1087.5 269.3,1087.5 270.3,1087.5 271.3,1087.1 272.3,1087.2 273.3,1087.9 274.3,1087.5 275.3,1087.5 276.3,1087.5 277.3,1087.2 278.3,1087.5 279.3,1087.5 280.3,1087.2 281.3,1087.5 282.3,1087.5 283.3,1087.5 284.3,1087.2 285.3,1087.3 286.3,1087.3 287.3,1087.5 288.3,1087.9 289.3,1087.4 290.3,1087.4 291.3,1087.3 292.3,1087.2 293.3,1087.8 294.3,1087.8 295.3,1087.9 296.3,1087.3 297.3,1087.7 298.3,1087.7 299.3,1086.1 299.4,1085.9 299.5,1085.7 299.6,1085.6 299.7,1085.4 299.8,1085.3 299.9,1085.1 300,1084.9 300.1,1084.7 300.2,1084.4 300.3,1084 300.4,1083.5 300.5,1082.9 300.6,1082.1 300.7,1081.3 300.8,1080.4 300.9,1079.6 301,1078.9 301.1,1078.5 301.2,1078.5 301.3,1078.9 301.4,1079.7 301.5,1080.9 301.6,1082.3 301.7,1083.9 301.7,1084.5 301.8,1085.7 301.9,1087.6 302,1089.4 302.1,1091 302.2,1092.4 302.3,1093.3 302.4,1093.7 302.5,1093.6 302.6,1093.1 302.7,1092.3 302.8,1091.3 302.9,1090.3 303,1089.3 303.1,1088.5 303.2,1087.8 303.3,1087.4 303.4,1087.1 303.5,1087 303.6,1087 303.7,1087 303.8,1087 303.9,1087.1 304,1087.2 304.1,1087.2 304.2,1087.3 304.3,1087.3 304.4,1087.4 304.5,1087.4 304.6,1087.5 304.7,1087.6 304.8,1087.6 304.9,1087.7 305,1087.7 305.1,1087.8 305.2,1087.8 305.3,1087.9 305.4,1087.9 305.5,1088 305.6,1087.9 305.7,1087.8 305.8,1087.8 305.9,1087.7 306,1087.6 306.1,1087.6 306.2,1087.5 306.3,1087.4 306.4,1087.4 306.5,1087.3 306.6,1087.3 306.7,1087.3 306.8,1087.4 306.9,1087.4 307,1087.4 307.1,1087.5 307.2,1087.5 307.3,1087.5 307.4,1087.6 307.5,1087.6 307.6,1087.6 307.7,1087.6 308.7,1087.3 309.7,1087 310.7,1087 311.7,1086.9 311.8,1086.9 311.9,1087 312,1087 312.1,1087.1 312.2,1087.1 312.3,1087.1 312.4,1087.1 312.5,1087.1 312.6,1086.9 312.7,1086.7 312.8,1086.5 312.9,1086.3 313,1086.1 313.1,1085.9 313.2,1085.8 313.3,1085.8 313.4,1085.8 313.5,1086 313.6,1086.2 313.7,1086.5 313.8,1086.9 313.8,1087 313.9,1087.4 314,1087.8 314.1,1088.3 314.2,1088.7 314.3,1089 314.4,1089.2 314.5,1089.3 314.6,1089.3 314.7,1089.2 314.8,1089 314.9,1088.8 315,1088.5 315.1,1088.2 315.2,1088 315.3,1087.8 315.4,1087.7 315.5,1087.6 315.6,1087.4 315.7,1087.2 315.8,1087.1 315.9,1086.9 316,1086.8 316.1,1086.6 316.2,1086.4 316.3,1086.2 316.4,1086 316.5,1085.7 316.6,1085.6 316.7,1085.4 316.8,1085.2 316.9,1085 317,1084.8 317.1,1084.7 317.2,1084.6 317.3,1084.7 317.4,1084.9 317.5,1085.2 317.6,1085.6 317.7,1086.1 317.8,1086.8 317.8,1086.9 317.9,1087.5 318,1088.2 318.1,1088.9 318.2,1089.6 318.3,1090.1 318.4,1090.5 318.5,1090.7 318.6,1090.7 318.7,1090.4 318.8,1090.1 318.9,1089.6 319,1089.1 319.1,1088.7 319.2,1088.3 319.3,1088.1 319.4,1087.9 319.5,1087.7 319.6,1087.7 319.7,1087.6 319.8,1087.6 319.9,1087.6 320,1087.7 320.1,1087.7 320.2,1087.7 320.3,1087.7 320.4,1087.7 320.5,1087.7 320.6,1087.7 320.7,1087.6 320.8,1087.6 320.9,1087.5 321,1087.4 321.1,1087.4 321.2,1087.3 321.3,1087.2 321.4,1087.2 321.5,1087.1 321.6,1087.1 321.7,1087.2 321.8,1087.2 321.9,1087.2 322,1087.3 322.1,1087.3 322.2,1087.3 322.3,1087.4 322.4,1087.4 322.5,1087.4 322.6,1087.4 322.7,1087.4 322.8,1087.5 322.9,1087.5 323,1087.5 323.1,1087.5 323.2,1087.5 323.3,1087.5 323.4,1087.5 323.5,1087.5 323.6,1087.5 323.7,1087.5 323.8,1087.5 324.8,1087.7 325.8,1087.9 326.8,1087.5 327.8,1087.1 328.8,1087.1 329.8,1087.3 330.8,1087.8 331.8,1087.9 332.8,1087.8 333.8,1087.5 334.8,1087.6 335.8,1087.5 336.8,1087.5 337.8,1087.5 338.8,1087.5 339.8,1087.4 340.8,1087.6 341.8,1087.2 342.8,1087.6 343.8,1087.9 344.8,1087.6 345.8,1087.5 346.8,1087.5 347.8,1087.5 348.8,1087.7 349.8,1087.6 350.8,1087.3 351.8,1087.6 352.8,1087.2 353.8,1087.2 354.8,1087.4 355.8,1087.4 356.8,1087.2 357.8,1087.4 358.8,1087.4 359.8,1087.9 360.8,1087.5 361.8,1087.5 362.8,1087.7 363.8,1087.4 364.8,1087.8 365.8,1087.5 366.8,1087.6 367.8,1087.2 368.8,1087.4 369.8,1087.3 370.8,1087.4 371.8,1087.3 372.8,1087.4 373.8,1087.6 374.8,1086.7 374.9,1086.6 375,1086.4 375.1,1086.1 375.2,1085.9 375.3,1085.7 375.4,1085.4 375.5,1085.2 375.6,1085.1 375.7,1085 375.8,1084.8 375.9,1084.7 376,1084.4 376.1,1084.1 376.2,1083.7 376.3,1083.2 376.4,1082.5 376.5,1081.7 376.6,1080.6 376.7,1079.4 376.8,1078.3 376.9,1077.4 377,1076.8 377.1,1076.7 377.2,1077 377.3,1078 377.4,1079.4 377.5,1081.4 377.6,1083.9 377.6,1084.4 377.7,1086.7 377.8,1089.6 377.9,1092.6 378,1095.3 378.1,1097.6 378.2,1099.2 378.3,1099.9 378.4,1099.9 378.5,1099 378.6,1097.5 378.7,1095.7 378.8,1093.8 378.9,1092 379,1090.5 379.1,1089.4 379.2,1088.6 379.3,1088.1 379.4,1087.8 379.5,1087.6 379.6,1087.6 379.7,1087.6 379.8,1087.6 379.9,1087.7 380,1087.7 380.1,1087.7 380.2,1087.8 380.3,1087.8 380.4,1087.8 380.5,1087.9 380.6,1087.8 380.7,1087.7 380.8,1087.7 380.9,1087.6 381,1087.5 381.1,1087.5 381.2,1087.4 381.3,1087.3 381.4,1087.3 381.5,1087.2 381.6,1087.2 381.7,1087.1 381.8,1087.1 381.9,1087.1 382,1087.1 382.1,1087.1 382.2,1087.1 382.3,1087 382.4,1087 382.5,1087 382.6,1087.1 382.7,1087.1 382.8,1087.2 382.9,1087.2 383,1087.3 383.1,1087.4 383.2,1087.4 383.3,1087.5 383.4,1087.5 383.5,1087.6 383.6,1087.6 384.6,1087.4 385.6,1087.7 386.6,1087.1 387.6,1087.4 388.6,1087.9 389.6,1087.9 390.6,1087.4 391.6,1087.9 392.6,1087.2 393.6,1087.7 394.6,1087.8 395.6,1087.4 396.6,1087.7 397.6,1087.5 398.6,1087.8 399.6,1087.1 400.6,1087.6 401.6,1087.2 402.6,1087.8 403.6,1087.2 404.6,1087 405.6,1087.7 406.6,1088 407.6,1087.6 408.6,1087.4 409.6,1087.8 410.6,1087.5 411.6,1087.9 412.6,1087.5 413.6,1087.3 414.6,1087.5 415.6,1087.3 416.6,1087.7 416.7,1087.6 416.8,1087.5 416.9,1087.4 417,1087.3 417.1,1087.2 417.2,1087.1 417.3,1086.9 417.4,1086.8 417.5,1086.7 417.6,1086.7 417.7,1086.6 417.8,1086.6 417.9,1086.6 418,1086.6 418.1,1086.7 418.2,1086.8 418.3,1087 418.4,1087.3 418.5,1087.8 418.6,1088.2 418.7,1088.8 418.7,1089 418.8,1089.6 418.9,1090.5 419,1091.4 419.1,1092.3 419.2,1093 419.3,1093.5 419.4,1093.6 419.5,1093.4 419.6,1092.8 419.7,1092.1 419.8,1091.2 419.9,1090.2 420,1089.3 420.1,1088.6 420.2,1088 420.3,1087.6 420.4,1087.3 420.5,1087.1 420.6,1087 420.7,1087 420.8,1087 420.9,1087 421,1087 421.1,1087 421.2,1087 421.3,1087 421.4,1087 421.5,1087 421.6,1087.1 421.7,1087.1 421.8,1087.1 421.9,1087.2 422,1087.2 422.1,1087.3 422.2,1087.3 422.3,1087.4 422.4,1087.4 422.5,1087.5 422.6,1087.5 422.7,1087.5 422.8,1087.5 422.9,1087.6 423,1087.6 423.1,1087.6 423.2,1087.7 423.3,1087.7 423.4,1087.7 423.5,1087.7 423.6,1087.7 423.7,1087.7 423.8,1087.7 423.9,1087.7 424,1087.7 424.1,1087.7 424.2,1087.7 424.3,1087.7 424.4,1087.7 424.5,1087.7 424.6,1087.6 424.7,1087.6 425.7,1087.3 426.7,1087.4 427.7,1087.2 428.7,1087.9 429.7,1087.4 430.7,1087.2 431.7,1087.4 432.7,1087.6 433.7,1087.9 434.7,1087.9 435.7,1087.6 436.7,1087.1 437.7,1087.3 438.7,1087.6 439.7,1087.2 440.7,1087.9 441.7,1087.3 442.7,1087.1 443.7,1087.5 444.7,1087.1 445.7,1087.5 446.7,1087.9 447.7,1087.7 448.7,1087.6 449.7,1087.7 450.7,1087.4 451.7,1087.7 452.7,1087.3 453.7,1087.8 454.7,1087.9 455.7,1087.5 456.7,1087.8 457.7,1087.4 458.7,1087.2 459.7,1087.4 460.7,1087.6 461.7,1087.9 462.7,1087.6 463.7,1087.8 464.7,1087.5 465.7,1087.8 466.7,1087.5 467.7,1087.7 468.7,1087.6 469.7,1087.4 470.7,1087.9 471.7,1087.7 472.7,1087.1 473.7,1087.6 474.7,1087.1 475.7,1087.2 476.7,1087.6 477.7,1087.9 478.7,1087.8 479.7,1087.3 480.7,1087.8 481.7,1087.5 482.7,1087.6 483.7,1087.8 484.7,1087.6 485.7,1087.8 486.7,1087.5 487.7,1087.5 488.7,1087.7 489.7,1087.8 490.7,1087.6 491.7,1087.8 492.7,1087.9 493.7,1087.6 494.7,1087.2 495.7,1087.4 496.7,1087.3 497.7,1087.8 498.7,1087.1 499.7,1087.4 500.7,1087.2 501.7,1087.4 502.7,1087.4 503.7,1087.7 504.7,1087.4 505.7,1087.9 506.7,1087.8 507.7,1087.9 508.7,1087.6 509.7,1087.5 510.7,1087.6 511.7,1087.2 512.7,1087.8 513.7,1087.4 514.7,1087.5 514.8,1087.5 514.9,1087.4 515,1087.4 515.1,1087.3 515.2,1087.2 515.3,1087.2 515.4,1087.1 515.5,1087 515.6,1086.9 515.7,1086.8 515.8,1086.7 515.9,1086.6 516,1086.4 516.1,1086.4 516.2,1086.3 516.3,1086.3 516.4,1086.3 516.5,1086.5 516.6,1086.7 516.7,1087 516.8,1087.4 516.8,1087.5 516.9,1087.9 517,1088.4 517.1,1088.9 517.2,1089.4 517.3,1089.8 517.4,1090.1 517.5,1090.2 517.6,1090.3 517.7,1090.1 517.8,1089.8 517.9,1089.5 518,1089.1 518.1,1088.8 518.2,1088.5 518.3,1088.3 518.4,1088.2 518.5,1088.1 518.6,1088 518.7,1087.9 518.8,1087.9 518.9,1087.9 519,1087.9 519.1,1087.8 519.2,1087.8 519.3,1087.8 519.4,1087.8 519.5,1087.8 519.6,1087.7 519.7,1087.7 519.8,1087.7 519.9,1087.6 520,1087.6 520.1,1087.5 520.2,1087.5 520.3,1087.5 520.4,1087.4 520.5,1087.4 520.6,1087.3 520.7,1087.3 520.8,1087.3 520.9,1087.2 521,1087.2 521.1,1087.1 521.2,1087.1 521.3,1087.1 521.4,1087 521.5,1087 521.6,1087.1 521.7,1087.2 521.8,1087.3 521.9,1087.4 522,1087.5 522.1,1087.6 522.2,1087.7 522.3,1087.8 522.4,1087.9 522.5,1088 522.6,1087.9 522.7,1087.9 522.8,1087.8 523.8,1087.3 524.8,1087.2 525.8,1087.3 526.8,1087.5 527.8,1087.3 528.8,1087.4 529.8,1087.3 530.8,1087.7 531.8,1087.2 532.8,1087.6 533.8,1087.7 534.8,1087.9 535.8,1087.6 536.8,1087.3 537.8,1087.5 538.8,1087.8 539.8,1087.7 540.8,1087.9 541.8,1087.8 542.8,1087.8 543.8,1087.5 544.8,1087 545.8,1087 546.8,1087.3 547.8,1087.5 548.8,1087.4 549.8,1087.2 550.8,1087.1 551.8,1087.3 552.8,1087.5 553.8,1087.7 554.8,1087.3 555.8,1087.1 556.8,1087.4 557.8,1087.7 558.8,1087.4 559.8,1087.7 560.8,1087.6 561.8,1087.1 562.8,1087.3 563.8,1087.4 564.8,1087.7 565.8,1087.1 566.8,1087 567.8,1087.1 568.8,1087.2 569.8,1087 570.8,1086.8 570.9,1086.7 571,1086.7 571.1,1086.7 571.2,1086.6 571.3,1086.6 571.4,1086.5 571.5,1086.5 571.6,1086.4 571.7,1086.2 571.8,1086 571.9,1085.8 572,1085.5 572.1,1085.2 572.2,1085 572.3,1084.8 572.4,1084.6 572.5,1084.6 572.6,1084.7 572.7,1084.9 572.8,1085.3 572.9,1085.8 573,1086.4 573,1086.5 573.1,1087 573.2,1087.7 573.3,1088.4 573.4,1089 573.5,1089.5 573.6,1089.9 573.7,1090.1 573.8,1090 573.9,1089.8 574,1089.5 574.1,1089 574.2,1088.5 574.3,1088.1 574.4,1087.7 574.5,1087.4 574.6,1087.2 574.7,1087.1 574.8,1087 574.9,1086.9 575,1086.9 575.1,1086.8 575.2,1086.8 575.3,1086.8 575.4,1086.7 575.5,1086.7 575.6,1086.7 575.7,1086.8 575.8,1086.8 575.9,1086.8 576,1086.8 576.1,1086.8 576.2,1086.8 576.3,1086.8 576.4,1086.8 576.5,1086.8 576.6,1086.6 576.7,1086.3 576.8,1086.1 576.9,1085.7 577,1085.4 577.1,1085 577.2,1084.7 577.3,1084.4 577.4,1084.2 577.5,1084.1 577.6,1084.2 577.7,1084.5 577.8,1085 577.9,1085.6 578,1086.2 578,1086.4 578.1,1087 578.2,1087.8 578.3,1088.5 578.4,1089.2 578.5,1089.8 578.6,1090.2 578.7,1090.3 578.8,1090.2 578.9,1090 579,1089.6 579.1,1089.1 579.2,1088.6 579.3,1088.1 579.4,1087.7 579.5,1087.3 579.6,1087.2 579.7,1087.2 579.8,1087.2 579.9,1087.3 580,1087.4 580.1,1087.5 580.2,1087.6 580.3,1087.7 580.4,1087.8 580.5,1087.9 580.6,1087.8 580.7,1087.7 580.8,1087.6 580.9,1087.5 581,1087.4 581.1,1087.3 581.2,1087.3 581.3,1087.2 581.4,1087.1 581.5,1087 581.6,1087 581.7,1087 581.8,1087 581.9,1087.1 582,1087.1 582.1,1087.1 582.2,1087.1 582.3,1087.1 582.4,1087.2 582.5,1087.2 582.6,1087.2 582.7,1087.3 582.8,1087.4 582.9,1087.4 583,1087.5 583.1,1087.5 583.2,1087.6 583.3,1087.7 583.4,1087.7 583.5,1087.8 583.6,1087.7 583.7,1087.6 583.8,1087.6 583.9,1087.5 584,1087.5 585,1087.5 586,1087.8 587,1087.7 588,1087.7 589,1087.6 590,1087.3 591,1087.2 592,1087.3 593,1087.4 594,1087.4 595,1087.2 596,1087.2 597,1087.2 598,1087.1 599,1087.4 600,1087.8 601,1087.6 602,1087.2 603,1087.4 604,1087.5 605,1087.3 606,1087.1 607,1087.5 607.1,1087.6 607.2,1087.6 607.3,1087.7 607.4,1087.8 607.5,1087.8 607.6,1087.7 607.7,1087.7 607.8,1087.6 607.9,1087.5 608,1087.4 608.1,1087.3 608.2,1087.2 608.3,1087.1 608.4,1087 608.5,1086.9 608.6,1086.9 608.7,1086.8 608.8,1086.7 608.9,1086.6 609,1086.5 609.1,1086.3 609.2,1086.2 609.3,1086.1 609.4,1086 609.5,1086.1 609.6,1086.1 609.7,1086.3 609.8,1086.6 609.9,1086.9 610,1087.3 610,1087.4 610.1,1087.8 610.2,1088.3 610.3,1088.7 610.4,1089.2 610.5,1089.5 610.6,1089.7 610.7,1089.7 610.8,1089.6 610.9,1089.4 611,1089.1 611.1,1088.7 611.2,1088.3 611.3,1088 611.4,1087.6 611.5,1087.4 611.6,1087.3 611.7,1087.3 611.8,1087.3 611.9,1087.3 612,1087.3 612.1,1087.4 612.2,1087.4 612.3,1087.5 612.4,1087.5 612.5,1087.6 612.6,1087.5 612.7,1087.5 612.8,1087.5 612.9,1087.5 613,1087.5 613.1,1087.5 613.2,1087.4 613.3,1087.4 613.4,1087.4 613.5,1087.4 613.6,1087.4 613.7,1087.4 613.8,1087.4 613.9,1087.4 614,1087.5 614.1,1087.5 614.2,1087.5 614.3,1087.5 614.4,1087.5 614.5,1087.5 614.6,1087.6 614.7,1087.6 614.8,1087.6 614.9,1087.6 615,1087.6 615.1,1087.6 615.2,1087.6 615.3,1087.7 615.4,1087.7 615.5,1087.7 615.6,1087.7 615.7,1087.7 615.8,1087.7 615.9,1087.7 616,1087.7 617,1087.7 618,1087.4 619,1087.2 620,1087.5 621,1087.8 622,1087.9 623,1087.5 624,1087.4 625,1087.4 626,1087.2 627,1087.5 628,1087.6 629,1087.7 630,1087.6 631,1087.5 632,1087.8 633,1087.4 634,1087.3 635,1087.7 636,1087.4 637,1087.2 638,1087.2 639,1087.3 640,1087.6 641,1087.2 642,1087.2 643,1087.2 644,1087.4 645,1087.5 646,1087.5 647,1087.7 648,1087.8 649,1088 650,1087.4 651,1087.3 652,1087.4 653,1087.5 654,1087.7 655,1087.8 656,1087.7 657,1087.3 658,1087.3 659,1087.6 660,1087.3 661,1087 662,1087.2 663,1087.6 664,1087.7 665,1087.5 666,1087.3 667,1087.3 668,1087.5 669,1087.3 670,1087.5 671,1087.6 672,1087.4 673,1087.2 674,1087.3 675,1087.6 676,1087.3 677,1087.5 678,1087.6 679,1087.2 680,1087.4 681,1087.5 682,1087.4 683,1087.1 684,1087.2 685,1087.2 686,1087.6 687,1087.9 688,1087.8 689,1087.5 690,1087 691,1087.5 692,1087.6 692.1,1087.5 692.2,1087.5 692.3,1087.4 692.4,1087.4 692.5,1087.3 692.6,1087.3 692.7,1087.3 692.8,1087.2 692.9,1087.2 693,1087.2 693.1,1087.2 693.2,1087.2 693.3,1087.2 693.4,1087.1 693.5,1087.1 693.6,1087.1 693.7,1087.1 693.8,1087.1 693.9,1087.1 694,1087 694.1,1087 694.2,1087 694.3,1087 694.4,1087 694.5,1087 694.6,1087 694.7,1087.1 694.8,1087.2 694.9,1087.3 695,1087.5 695,1087.5 695.1,1087.7 695.2,1087.9 695.3,1088.1 695.4,1088.3 695.5,1088.4 695.6,1088.5 695.7,1088.5 695.8,1088.5 695.9,1088.4 696,1088.2 696.1,1088 696.2,1087.8 696.3,1087.6 696.4,1087.5 696.5,1087.3 696.6,1087.3 696.7,1087.3 696.8,1087.2 696.9,1087.2 697,1087.3 697.1,1087.3 697.2,1087.3 697.3,1087.3 697.4,1087.3 697.5,1087.3 697.6,1087.4 697.7,1087.4 697.8,1087.5 697.9,1087.5 698,1087.5 698.1,1087.6 698.2,1087.6 698.3,1087.7 698.4,1087.7 698.5,1087.7 698.6,1087.7 698.7,1087.6 698.8,1087.6 698.9,1087.5 699,1087.4 699.1,1087.4 699.2,1087.3 699.3,1087.3 699.4,1087.2 699.5,1087.1 699.6,1087.2 699.7,1087.2 699.8,1087.2 699.9,1087.3 700,1087.3 700.1,1087.3 700.2,1087.4 700.3,1087.4 700.4,1087.4 700.5,1087.4 700.6,1087.4 700.7,1087.3 700.8,1087.3 700.9,1087.2 701,1087.1 701.1,1087.1 701.2,1087 701.3,1086.9 701.4,1086.8 701.5,1086.6 701.6,1086.5 701.7,1086.4 701.8,1086.2 701.9,1086 702,1085.8 702.1,1085.7 702.2,1085.6 702.3,1085.6 702.4,1085.7 702.5,1085.8 702.6,1086 702.7,1086.2 702.8,1086.5 702.8,1086.5 702.9,1086.8 703,1087.1 703.1,1087.4 703.2,1087.6 703.3,1087.8 703.4,1087.9 703.5,1087.9 703.6,1088 703.7,1087.9 703.8,1087.9 703.9,1087.7 704,1087.6 704.1,1087.5 704.2,1087.4 704.3,1087.3 704.4,1087.3 704.5,1087.3 704.6,1087.2 704.7,1087.2 704.8,1087.2 704.9,1087.2 705,1087.2 705.1,1087.2 705.2,1087.2 705.3,1087.2 705.4,1087.2 705.5,1087.1 705.6,1087.2 705.7,1087.2 705.8,1087.2 705.9,1087.2 706,1087.2 706.1,1087.2 706.2,1087.3 706.3,1087.3 706.4,1087.3 706.5,1087.3 706.6,1087.3 706.7,1087.4 706.8,1087.4 706.9,1087.4 707,1087.5 707.1,1087.5 707.2,1087.5 707.3,1087.6 707.4,1087.6 707.5,1087.6 707.6,1087.6 707.7,1087.5 707.8,1087.4 707.9,1087.4 708,1087.3 708.1,1087.2 708.2,1087.2 708.3,1087.1 708.4,1087.1 708.5,1087 708.6,1087 708.7,1087 708.8,1087.1 709.8,1087.3 710.8,1087.4 711.8,1087.8 712.8,1087.7 713.8,1087.3 714.8,1087.2 715.8,1087.3 716.8,1087.7 717.8,1087.8 718.8,1087.4 719.8,1087.3 720.8,1087.7 721.8,1087.4 722.8,1087.8 723.8,1087.8 724.8,1087.9 725.8,1087.7 726.8,1087.4 727.8,1087 728.8,1087.2 729.8,1087.8 730.8,1087.5 731.8,1087.3 732.8,1087.8 733.8,1087.6 733.9,1087.6 734,1087.5 734.1,1087.5 734.2,1087.5 734.3,1087.5 734.4,1087.4 734.5,1087.4 734.6,1087.4 734.7,1087.4 734.8,1087.4 734.9,1087.5 735,1087.5 735.1,1087.5 735.2,1087.5 735.3,1087.4 735.4,1087.4 735.5,1087.4 735.6,1087.3 735.7,1087.1 735.8,1087 735.9,1086.9 736,1086.9 736.1,1086.9 736.2,1086.9 736.3,1086.9 736.4,1087.1 736.5,1087.2 736.6,1087.4 736.6,1087.5 736.7,1087.6 736.8,1087.9 736.9,1088.1 737,1088.3 737.1,1088.5 737.2,1088.6 737.3,1088.6 737.4,1088.6 737.5,1088.5 737.6,1088.4 737.7,1088.2 737.8,1088.1 737.9,1087.9 738,1087.8 738.1,1087.7 738.2,1087.7 738.3,1087.6 738.4,1087.6 738.5,1087.6 738.6,1087.5 738.7,1087.5 738.8,1087.4 738.9,1087.3 739,1087.3 739.1,1087.2 739.2,1087.2 739.3,1087.1 739.4,1087 739.5,1087 739.6,1087.1 739.7,1087.1 739.8,1087.2 739.9,1087.3 740,1087.4 740.1,1087.4 740.2,1087.5 740.3,1087.6 740.4,1087.7 740.5,1087.7 740.6,1087.8 740.7,1087.8 740.8,1087.8 740.9,1087.8 741,1087.8 741.1,1087.8 741.2,1087.8 741.3,1087.8 741.4,1087.8 741.5,1087.8 741.6,1087.7 741.7,1087.6 741.8,1087.5 741.9,1087.4 742,1087.3 742.1,1087.2 742.2,1087.1 742.3,1087 742.4,1086.9 742.5,1086.8 742.6,1086.8 742.7,1086.8 742.8,1086.8 742.9,1086.8 743,1086.8 743.1,1086.8 743.2,1086.8 743.3,1086.8 743.4,1086.8 743.5,1086.8 743.6,1086.7 743.7,1086.5 743.8,1086.4 743.9,1086.2 744,1085.9 744.1,1085.6 744.2,1085.3 744.3,1084.9 744.4,1084.6 744.5,1084.3 744.6,1084.2 744.7,1084.2 744.8,1084.3 744.9,1084.6 745,1084.9 745.1,1085.3 745.2,1085.8 745.2,1085.9 745.3,1086.3 745.4,1086.8 745.5,1087.2 745.6,1087.6 745.7,1087.9 745.8,1088.1 745.9,1088.2 746,1088.2 746.1,1088.2 746.2,1088 746.3,1087.8 746.4,1087.6 746.5,1087.4 746.6,1087.3 746.7,1087.3 746.8,1087.3 746.9,1087.3 747,1087.3 747.1,1087.4 747.2,1087.4 747.3,1087.5 747.4,1087.6 747.5,1087.6 747.6,1087.7 747.7,1087.7 747.8,1087.7 747.9,1087.7 748,1087.8 748.1,1087.8 748.2,1087.8 748.3,1087.8 748.4,1087.9 748.5,1087.9 748.6,1087.8 748.7,1087.7 748.8,1087.7 748.9,1087.6 749,1087.5 749.1,1087.5 749.2,1087.4 749.3,1087.3 749.4,1087.3 749.5,1087.2 749.6,1087.2 749.7,1087.3 749.8,1087.3 749.9,1087.3 750,1087.4 750.1,1087.4 750.2,1087.4 750.3,1087.5 750.4,1087.5 750.5,1087.5 750.6,1087.5 750.7,1087.5 750.8,1087.5 750.9,1087.5 751,1087.5 751.1,1087.5 751.2,1087.5 752.2,1087.3 753.2,1087.2 754.2,1087.6 755.2,1087.7 756.2,1087.2 757.2,1087.3 758.2,1087.7 759.2,1087.5 760.2,1087.6 761.2,1087.4 762.2,1087.8 763.2,1087.4 764.2,1087.3 765.2,1087.6 766.2,1087.1 766.3,1087 766.4,1086.9 766.5,1086.8 766.6,1086.9 766.7,1087 766.8,1087 766.9,1087.1 767,1087.1 767.1,1087.1 767.2,1087.2 767.3,1087.2 767.4,1087.2 767.5,1087.2 767.6,1087.1 767.7,1087 767.8,1086.9 767.9,1086.8 768,1086.8 768.1,1086.8 768.2,1086.8 768.3,1086.9 768.4,1087.1 768.5,1087.2 768.6,1087.5 768.6,1087.5 768.7,1087.7 768.8,1088 768.9,1088.2 769,1088.5 769.1,1088.7 769.2,1088.8 769.3,1088.9 769.4,1088.9 769.5,1088.9 769.6,1088.7 769.7,1088.5 769.8,1088.3 769.9,1088.1 770,1087.9 770.1,1087.8 770.2,1087.7 770.3,1087.6 770.4,1087.5 770.5,1087.4 770.6,1087.4 770.7,1087.4 770.8,1087.3 770.9,1087.3 771,1087.3 771.1,1087.3 771.2,1087.3 771.3,1087.2 771.4,1087.2 771.5,1087.2 771.6,1087.2 771.7,1087.2 771.8,1087.2 771.9,1087.2 772,1087.2 772.1,1087.2 772.2,1087.2 772.3,1087.2 772.4,1087.2 772.5,1087.2 772.6,1087.2 772.7,1087.2 772.8,1087.2 772.9,1087.2 773,1087.3 773.1,1087.3 773.2,1087.3 773.3,1087.3 773.4,1087.3 773.5,1087.3 773.6,1087.2 773.7,1087.1 773.8,1087 773.9,1086.9 774,1086.7 774.1,1086.6 774.2,1086.4 774.3,1086.3 774.4,1086.2 774.5,1086.2 774.6,1086.3 774.7,1086.5 774.8,1086.7 774.9,1086.9 775,1087.2 775,1087.3 775.1,1087.5 775.2,1087.8 775.3,1088.2 775.4,1088.5 775.5,1088.7 775.6,1088.8 775.7,1088.9 775.8,1088.8 775.9,1088.7 776,1088.6 776.1,1088.4 776.2,1088.2 776.3,1088.1 776.4,1087.9 776.5,1087.8 776.6,1087.7 776.7,1087.6 776.8,1087.6 776.9,1087.5 777,1087.5 777.1,1087.5 777.2,1087.4 777.3,1087.4 777.4,1087.4 777.5,1087.3 777.6,1087.3 777.7,1087.3 777.8,1087.2 777.9,1087.2 778,1087.2 778.1,1087.1 778.2,1087.1 778.3,1087.1 778.4,1087 778.5,1087 778.6,1087 778.7,1087.1 778.8,1087.1 778.9,1087.1 779,1087.2 779.1,1087.2 779.2,1087.2 779.3,1087.3 779.4,1087.3 779.5,1087.4 779.6,1087.3 779.7,1087.3 779.8,1087.3 779.9,1087.3 780,1087.3 780.1,1087.3 780.2,1087.3 780.3,1087.3 780.4,1087.3 780.5,1087.3 780.6,1087.3 780.7,1087.3 780.8,1087.3 780.9,1087.3 781,1087.2 782,1087.4 783,1087.3 784,1087.1 785,1087.5 786,1087.6 787,1087.4 788,1087.4 789,1087.8 790,1087.5 791,1087.3 792,1087.5 793,1087.4 794,1087.2 795,1087.5 796,1087.8 797,1087.8 798,1087.8 799,1087.5 800,1087.3 801,1087.2 802,1087.4 803,1087.5 804,1087.5 805,1087.6 806,1087.4 807,1087.2 808,1087.2 809,1087.5 810,1087.6 811,1087.3 812,1087.4 813,1087.3 814,1087.1 815,1087.1 816,1087.2 817,1087.2 818,1087.2 819,1087.5 820,1087.6 821,1087.3 822,1087.3 823,1087.6 824,1087.9 825,1087.7 826,1087.3 827,1087.4 828,1087.8 829,1087.8 830,1087.9 831,1087.6 832,1087.1 833,1087.1 834,1087.4 835,1087.5 836,1087.6 837,1087.5 838,1087.4 839,1087.9 840,1087.7 841,1087.6 842,1087.8 843,1087.9 844,1087.8 845,1087.5 846,1087.3 847,1087.6 848,1087.6 849,1087.5 850,1087.8 851,1087.5 851.1,1087.4 851.2,1087.4 851.3,1087.3 851.4,1087.2 851.5,1087.2 851.6,1087.2 851.7,1087.2 851.8,1087.2 851.9,1087.2 852,1087.2 852.1,1087.2 852.2,1087.2 852.3,1087.2 852.4,1087.2 852.5,1087.1 852.6,1087 852.7,1086.9 852.8,1086.8 852.9,1086.8 853,1086.7 853.1,1086.7 853.2,1086.7 853.3,1086.8 853.4,1087 853.5,1087.1 853.6,1087.3 853.6,1087.4 853.7,1087.5 853.8,1087.8 853.9,1088 854,1088.2 854.1,1088.3 854.2,1088.4 854.3,1088.5 854.4,1088.4 854.5,1088.3 854.6,1088.2 854.7,1088.1 854.8,1088 854.9,1087.9 855,1087.8 855.1,1087.8 855.2,1087.7 855.3,1087.7 855.4,1087.8 855.5,1087.8 855.6,1087.7 855.7,1087.7 855.8,1087.6 855.9,1087.5 856,1087.5 856.1,1087.4 856.2,1087.4 856.3,1087.3 856.4,1087.2 856.5,1087.2 856.6,1087.2 856.7,1087.3 856.8,1087.4 856.9,1087.4 857,1087.5 857.1,1087.6 857.2,1087.6 857.3,1087.7 857.4,1087.8 857.5,1087.8 857.6,1087.8 857.7,1087.7 857.8,1087.6 857.9,1087.5 858,1087.5 858.1,1087.4 858.2,1087.3 858.3,1087.3 858.4,1087.2 858.5,1087.1 858.6,1087.1 858.7,1087.1 858.8,1087.1 858.9,1087.1 859,1087.1 859.1,1087.1 859.2,1087.2 859.3,1087.2 859.4,1087.2 859.5,1087.2 859.6,1087.2 860.6,1087.5 861.6,1087.9 862.6,1087.3 863.6,1088 864.6,1087.5 865.6,1087.6 866.6,1087.9 867.6,1087.3 868.6,1087.3 869.6,1087.4 870.6,1087.6 871.6,1087.5 872.6,1087.4 873.6,1087.7 874.6,1087.1 875.6,1087 876.6,1087.1 877.6,1087.1 878.6,1087.6 879.6,1087.1 880.6,1087.9 881.6,1087.6 882.6,1087.9 883.6,1087.5 884.6,1087.3 885.6,1087.3 886.6,1087.6 887.6,1087.7 888.6,1087.8 889.6,1087.6 890.6,1087.7 891.6,1087.8 892.6,1087.3 893.6,1087.5 894.6,1087.6 895.6,1087.8 896.6,1087.3 897.6,1087.8 898.6,1087.7 899.6,1087.4 900.6,1087.1 900.7,1087 900.8,1087 900.9,1086.9 901,1086.9 901.1,1086.8 901.2,1086.8 901.3,1086.7 901.4,1086.6 901.5,1086.6 901.6,1086.5 901.7,1086.5 901.8,1086.5 901.9,1086.5 902,1086.4 902.1,1086.3 902.2,1086.2 902.3,1086.1 902.4,1085.9 902.5,1085.7 902.6,1085.5 902.7,1085.3 902.8,1085.2 902.9,1085.2 903,1085.2 903.1,1085.3 903.2,1085.5 903.3,1085.8 903.4,1086.1 903.4,1086.2 903.5,1086.4 903.6,1086.8 903.7,1087.1 903.8,1087.5 903.9,1087.7 904,1087.9 904.1,1088 904.2,1088 904.3,1087.9 904.4,1087.8 904.5,1087.6 904.6,1087.5 904.7,1087.4 904.8,1087.3 904.9,1087.2 905,1087.1 905.1,1087.1 905.2,1087.1 905.3,1087.1 905.4,1087.2 905.5,1087.2 905.6,1087.2 905.7,1087.2 905.8,1087.2 905.9,1087.2 906,1087.2 906.1,1087.2 906.2,1087.2 906.3,1087.2 906.4,1087.2 906.5,1087.2 906.6,1087.3 906.7,1087.4 906.8,1087.5 906.9,1087.5 907,1087.6 907.1,1087.7 907.2,1087.8 907.3,1087.8 907.4,1087.9 907.5,1088 907.6,1088 907.7,1087.9 907.8,1087.9 907.9,1087.9 908,1087.9 908.1,1087.9 908.2,1087.9 908.3,1087.9 908.4,1087.8 908.5,1087.8 908.6,1087.8 908.7,1087.9 908.8,1087.9 908.9,1087.9 909,1087.9 909.1,1088 909.2,1088 909.3,1088 909.4,1088 910.4,1087.2 911.4,1087.2 912.4,1087.3 913.4,1087.7 914.4,1087.7 915.4,1087.8 916.4,1087.4 917.4,1087 918.4,1087.6 919.4,1088 920.4,1087.9 921.4,1087.7"/>
<rect x="124.8" y="1007.8" width="2.8" height="24.2" fill="#23a012"/>
<rect x="300" y="1007.8" width="2.8" height="24.2" fill="#23a012"/>
<rect x="313" y="1007.8" width="6.4" height="24.2" fill="#23a012"/>
<rect x="376.8" y="1007.8" width="2.8" height="24.2" fill="#23a012"/>
<rect x="417.3" y="1007.8" width="2.8" height="24.2" fill="#23a012"/>
<rect x="513.2" y="1007.8" width="6" height="24.2" fill="#23a012"/>
<rect x="572.5" y="1007.8" width="7.5" height="24.2" fill="#23a012"/>
<rect x="609.2" y="1007.8" width="3" height="24.2" fill="#23a012"/>
<rect x="694" y="1007.8" width="15" height="24.2" fill="#23a012"/>
<rect x="735.9" y="1007.8" width="4.5" height="24.2" fill="#23a012"/>
<rect x="744.5" y="1007.8" width="4.5" height="24.2" fill="#23a012"/>
<rect x="768" y="1007.8" width="4.5" height="24.2" fill="#23a012"/>
<rect x="774.8" y="1007.8" width="4.5" height="24.2" fill="#23a012"/>
<rect x="851.3" y="1007.8" width="7" height="24.2" fill="#23a012"/>
<rect x="902.5" y="1007.8" width="6.2" height="24.2" fill="#23a012"/>
<path fill="none" stroke="#000" stroke-width="6" stroke-linecap="butt" d="M90 3V1127 M87 6H928 M925 3V1136 M87 563.3H928 M87 1120H928"/>
<path fill="none" stroke="#000" stroke-width="6" d="M139.1 9v12.7M139.1 566.3v12.7M139.1 1123v13M188.2 9v5M188.2 566.3v5M188.2 1123v5.3M237.4 9v12.7M237.4 566.3v12.7M237.4 1123v13M286.5 9v5M286.5 566.3v5M286.5 1123v5.3M335.6 9v12.7M335.6 566.3v12.7M335.6 1123v13M384.7 9v5M384.7 566.3v5M384.7 1123v5.3M433.8 9v12.7M433.8 566.3v12.7M433.8 1123v13M482.9 9v5M482.9 566.3v5M482.9 1123v5.3M532.1 9v12.7M532.1 566.3v12.7M532.1 1123v13M581.2 9v5M581.2 566.3v5M581.2 1123v5.3M630.3 9v12.7M630.3 566.3v12.7M630.3 1123v13M679.4 9v5M679.4 566.3v5M679.4 1123v5.3M728.5 9v12.7M728.5 566.3v12.7M728.5 1123v13M777.6 9v5M777.6 566.3v5M777.6 1123v5.3M826.8 9v12.7M826.8 566.3v12.7M826.8 1123v13M875.9 9v5M875.9 566.3v5M875.9 1123v5.3M93 45.5h12.5M922 45.5h-12.5M93 145.3h4.5M922 145.3h-4.5M93 245h12.5M922 245h-12.5M93 344.8h4.5M922 344.8h-4.5M93 444.5h12.5M922 444.5h-12.5M93 544.3h4.5M922 544.3h-4.5M93 635.5h4.5M922 635.5h-4.5M93 708.9h12.5M922 708.9h-12.5M93 782.3h4.5M922 782.3h-4.5M93 855.7h12.5M922 855.7h-12.5M93 929.1h4.5M922 929.1h-4.5M93 1002.5h12.5M922 1002.5h-12.5M93 1075.9h4.5M922 1075.9h-4.5"/>
<g font-family="Liberation Sans, sans-serif" font-weight="bold" font-size="21" fill="#000" stroke="#000" stroke-width="0.45">
<text transform="translate(155.5 100.8) rotate(-90)" textLength="47.4" lengthAdjust="spacingAndGlyphs">(003)</text>
<text transform="translate(303.6 298.7) rotate(-90)" textLength="46.6" lengthAdjust="spacingAndGlyphs">(101)</text>
<text transform="translate(330.6 385.8) rotate(-90)" textLength="111.9" lengthAdjust="spacingAndGlyphs">(006) / (102)</text>
<text transform="translate(387.3 142.2) rotate(-90)" textLength="46.9" lengthAdjust="spacingAndGlyphs">(104)</text>
<text transform="translate(423.4 397.1) rotate(-90)" textLength="48.6" lengthAdjust="spacingAndGlyphs">(105)</text>
<text transform="translate(518.8 396.9) rotate(-90)" textLength="113" lengthAdjust="spacingAndGlyphs">(107) / (009)</text>
<text transform="translate(562.5 379.4) rotate(-90)" textLength="47.7" lengthAdjust="spacingAndGlyphs">(108)</text>
<text transform="translate(592.5 381.2) rotate(-90)" textLength="47.1" lengthAdjust="spacingAndGlyphs">(110)</text>
<text transform="translate(623.9 406.1) rotate(-90)" textLength="47.2" lengthAdjust="spacingAndGlyphs">(113)</text>
<text transform="translate(699.2 422.1) rotate(-90)" textLength="47.1" lengthAdjust="spacingAndGlyphs">(201)</text>
<text transform="translate(719.8 424.1) rotate(-90)" textLength="47.2" lengthAdjust="spacingAndGlyphs">(116)</text>
<text transform="translate(743.7 417.5) rotate(-90)" textLength="57" lengthAdjust="spacingAndGlyphs">(0012)</text>
<text transform="translate(763 413.7) rotate(-90)" textLength="46.7" lengthAdjust="spacingAndGlyphs">(204)</text>
<text transform="translate(784.3 428.1) rotate(-90)" textLength="123.2" lengthAdjust="spacingAndGlyphs">(1011) / (205)</text>
<text transform="translate(849.7 423.1) rotate(-90)" textLength="47.2" lengthAdjust="spacingAndGlyphs">(119)</text>
<text transform="translate(871.2 425) rotate(-90)" textLength="46.7" lengthAdjust="spacingAndGlyphs">(207)</text>
<text transform="translate(910.1 427.8) rotate(-90)" textLength="45.8" lengthAdjust="spacingAndGlyphs">(208)</text>
<text transform="translate(153.2 654.1) rotate(-90)" textLength="47.2" lengthAdjust="spacingAndGlyphs">(003)</text>
<text transform="translate(306.2 855.1) rotate(-90)" textLength="48.7" lengthAdjust="spacingAndGlyphs">(101)</text>
<text transform="translate(331.2 940.1) rotate(-90)" textLength="111.2" lengthAdjust="spacingAndGlyphs">(006) / (102)</text>
<text transform="translate(384.8 695) rotate(-90)" textLength="46.7" lengthAdjust="spacingAndGlyphs">(104)</text>
<text transform="translate(428.5 951.9) rotate(-90)" textLength="48" lengthAdjust="spacingAndGlyphs">(105)</text>
<text transform="translate(522.3 951.9) rotate(-90)" textLength="111.9" lengthAdjust="spacingAndGlyphs">(107) / (009)</text>
<text transform="translate(568.4 934.3) rotate(-90)" textLength="47.6" lengthAdjust="spacingAndGlyphs">(108)</text>
<text transform="translate(593.4 928.2) rotate(-90)" textLength="47.6" lengthAdjust="spacingAndGlyphs">(110)</text>
<text transform="translate(623.9 962.7) rotate(-90)" textLength="48.9" lengthAdjust="spacingAndGlyphs">(113)</text>
<text transform="translate(694.4 976.7) rotate(-90)" textLength="47.2" lengthAdjust="spacingAndGlyphs">(201)</text>
<text transform="translate(716.2 979.1) rotate(-90)" textLength="46.5" lengthAdjust="spacingAndGlyphs">(116)</text>
<text transform="translate(738.8 973) rotate(-90)" textLength="57.8" lengthAdjust="spacingAndGlyphs">(0012)</text>
<text transform="translate(758.8 969.1) rotate(-90)" textLength="47.2" lengthAdjust="spacingAndGlyphs">(204)</text>
<text transform="translate(785 983) rotate(-90)" textLength="122.8" lengthAdjust="spacingAndGlyphs">(1011) / (205)</text>
<text transform="translate(848.4 977.9) rotate(-90)" textLength="47" lengthAdjust="spacingAndGlyphs">(119)</text>
<text transform="translate(870.8 980) rotate(-90)" textLength="47.1" lengthAdjust="spacingAndGlyphs">(207)</text>
<text transform="translate(914 983.6) rotate(-90)" textLength="47" lengthAdjust="spacingAndGlyphs">(208)</text>
</g>
<g font-family="Liberation Sans, sans-serif" font-weight="bold" font-size="36.5" fill="#000">
<text x="527.9" y="59.4" textLength="172.2" lengthAdjust="spacingAndGlyphs">Observed</text>
<text x="532.1" y="106.3" textLength="187.7" lengthAdjust="spacingAndGlyphs">Calculated</text>
<text x="531.2" y="154.6" textLength="182.6" lengthAdjust="spacingAndGlyphs">Difference</text>
<text x="531.2" y="202.9" textLength="357.8" lengthAdjust="spacingAndGlyphs">Bragg peak position</text>
<text x="825.5" y="80.5" font-size="50.7">(a)</text>
<text x="822.4" y="652" font-size="50.7" textLength="63.3" lengthAdjust="spacingAndGlyphs">(b)</text>
</g>
<path stroke="#f40206" stroke-width="4.2" d="M466.5 46.3h19M476 36.8v19"/>
<path stroke="#000" stroke-width="3.6" d="M434 93.4h86.6"/>
<path stroke="#2440e0" stroke-width="3.6" d="M434 141.5h86.6"/>
<path stroke="#23a012" stroke-width="2.4" d="M476.5 179v23.5"/>
<g transform="translate(0 0)">
<g fill="#000"><rect x="567" y="242.3" width="6.3" height="29.3"/><rect x="564.7" y="241.3" width="10" height="5.2" rx="2.2"/><rect x="564.7" y="267.3" width="10" height="5.3" rx="2.2"/></g>
<g fill="#000"><rect x="659.6" y="242.3" width="6.3" height="29.3"/><rect x="657.3" y="241.3" width="10" height="5.2" rx="2.2"/><rect x="657.3" y="267.3" width="10" height="5.3" rx="2.2"/></g>
<g font-family="Liberation Sans, sans-serif" font-weight="bold">
<text x="585.5" y="271.5" font-size="21" textLength="36.5" lengthAdjust="spacingAndGlyphs">003</text>
<text x="631" y="271.5" font-size="37">/</text>
<text x="678.5" y="271.5" font-size="21" textLength="36.5" lengthAdjust="spacingAndGlyphs">104</text>
<text x="725" y="271.5" font-size="37">=</text>
<text x="757" y="271.5" font-size="38" textLength="113.2" lengthAdjust="spacingAndGlyphs">1.2378</text>
</g></g>
<g transform="translate(2.5 545.5)">
<g fill="#000"><rect x="567" y="242.3" width="6.3" height="29.3"/><rect x="564.7" y="241.3" width="10" height="5.2" rx="2.2"/><rect x="564.7" y="267.3" width="10" height="5.3" rx="2.2"/></g>
<g fill="#000"><rect x="659.6" y="242.3" width="6.3" height="29.3"/><rect x="657.3" y="241.3" width="10" height="5.2" rx="2.2"/><rect x="657.3" y="267.3" width="10" height="5.3" rx="2.2"/></g>
<g font-family="Liberation Sans, sans-serif" font-weight="bold">
<text x="585.5" y="271.5" font-size="21" textLength="36.5" lengthAdjust="spacingAndGlyphs">003</text>
<text x="631" y="271.5" font-size="37">/</text>
<text x="678.5" y="271.5" font-size="21" textLength="36.5" lengthAdjust="spacingAndGlyphs">104</text>
<text x="725" y="271.5" font-size="37">=</text>
<text x="757" y="271.5" font-size="38" textLength="113.2" lengthAdjust="spacingAndGlyphs">1.2381</text>
</g></g>
<g font-family="Liberation Sans, sans-serif" font-weight="bold" text-anchor="middle" font-size="46">
<text x="139.4" y="1181.8" textLength="48.8" lengthAdjust="spacingAndGlyphs">20</text>
<text x="237.7" y="1181.8" textLength="48.8" lengthAdjust="spacingAndGlyphs">30</text>
<text x="335.9" y="1181.8" textLength="48.8" lengthAdjust="spacingAndGlyphs">40</text>
<text x="434.1" y="1181.8" textLength="48.8" lengthAdjust="spacingAndGlyphs">50</text>
<text x="532.4" y="1181.8" textLength="48.8" lengthAdjust="spacingAndGlyphs">60</text>
<text x="630.6" y="1181.8" textLength="48.8" lengthAdjust="spacingAndGlyphs">70</text>
<text x="728.8" y="1181.8" textLength="48.8" lengthAdjust="spacingAndGlyphs">80</text>
<text x="827.1" y="1181.8" textLength="48.8" lengthAdjust="spacingAndGlyphs">90</text>
<text x="925.3" y="1181.8" textLength="73" lengthAdjust="spacingAndGlyphs">100</text>
</g>
<g font-family="Liberation Sans, sans-serif" font-weight="bold" font-size="65.5">
<text transform="translate(47.9 826.8) rotate(-90)">Intensity</text>
<text transform="translate(47.9 503.5) rotate(-90)">/</text>
<text transform="translate(47.9 431.5) rotate(-90)">A.U.</text>
</g>
<g font-family="Liberation Sans, sans-serif" font-weight="bold" font-size="64">
<text x="375.2" y="1278.3">C</text>
<text x="418.2" y="1278.3">u</text>
<text x="475.3" y="1278.3">K</text>
<text x="573.5" y="1278.3">2</text>
</g>
<g font-family="Liberation Serif, serif" stroke="#000" stroke-width="1.3">
<text transform="translate(515.8 1278.3) scale(1.2 1)" x="0" y="0" font-size="66">&#945;</text>
<text transform="translate(608.5 1278.6) scale(1.08 1)" x="0" y="0" font-size="57.5">&#952;</text>
</g>
</svg>
</body></html>
